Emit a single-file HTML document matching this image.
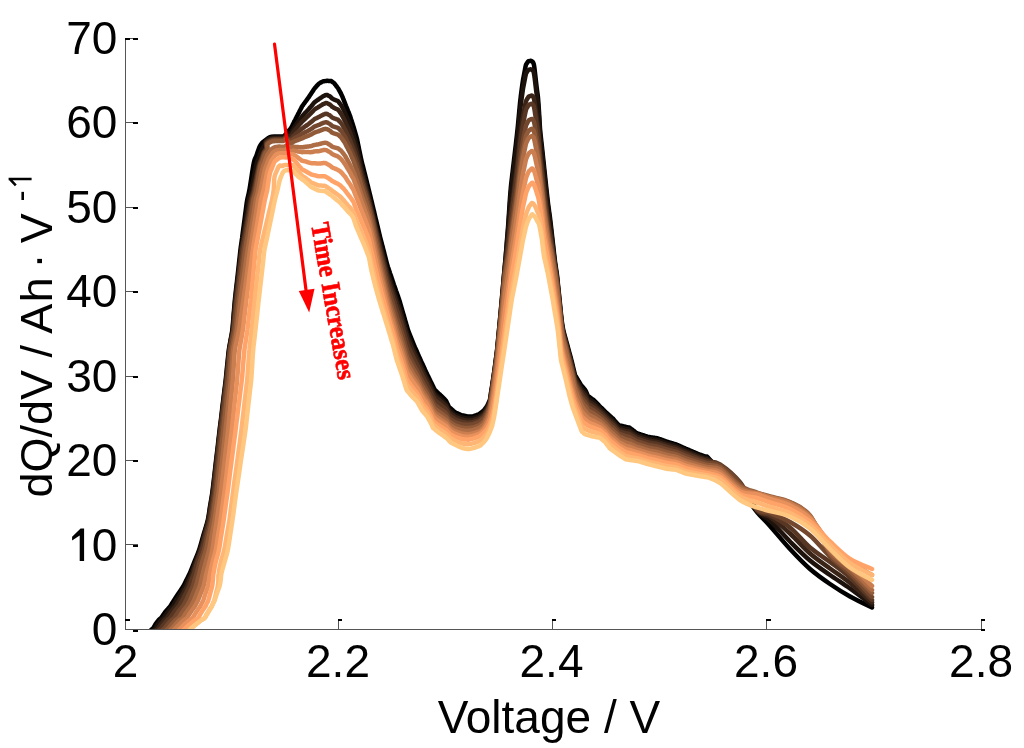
<!DOCTYPE html>
<html><head><meta charset="utf-8"><style>
html,body{margin:0;padding:0;background:#fff;}
body{width:1024px;height:748px;overflow:hidden;position:relative;}
svg{position:absolute;left:0;top:0;}
.t{font-family:"Liberation Sans",sans-serif;font-size:46px;fill:#000;}
.ga{opacity:0.995;}
</style></head><body>
<svg width="1024" height="748" viewBox="0 0 1024 748">
<defs><clipPath id="c"><rect x="125" y="0" width="900" height="629.5"/></clipPath></defs>
<g clip-path="url(#c)" fill="none" stroke-width="4.5" stroke-linejoin="round" stroke-linecap="round">
<path d="M136.0,660.0C137.2,656.7 141.1,644.8 143.5,640.0C145.9,635.2 148.7,633.0 150.3,631.0C151.9,629.0 152.4,629.2 153.3,628.0C154.2,626.8 154.7,625.3 155.6,624.0C156.5,622.7 157.8,621.0 158.7,620.0C159.6,619.0 160.3,618.8 161.0,618.0C161.7,617.2 162.4,616.0 163.2,615.0C163.9,614.0 164.5,613.0 165.3,612.0C166.1,611.0 167.0,610.0 167.9,609.0C168.7,608.0 169.7,607.0 170.4,606.0C171.1,605.0 171.7,604.0 172.3,603.0C172.9,602.0 173.1,601.7 174.2,600.0C175.3,598.3 177.3,595.3 178.8,593.0C180.4,590.7 182.2,588.2 183.5,586.0C184.8,583.8 185.4,582.0 186.4,580.0C187.4,578.0 188.2,577.0 189.5,574.0C190.8,571.0 192.7,566.0 194.3,562.0C195.9,558.0 197.6,554.5 199.1,550.0C200.6,545.5 202.0,540.0 203.4,535.0C204.9,530.0 206.7,524.8 207.8,520.0C208.9,515.2 209.3,510.7 210.1,506.0C210.9,501.3 211.7,497.0 212.4,492.0C213.1,487.0 213.6,481.3 214.3,476.0C214.9,470.7 215.5,465.2 216.1,460.0C216.7,454.8 217.3,450.0 217.9,445.0C218.4,440.0 219.1,434.5 219.6,430.0C220.1,425.5 220.6,422.2 221.1,418.0C221.6,413.8 222.1,409.3 222.6,405.0C223.2,400.7 223.7,396.2 224.2,392.0C224.7,387.8 225.2,384.5 225.7,380.0C226.2,375.5 226.7,370.0 227.2,365.0C227.8,360.0 228.2,354.2 228.8,350.0C229.4,345.8 230.0,343.3 230.6,340.0C231.1,336.7 231.8,334.2 232.3,330.0C232.8,325.8 233.2,320.0 233.6,315.0C234.0,310.0 234.5,304.5 234.9,300.0C235.3,295.5 235.8,292.2 236.2,288.0C236.7,283.8 237.2,279.3 237.7,275.0C238.2,270.7 238.7,266.2 239.1,262.0C239.6,257.8 240.0,254.0 240.4,250.0C240.9,246.0 241.5,242.2 242.1,238.0C242.6,233.8 243.2,229.3 243.8,225.0C244.4,220.7 245.0,216.2 245.5,212.0C246.1,207.8 246.5,203.7 247.2,200.0C247.8,196.3 248.3,196.2 249.4,190.0C250.5,183.8 252.6,168.8 253.8,163.0C255.0,157.2 255.6,158.2 256.5,155.5C257.4,152.8 258.6,149.1 259.5,147.0C260.4,144.9 261.1,144.1 262.0,143.0C262.9,141.9 263.7,141.5 265.0,140.5C266.3,139.5 268.3,137.9 270.0,137.2C271.7,136.5 272.9,136.6 275.0,136.5C277.1,136.4 280.8,136.8 282.5,136.5C284.2,136.2 284.2,135.8 285.0,135.0C285.8,134.2 286.5,133.2 287.5,132.0C288.5,130.8 290.1,129.3 291.0,128.0C291.9,126.7 292.5,125.1 293.0,124.1C293.5,123.1 293.7,122.8 294.0,122.1C294.3,121.5 294.7,120.8 295.0,120.2C295.3,119.5 295.7,118.9 296.0,118.2C296.3,117.6 296.7,116.9 297.0,116.3C297.3,115.6 297.7,115.0 298.0,114.3C298.3,113.7 298.7,113.0 299.0,112.4C299.3,111.7 299.7,111.1 300.0,110.4C300.3,109.8 300.7,109.1 301.0,108.5C301.3,107.8 301.7,107.1 302.0,106.5C302.3,105.9 302.7,105.6 303.0,105.1C303.3,104.7 303.7,104.2 304.0,103.7C304.3,103.3 304.7,102.8 305.0,102.3C305.3,101.9 305.7,101.4 306.0,101.0C306.3,100.5 306.7,100.0 307.0,99.6C307.3,99.1 307.7,98.7 308.0,98.2C308.3,97.7 308.7,97.2 309.0,96.8C309.3,96.3 309.7,95.8 310.0,95.2C310.3,94.8 310.7,94.2 311.0,93.8C311.3,93.2 311.7,92.8 312.0,92.2C312.3,91.8 312.7,91.2 313.0,90.8C313.3,90.2 313.7,89.7 314.0,89.2C314.3,88.8 314.7,88.3 315.0,87.9C315.3,87.5 315.7,87.2 316.0,86.8C316.3,86.5 316.7,86.1 317.0,85.7C317.3,85.4 317.7,85.0 318.0,84.6C318.3,84.2 318.7,83.8 319.0,83.5C319.3,83.2 319.7,83.1 320.0,83.0C320.3,82.8 320.7,82.6 321.0,82.5C321.3,82.3 321.7,82.1 322.0,81.9C322.3,81.8 322.7,81.5 323.0,81.4C323.3,81.3 323.7,81.3 324.0,81.2C324.3,81.2 324.7,81.1 325.0,81.1C325.3,81.0 325.7,81.0 326.0,81.0C326.3,80.9 326.7,80.8 327.0,80.8C327.3,80.8 327.7,80.8 328.0,80.8C328.3,80.9 328.7,80.9 329.0,80.9C329.3,80.9 329.7,80.9 330.0,81.0C330.3,81.0 330.7,80.9 331.0,81.0C331.3,81.1 331.7,81.4 332.0,81.7C332.3,81.9 332.7,82.1 333.0,82.3C333.3,82.6 333.7,82.7 334.0,83.0C334.3,83.3 334.7,83.9 335.0,84.3C335.3,84.7 335.7,85.2 336.0,85.6C336.3,86.0 336.7,86.5 337.0,86.9C337.3,87.3 337.7,87.7 338.0,88.2C338.3,88.7 338.7,89.4 339.0,90.0C339.3,90.6 339.7,91.2 340.0,91.8C340.3,92.4 340.7,92.9 341.0,93.6C341.3,94.3 341.7,95.0 342.0,95.7C342.3,96.5 342.7,97.4 343.0,98.2C343.3,99.0 343.7,99.9 344.0,100.7C344.3,101.6 344.7,102.4 345.0,103.2C345.3,104.1 345.7,104.9 346.0,105.8C346.3,106.6 346.7,107.5 347.0,108.3C347.3,109.1 347.7,109.9 348.0,110.8C348.3,111.6 348.7,112.4 349.0,113.2C349.3,114.1 349.7,114.9 350.0,115.8C350.3,116.7 350.7,117.8 351.0,118.9C351.3,119.9 351.7,120.8 352.0,121.9C352.3,122.9 352.7,124.0 353.0,125.1C353.3,126.2 353.7,127.3 354.0,128.4C354.3,129.5 354.7,130.7 355.0,131.8C355.3,133.0 355.7,134.2 356.0,135.4C356.3,136.6 356.7,137.6 357.0,139.0C357.3,140.4 357.7,142.3 358.0,143.9C358.3,145.5 358.7,147.1 359.0,148.8C359.3,150.4 359.7,152.0 360.0,153.7C360.3,155.3 360.7,157.0 361.0,158.5C361.3,160.0 361.7,161.4 362.0,162.7C362.3,164.1 362.7,165.3 363.0,166.6C363.3,167.9 363.7,169.2 364.0,170.5C364.3,171.9 364.7,173.2 365.0,174.5C365.3,175.8 365.7,177.2 366.0,178.5C366.3,179.9 366.7,181.2 367.0,182.6C367.3,183.9 367.7,185.3 368.0,186.6C368.3,188.0 368.7,189.4 369.0,190.7C369.3,192.1 369.7,193.4 370.0,194.8C370.3,196.2 370.7,197.5 371.0,198.9C371.3,200.2 371.7,201.6 372.0,203.0C372.3,204.3 372.7,205.7 373.0,207.1C373.3,208.5 373.7,209.9 374.0,211.3C374.3,212.7 374.7,214.2 375.0,215.6C375.3,217.0 375.7,218.4 376.0,219.8C376.3,221.2 376.7,222.6 377.0,224.0C377.3,225.4 377.7,226.8 378.0,228.2C378.3,229.6 378.7,231.1 379.0,232.5C379.3,233.9 379.7,235.2 380.0,236.6C380.3,237.9 380.7,239.2 381.0,240.5C381.3,241.8 381.7,243.1 382.0,244.4C382.3,245.6 382.7,246.9 383.0,248.2C383.3,249.5 383.7,250.8 384.0,252.1C384.3,253.4 384.7,254.7 385.0,256.0C385.3,257.3 385.7,258.6 386.0,259.9C386.3,261.2 386.7,262.6 387.0,263.8C387.3,265.0 387.7,266.0 388.0,267.1C388.3,268.1 388.7,269.1 389.0,270.1C389.3,271.1 389.7,272.1 390.0,273.1C390.3,274.0 390.7,275.0 391.0,276.0C391.3,277.0 391.7,278.0 392.0,279.0C392.3,280.0 392.7,281.0 393.0,282.0C393.3,283.0 393.7,283.9 394.0,284.9C394.3,285.8 394.7,286.8 395.0,287.7C395.3,288.7 395.7,289.6 396.0,290.6C396.3,291.5 396.7,292.5 397.0,293.4C397.3,294.4 397.7,295.3 398.0,296.3C398.3,297.2 398.7,298.1 399.0,299.1C399.3,300.2 399.7,301.3 400.0,302.4C400.3,303.5 400.7,304.7 401.0,305.9C401.3,307.0 401.7,308.2 402.0,309.3C402.3,310.5 402.7,311.6 403.0,312.8C403.3,313.9 403.7,315.1 404.0,316.2C404.3,317.4 404.7,318.5 405.0,319.7C405.3,320.8 405.7,322.0 406.0,323.1C406.3,324.3 406.7,325.4 407.0,326.6C407.3,327.7 407.7,329.0 408.0,330.0C408.3,331.0 408.7,331.7 409.0,332.5C409.3,333.3 409.7,334.2 410.0,335.0C410.3,335.8 410.7,336.7 411.0,337.5C411.3,338.3 411.7,339.2 412.0,340.0C412.3,340.8 412.7,341.7 413.0,342.5C413.3,343.3 413.7,344.2 414.0,345.0C414.3,345.8 414.7,346.5 415.0,347.3C415.3,348.0 415.7,348.8 416.0,349.5C416.3,350.3 416.7,351.1 417.0,351.8C417.3,352.6 417.7,353.3 418.0,354.1C418.3,354.8 418.7,355.6 419.0,356.4C419.3,357.1 419.7,357.9 420.0,358.6C420.3,359.4 420.7,360.1 421.0,360.9C421.3,361.6 421.7,362.3 422.0,363.0C422.3,363.8 422.7,364.5 423.0,365.2C423.3,365.9 423.7,366.7 424.0,367.4C424.3,368.1 424.7,368.8 425.0,369.6C425.3,370.3 425.7,371.0 426.0,371.7C426.3,372.5 426.7,373.2 427.0,373.9C427.3,374.6 427.7,375.3 428.0,376.0C428.3,376.7 428.7,377.4 429.0,378.0C429.3,378.7 429.7,379.4 430.0,380.1C430.3,380.7 430.7,381.4 431.0,382.1C431.3,382.8 431.7,383.4 432.0,384.1C432.3,384.8 432.7,385.5 433.0,386.1C433.3,386.8 433.7,387.5 434.0,388.2C434.3,388.8 434.7,389.6 435.0,390.1C435.3,390.6 435.7,390.7 436.0,391.0C436.3,391.3 436.7,391.6 437.0,392.0C437.3,392.3 437.7,392.6 438.0,392.9C438.3,393.2 438.7,393.5 439.0,393.8C439.3,394.1 439.7,394.4 440.0,394.7C440.3,395.1 440.7,395.4 441.0,395.7C441.3,396.0 441.7,396.4 442.0,396.7C442.3,397.0 442.7,397.4 443.0,397.7C443.3,398.0 443.7,398.4 444.0,398.7C444.3,399.0 444.7,399.4 445.0,399.7C445.3,400.0 445.7,400.2 446.0,400.7C446.3,401.2 446.7,402.1 447.0,402.8C447.3,403.5 447.7,404.2 448.0,404.9C448.3,405.6 448.7,406.5 449.0,407.0C449.3,407.5 449.7,407.6 450.0,407.9C450.3,408.2 450.7,408.4 451.0,408.7C451.3,409.0 451.7,409.3 452.0,409.6C452.3,409.9 452.7,410.2 453.0,410.5C453.3,410.8 453.7,411.1 454.0,411.4C454.3,411.6 454.7,412.0 455.0,412.2C455.3,412.5 455.7,412.6 456.0,412.8C456.3,412.9 456.7,413.0 457.0,413.2C457.3,413.3 457.7,413.5 458.0,413.6C458.3,413.8 458.7,413.9 459.0,414.1C459.3,414.2 459.7,414.4 460.0,414.5C460.3,414.7 460.7,414.8 461.0,415.0C461.3,415.1 461.7,415.2 462.0,415.3C462.3,415.3 462.7,415.4 463.0,415.5C463.3,415.6 463.7,415.6 464.0,415.7C464.3,415.8 464.7,415.8 465.0,415.9C465.3,416.0 465.7,416.1 466.0,416.1C466.3,416.2 466.7,416.3 467.0,416.4C467.3,416.4 467.7,416.5 468.0,416.5C468.3,416.5 468.7,416.5 469.0,416.5C469.3,416.5 469.7,416.5 470.0,416.5C470.3,416.5 470.7,416.5 471.0,416.5C471.3,416.5 471.7,416.5 472.0,416.5C472.3,416.5 472.7,416.4 473.0,416.3C473.3,416.2 473.7,416.1 474.0,416.0C474.3,415.9 474.7,415.8 475.0,415.6C475.3,415.5 475.7,415.4 476.0,415.3C476.3,415.2 476.7,415.1 477.0,415.0C477.3,414.8 477.7,414.7 478.0,414.6C478.3,414.5 478.7,414.3 479.0,414.1C479.3,413.9 479.7,413.6 480.0,413.4C480.3,413.1 480.7,412.9 481.0,412.6C481.3,412.4 481.7,412.1 482.0,411.9C482.3,411.6 482.7,411.4 483.0,411.1C483.3,410.8 483.7,410.6 484.0,410.2C484.3,409.8 484.7,409.3 485.0,408.8C485.3,408.4 485.7,407.9 486.0,407.5C486.3,407.0 486.7,406.7 487.0,406.1C487.3,405.6 487.7,404.9 488.0,404.2C488.3,403.5 488.7,402.6 489.0,401.8C489.3,401.1 489.7,401.0 490.0,399.5C490.3,398.0 490.7,394.9 491.0,392.8C491.3,390.7 491.7,388.8 492.0,386.7C492.3,384.5 492.7,382.2 493.0,380.0C493.3,377.8 493.7,375.6 494.0,373.3C494.3,371.0 494.7,368.6 495.0,366.2C495.3,363.7 495.7,361.0 496.0,358.5C496.3,355.9 496.7,353.7 497.0,350.8C497.3,347.8 497.7,344.1 498.0,340.6C498.3,337.2 498.7,333.7 499.0,330.2C499.3,326.7 499.7,323.2 500.0,319.6C500.3,316.0 500.7,312.3 501.0,308.7C501.3,305.1 501.7,301.4 502.0,297.7C502.3,294.0 502.7,290.2 503.0,286.4C503.3,282.6 503.7,278.7 504.0,275.0C504.3,271.3 504.7,268.0 505.0,264.3C505.3,260.5 505.7,256.5 506.0,252.5C506.3,248.5 506.7,244.2 507.0,240.0C507.3,235.8 507.7,232.0 508.0,227.5C508.3,223.0 508.7,217.8 509.0,212.8C509.3,207.8 509.7,202.1 510.0,197.6C510.3,193.1 510.7,189.1 511.0,185.7C511.3,182.3 511.7,180.0 512.0,177.1C512.3,174.3 512.7,171.4 513.0,168.6C513.3,165.7 513.7,162.9 514.0,160.0C514.3,157.1 514.7,154.3 515.0,151.4C515.3,148.6 515.7,145.7 516.0,142.9C516.3,140.0 516.7,137.3 517.0,134.3C517.3,131.2 517.7,128.0 518.0,124.6C518.3,121.2 518.7,117.5 519.0,113.9C519.3,110.4 519.7,106.4 520.0,103.2C520.3,100.0 520.7,97.3 521.0,94.6C521.3,91.9 521.7,89.6 522.0,87.1C522.3,84.7 522.7,82.1 523.0,80.0C523.3,77.9 523.7,76.5 524.0,74.7C524.3,72.9 524.7,71.0 525.0,69.4C525.3,67.7 525.7,65.7 526.0,64.7C526.3,63.7 526.7,63.7 527.0,63.2C527.3,62.7 527.7,62.1 528.0,61.7C528.3,61.4 528.7,61.1 529.0,61.0C529.3,60.8 529.7,60.9 530.0,60.9C530.3,60.9 530.7,60.8 531.0,60.8C531.3,60.9 531.7,61.1 532.0,61.3C532.3,61.5 532.7,61.7 533.0,62.3C533.3,62.9 533.7,63.4 534.0,65.2C534.3,66.9 534.7,70.1 535.0,72.8C535.3,75.5 535.7,78.8 536.0,81.7C536.3,84.5 536.7,87.3 537.0,90.0C537.3,92.7 537.7,94.1 538.0,97.7C538.3,101.3 538.7,106.6 539.0,111.7C539.3,116.8 539.7,123.9 540.0,128.3C540.3,132.8 540.7,135.0 541.0,138.2C541.3,141.3 541.7,144.2 542.0,147.3C542.3,150.3 542.7,153.5 543.0,156.6C543.3,159.7 543.7,162.9 544.0,166.0C544.3,169.2 544.7,172.3 545.0,175.5C545.3,178.6 545.7,181.8 546.0,184.9C546.3,188.1 546.7,191.3 547.0,194.3C547.3,197.3 547.7,200.3 548.0,203.0C548.3,205.6 548.7,207.9 549.0,210.4C549.3,212.8 549.7,215.1 550.0,217.8C550.3,220.4 550.7,223.3 551.0,226.2C551.3,229.1 551.7,232.1 552.0,235.1C552.3,238.1 552.7,241.0 553.0,244.0C553.3,247.0 553.7,250.0 554.0,252.9C554.3,255.8 554.7,258.8 555.0,261.4C555.3,263.9 555.7,265.9 556.0,268.2C556.3,270.5 556.7,272.3 557.0,275.0C557.3,277.7 557.7,281.4 558.0,284.6C558.3,287.8 558.7,291.0 559.0,294.2C559.3,297.5 559.7,300.7 560.0,304.0C560.3,307.3 560.7,310.9 561.0,314.0C561.3,317.1 561.7,320.0 562.0,322.5C562.3,325.0 562.7,327.0 563.0,328.7C563.3,330.5 563.7,331.6 564.0,332.9C564.3,334.2 564.7,335.4 565.0,336.6C565.3,337.8 565.7,339.0 566.0,340.2C566.3,341.5 566.7,342.7 567.0,343.9C567.3,345.1 567.7,346.3 568.0,347.6C568.3,348.8 568.7,350.0 569.0,351.2C569.3,352.4 569.7,353.7 570.0,354.9C570.3,356.1 570.7,357.3 571.0,358.5C571.3,359.8 571.7,361.1 572.0,362.5C572.3,363.9 572.7,365.3 573.0,366.7C573.3,368.1 573.7,369.4 574.0,370.8C574.3,372.2 574.7,374.0 575.0,375.0C575.3,376.0 575.7,376.1 576.0,376.7C576.3,377.2 576.7,377.8 577.0,378.3C577.3,378.9 577.7,379.4 578.0,380.0C578.3,380.6 578.7,381.1 579.0,381.7C579.3,382.2 579.7,382.8 580.0,383.3C580.3,383.9 580.7,384.5 581.0,385.0C581.3,385.5 581.7,385.8 582.0,386.2C582.3,386.6 582.7,387.0 583.0,387.4C583.3,387.7 583.7,388.1 584.0,388.5C584.3,388.9 584.7,389.2 585.0,389.7C585.3,390.2 585.7,390.8 586.0,391.4C586.3,392.1 586.7,393.0 587.0,393.7C587.3,394.5 587.7,395.5 588.0,396.0C588.3,396.5 588.7,396.5 589.0,396.7C589.3,397.0 589.7,397.2 590.0,397.4C590.3,397.7 590.7,397.9 591.0,398.1C591.3,398.4 591.7,398.6 592.0,398.9C592.3,399.1 592.7,399.3 593.0,399.6C593.3,399.8 593.7,400.0 594.0,400.3C594.3,400.6 594.7,401.0 595.0,401.3C595.3,401.7 595.7,402.0 596.0,402.4C596.3,402.7 596.7,403.1 597.0,403.4C597.3,403.7 597.7,404.1 598.0,404.4C598.3,404.8 598.7,405.1 599.0,405.5C599.3,405.8 599.7,406.2 600.0,406.5C600.3,406.8 600.7,407.2 601.0,407.5C601.3,407.8 601.7,408.1 602.0,408.5C602.3,408.8 602.7,409.1 603.0,409.5C603.3,409.8 603.7,410.1 604.0,410.4C604.3,410.8 604.7,411.1 605.0,411.4C605.3,411.8 605.7,412.1 606.0,412.4C606.3,412.7 606.7,413.0 607.0,413.4C607.3,413.7 607.7,413.9 608.0,414.2C608.3,414.5 608.7,414.8 609.0,415.1C609.3,415.4 609.7,415.7 610.0,416.0C610.3,416.3 610.7,416.6 611.0,416.9C611.3,417.2 611.7,417.5 612.0,417.8C612.3,418.1 612.7,418.4 613.0,418.7C613.3,419.0 613.7,419.5 614.0,419.8C614.3,420.2 614.7,420.6 615.0,421.0C615.3,421.4 615.7,421.7 616.0,422.1C616.3,422.5 616.7,422.9 617.0,423.3C617.3,423.6 617.7,424.0 618.0,424.4C618.3,424.7 618.7,425.1 619.0,425.3C619.3,425.5 619.7,425.5 620.0,425.6C620.3,425.6 620.7,425.7 621.0,425.8C621.3,425.8 621.7,425.9 622.0,426.0C622.3,426.1 622.7,426.1 623.0,426.2C623.3,426.3 623.7,426.4 624.0,426.4C624.3,426.5 624.7,426.6 625.0,426.6C625.3,426.7 625.7,426.8 626.0,426.9C626.3,426.9 626.7,427.0 627.0,427.1C627.3,427.2 627.7,427.2 628.0,427.3C628.3,427.4 628.7,427.4 629.0,427.5C629.3,427.6 629.7,427.8 630.0,428.1C630.3,428.3 630.7,428.6 631.0,428.8C631.3,429.1 631.7,429.3 632.0,429.6C632.3,429.8 632.7,430.1 633.0,430.3C633.3,430.6 633.7,430.8 634.0,431.1C634.3,431.3 634.7,431.6 635.0,431.8C635.3,432.1 635.7,432.4 636.0,432.6C636.3,432.8 636.7,433.1 637.0,433.3C637.3,433.4 637.7,433.5 638.0,433.6C638.3,433.7 638.7,433.8 639.0,433.9C639.3,434.0 639.7,434.1 640.0,434.2C640.3,434.4 640.7,434.5 641.0,434.6C641.3,434.7 641.7,434.8 642.0,434.9C642.3,435.0 642.7,435.1 643.0,435.2C643.3,435.3 643.7,435.4 644.0,435.6C644.3,435.7 644.7,435.8 645.0,435.9C645.3,436.0 645.7,436.1 646.0,436.2C646.3,436.3 646.7,436.4 647.0,436.5C647.3,436.6 647.7,436.8 648.0,436.9C648.3,436.9 648.7,437.0 649.0,437.0C649.3,437.1 649.7,437.1 650.0,437.2C650.3,437.2 650.7,437.3 651.0,437.3C651.3,437.4 651.7,437.4 652.0,437.5C652.3,437.5 652.7,437.6 653.0,437.6C653.3,437.7 653.7,437.7 654.0,437.8C654.3,437.8 654.7,437.9 655.0,437.9C655.3,438.0 655.7,438.0 656.0,438.1C656.3,438.1 656.7,438.2 657.0,438.2C657.3,438.3 657.7,438.4 658.0,438.5C658.3,438.6 658.7,438.7 659.0,438.9C659.3,439.0 659.7,439.1 660.0,439.2C660.3,439.3 660.7,439.4 661.0,439.6C661.3,439.7 661.7,439.8 662.0,439.9C662.3,440.0 662.7,440.1 663.0,440.3C663.3,440.4 663.7,440.5 664.0,440.6C664.3,440.7 664.7,440.9 665.0,441.0C665.3,441.1 665.7,441.2 666.0,441.3C666.3,441.4 666.7,441.6 667.0,441.7C667.3,441.8 667.7,441.9 668.0,442.0C668.3,442.1 668.7,442.2 669.0,442.3C669.3,442.4 669.7,442.5 670.0,442.6C670.3,442.7 670.7,442.8 671.0,442.9C671.3,443.0 671.7,443.1 672.0,443.2C672.3,443.3 672.7,443.4 673.0,443.5C673.3,443.6 673.7,443.7 674.0,443.8C674.3,443.9 674.7,444.0 675.0,444.1C675.3,444.2 675.7,444.2 676.0,444.4C676.3,444.5 676.7,444.7 677.0,444.8C677.3,444.9 677.7,445.1 678.0,445.2C678.3,445.4 678.7,445.5 679.0,445.7C679.3,445.8 679.7,446.0 680.0,446.1C680.3,446.3 680.7,446.4 681.0,446.6C681.3,446.7 681.7,446.9 682.0,447.0C682.3,447.2 682.7,447.3 683.0,447.5C683.3,447.6 683.7,447.8 684.0,447.9C684.3,448.1 684.7,448.2 685.0,448.4C685.3,448.5 685.7,448.7 686.0,448.8C686.3,449.0 686.7,449.1 687.0,449.2C687.3,449.4 687.7,449.5 688.0,449.7C688.3,449.8 688.7,449.9 689.0,450.1C689.3,450.2 689.7,450.4 690.0,450.5C690.3,450.7 690.7,450.8 691.0,450.9C691.3,451.1 691.7,451.2 692.0,451.4C692.3,451.5 692.7,451.6 693.0,451.8C693.3,451.9 693.7,452.1 694.0,452.2C694.3,452.3 694.7,452.5 695.0,452.6C695.3,452.8 695.7,452.9 696.0,453.1C696.3,453.2 696.7,453.3 697.0,453.5C697.3,453.6 697.7,453.8 698.0,453.9C698.3,454.0 698.7,454.2 699.0,454.3C699.3,454.5 699.7,454.6 700.0,454.7C700.3,454.8 700.7,454.9 701.0,455.1C701.3,455.2 701.7,455.3 702.0,455.4C702.3,455.5 702.7,455.6 703.0,455.8C703.3,455.9 703.7,456.0 704.0,456.1C704.3,456.2 704.7,456.3 705.0,456.5C705.3,456.6 705.7,456.7 706.0,456.8C706.3,456.9 706.7,457.0 707.0,457.2C707.3,457.3 705.8,455.2 708.0,457.5C710.2,459.8 714.7,465.6 720.0,471.0C725.3,476.4 733.8,483.2 740.0,490.0C746.2,496.8 752.0,506.0 757.0,512.0C762.0,518.0 764.5,519.8 770.0,526.0C775.5,532.2 783.3,541.8 790.0,549.0C796.7,556.2 803.3,563.2 810.0,569.0C816.7,574.8 823.3,579.4 830.0,584.0C836.7,588.6 843.0,592.6 850.0,596.5C857.0,600.4 868.3,605.7 872.0,607.5" stroke="#000000"/>
<path d="M138.1,660.0C139.4,656.7 143.3,644.8 145.7,640.0C148.1,635.2 150.9,633.0 152.5,631.0C154.2,629.0 154.6,629.2 155.5,628.0C156.4,626.8 157.0,625.3 158.0,624.0C158.9,622.7 160.3,621.0 161.2,620.0C162.1,619.0 162.8,618.8 163.5,618.0C164.3,617.2 165.0,616.0 165.7,615.0C166.4,614.0 167.0,613.0 167.8,612.0C168.6,611.0 169.5,610.0 170.3,609.0C171.1,608.0 172.1,607.0 172.8,606.0C173.5,605.0 174.1,604.0 174.7,603.0C175.3,602.0 175.5,601.7 176.5,600.0C177.6,598.3 179.4,595.3 180.9,593.0C182.3,590.7 184.1,588.2 185.3,586.0C186.4,583.8 187.0,582.0 187.9,580.0C188.9,578.0 189.6,577.0 190.8,574.0C192.0,571.0 193.8,566.0 195.3,562.0C196.8,558.0 198.4,554.5 199.9,550.0C201.4,545.5 202.6,540.0 204.0,535.0C205.4,530.0 207.1,524.8 208.2,520.0C209.2,515.2 209.7,510.7 210.4,506.0C211.2,501.3 212.0,497.0 212.7,492.0C213.4,487.0 214.0,481.3 214.6,476.0C215.2,470.7 215.8,465.2 216.4,460.0C217.0,454.8 217.6,450.0 218.2,445.0C218.7,440.0 219.4,434.5 219.9,430.0C220.4,425.5 220.8,422.2 221.4,418.0C221.9,413.8 222.4,409.3 222.9,405.0C223.5,400.7 224.0,396.2 224.5,392.0C225.0,387.8 225.5,384.5 226.0,380.0C226.5,375.5 227.0,370.0 227.5,365.0C228.1,360.0 228.5,354.2 229.1,350.0C229.6,345.8 230.3,343.3 230.8,340.0C231.4,336.7 232.1,334.2 232.6,330.0C233.1,325.8 233.5,320.0 233.9,315.0C234.3,310.0 234.8,304.5 235.2,300.0C235.7,295.5 236.1,292.2 236.6,288.0C237.1,283.8 237.7,279.3 238.2,275.0C238.7,270.7 239.2,266.2 239.7,262.0C240.2,257.8 240.6,254.0 241.1,250.0C241.7,246.0 242.3,242.2 242.9,238.0C243.6,233.8 244.2,229.3 244.9,225.0C245.5,220.7 246.2,216.2 246.8,212.0C247.5,207.8 247.9,203.7 248.6,200.0C249.4,196.3 250.1,195.9 251.4,190.0C252.7,184.1 255.1,170.2 256.4,164.8C257.6,159.4 258.1,160.1 259.0,157.5C259.9,154.9 261.0,151.4 261.9,149.5C262.7,147.6 263.6,147.1 264.2,145.8C264.9,144.5 264.6,142.7 265.6,141.4C266.6,140.1 268.9,138.8 270.5,138.2C272.1,137.5 273.3,137.6 275.4,137.5C277.4,137.4 281.1,137.8 282.7,137.5C284.3,137.3 284.3,136.6 285.1,136.1C286.0,135.6 286.7,135.1 287.7,134.5C288.7,133.9 290.1,133.2 291.0,132.3C291.9,131.4 292.5,129.9 293.0,129.1C293.5,128.3 293.7,128.1 294.0,127.6C294.3,127.1 294.7,126.7 295.0,126.2C295.3,125.7 295.7,125.2 296.0,124.8C296.3,124.3 296.7,123.8 297.0,123.4C297.3,122.9 297.7,122.4 298.0,122.0C298.3,121.5 298.7,121.0 299.0,120.6C299.3,120.1 299.7,119.6 300.0,119.2C300.3,118.7 300.7,118.3 301.0,117.8C301.3,117.4 301.7,116.9 302.0,116.5C302.3,116.1 302.7,115.7 303.0,115.4C303.3,115.0 303.7,114.6 304.0,114.3C304.3,113.9 304.7,113.5 305.0,113.2C305.3,112.8 305.7,112.5 306.0,112.1C306.3,111.7 306.7,111.4 307.0,111.0C307.3,110.7 307.7,110.3 308.0,110.0C308.3,109.6 308.7,109.2 309.0,108.8C309.3,108.5 309.7,108.1 310.0,107.7C310.3,107.3 310.7,106.9 311.0,106.5C311.3,106.1 311.7,105.7 312.0,105.3C312.3,104.9 312.7,104.5 313.0,104.1C313.3,103.7 313.7,103.2 314.0,102.8C314.3,102.5 314.7,102.1 315.0,101.9C315.3,101.6 315.7,101.4 316.0,101.2C316.3,100.9 316.7,100.7 317.0,100.5C317.3,100.2 317.7,100.0 318.0,99.8C318.3,99.5 318.7,99.3 319.0,99.0C319.3,98.8 319.7,98.6 320.0,98.4C320.3,98.1 320.7,97.9 321.0,97.7C321.3,97.5 321.7,97.2 322.0,97.0C322.3,96.8 322.7,96.5 323.0,96.3C323.3,96.1 323.7,96.0 324.0,95.8C324.3,95.7 324.7,95.5 325.0,95.4C325.3,95.2 325.7,95.0 326.0,95.0C326.3,94.9 326.7,94.9 327.0,95.0C327.3,95.1 327.7,95.3 328.0,95.5C328.3,95.6 328.7,95.8 329.0,95.9C329.3,96.1 329.7,96.1 330.0,96.4C330.3,96.6 330.7,97.0 331.0,97.4C331.3,97.7 331.7,98.1 332.0,98.4C332.3,98.7 332.7,98.8 333.0,99.0C333.3,99.2 333.7,99.4 334.0,99.5C334.3,99.7 334.7,99.8 335.0,99.9C335.3,100.1 335.7,100.2 336.0,100.3C336.3,100.5 336.7,100.6 337.0,100.7C337.3,100.9 337.7,100.9 338.0,101.1C338.3,101.4 338.7,102.0 339.0,102.4C339.3,102.8 339.7,103.3 340.0,103.7C340.3,104.1 340.7,104.5 341.0,105.0C341.3,105.5 341.7,106.1 342.0,106.6C342.3,107.2 342.7,107.9 343.0,108.6C343.3,109.2 343.7,109.9 344.0,110.6C344.3,111.2 344.7,111.8 345.0,112.6C345.3,113.3 345.7,114.2 346.0,115.0C346.3,115.8 346.7,116.6 347.0,117.4C347.3,118.2 347.7,118.9 348.0,119.7C348.3,120.5 348.7,121.3 349.0,122.1C349.3,122.9 349.7,123.6 350.0,124.5C350.3,125.4 350.7,126.4 351.0,127.4C351.3,128.3 351.7,129.3 352.0,130.3C352.3,131.2 352.7,132.3 353.0,133.3C353.3,134.3 353.7,135.4 354.0,136.5C354.3,137.6 354.7,138.7 355.0,139.9C355.3,141.0 355.7,142.2 356.0,143.4C356.3,144.5 356.7,145.5 357.0,146.8C357.3,148.2 357.7,149.9 358.0,151.5C358.3,153.0 358.7,154.6 359.0,156.1C359.3,157.7 359.7,159.2 360.0,160.8C360.3,162.3 360.7,164.0 361.0,165.4C361.3,166.8 361.7,168.1 362.0,169.4C362.3,170.7 362.7,171.9 363.0,173.2C363.3,174.4 363.7,175.7 364.0,176.9C364.3,178.2 364.7,179.4 365.0,180.7C365.3,182.0 365.7,183.3 366.0,184.6C366.3,185.9 366.7,187.2 367.0,188.5C367.3,189.8 367.7,191.1 368.0,192.4C368.3,193.7 368.7,195.0 369.0,196.4C369.3,197.7 369.7,199.2 370.0,200.6C370.3,202.0 370.7,203.4 371.0,204.7C371.3,206.1 371.7,207.4 372.0,208.8C372.3,210.2 372.7,211.6 373.0,213.0C373.3,214.5 373.7,215.9 374.0,217.3C374.3,218.7 374.7,220.2 375.0,221.6C375.3,223.0 375.7,224.4 376.0,225.8C376.3,227.2 376.7,228.7 377.0,230.1C377.3,231.5 377.7,232.9 378.0,234.3C378.3,235.7 378.7,237.1 379.0,238.5C379.3,239.9 379.7,241.3 380.0,242.6C380.3,243.9 380.7,245.2 381.0,246.5C381.3,247.8 381.7,249.1 382.0,250.4C382.3,251.7 382.7,253.0 383.0,254.3C383.3,255.6 383.7,256.9 384.0,258.2C384.3,259.5 384.7,260.8 385.0,262.1C385.3,263.4 385.7,264.7 386.0,266.0C386.3,267.3 386.7,268.7 387.0,269.9C387.3,271.1 387.7,272.1 388.0,273.2C388.3,274.2 388.7,275.2 389.0,276.2C389.3,277.3 389.7,278.3 390.0,279.3C390.3,280.3 390.7,281.3 391.0,282.3C391.3,283.3 391.7,284.3 392.0,285.3C392.3,286.3 392.7,287.3 393.0,288.3C393.3,289.3 393.7,290.2 394.0,291.2C394.3,292.2 394.7,293.2 395.0,294.2C395.3,295.1 395.7,296.1 396.0,297.1C396.3,298.1 396.7,299.1 397.0,300.0C397.3,301.0 397.7,301.9 398.0,302.8C398.3,303.8 398.7,304.7 399.0,305.7C399.3,306.7 399.7,307.8 400.0,308.9C400.3,310.0 400.7,311.1 401.0,312.2C401.3,313.3 401.7,314.5 402.0,315.6C402.3,316.7 402.7,317.9 403.0,319.0C403.3,320.1 403.7,321.3 404.0,322.4C404.3,323.5 404.7,324.7 405.0,325.8C405.3,326.9 405.7,328.1 406.0,329.2C406.3,330.3 406.7,331.4 407.0,332.5C407.3,333.6 407.7,334.8 408.0,335.7C408.3,336.7 408.7,337.3 409.0,338.1C409.3,338.9 409.7,339.6 410.0,340.4C410.3,341.2 410.7,342.0 411.0,342.8C411.3,343.6 411.7,344.4 412.0,345.2C412.3,346.0 412.7,346.8 413.0,347.6C413.3,348.3 413.7,349.2 414.0,349.9C414.3,350.7 414.7,351.4 415.0,352.1C415.3,352.8 415.7,353.5 416.0,354.2C416.3,355.0 416.7,355.7 417.0,356.4C417.3,357.1 417.7,357.9 418.0,358.6C418.3,359.3 418.7,360.1 419.0,360.8C419.3,361.6 419.7,362.3 420.0,363.1C420.3,363.8 420.7,364.5 421.0,365.3C421.3,366.0 421.7,366.7 422.0,367.4C422.3,368.1 422.7,368.8 423.0,369.5C423.3,370.2 423.7,370.9 424.0,371.6C424.3,372.3 424.7,373.0 425.0,373.6C425.3,374.3 425.7,375.0 426.0,375.7C426.3,376.4 426.7,377.1 427.0,377.8C427.3,378.5 427.7,379.2 428.0,379.9C428.3,380.6 428.7,381.2 429.0,381.9C429.3,382.6 429.7,383.2 430.0,383.9C430.3,384.6 430.7,385.2 431.0,385.9C431.3,386.6 431.7,387.3 432.0,387.9C432.3,388.6 432.7,389.3 433.0,390.0C433.3,390.6 433.7,391.3 434.0,391.9C434.3,392.5 434.7,393.3 435.0,393.7C435.3,394.2 435.7,394.3 436.0,394.6C436.3,394.9 436.7,395.2 437.0,395.5C437.3,395.8 437.7,396.1 438.0,396.4C438.3,396.7 438.7,397.0 439.0,397.3C439.3,397.6 439.7,397.9 440.0,398.2C440.3,398.5 440.7,398.8 441.0,399.1C441.3,399.4 441.7,399.7 442.0,400.0C442.3,400.3 442.7,400.6 443.0,400.9C443.3,401.3 443.7,401.6 444.0,401.9C444.3,402.2 444.7,402.5 445.0,402.8C445.3,403.1 445.7,403.3 446.0,403.8C446.3,404.3 446.7,405.0 447.0,405.7C447.3,406.4 447.7,407.1 448.0,407.8C448.3,408.4 448.7,409.2 449.0,409.7C449.3,410.2 449.7,410.3 450.0,410.5C450.3,410.8 450.7,411.1 451.0,411.4C451.3,411.7 451.7,411.9 452.0,412.2C452.3,412.5 452.7,412.8 453.0,413.0C453.3,413.3 453.7,413.6 454.0,413.8C454.3,414.1 454.7,414.4 455.0,414.7C455.3,414.9 455.7,415.0 456.0,415.2C456.3,415.3 456.7,415.4 457.0,415.6C457.3,415.7 457.7,415.9 458.0,416.0C458.3,416.1 458.7,416.3 459.0,416.4C459.3,416.5 459.7,416.7 460.0,416.8C460.3,417.0 460.7,417.1 461.0,417.2C461.3,417.4 461.7,417.4 462.0,417.5C462.3,417.6 462.7,417.6 463.0,417.7C463.3,417.8 463.7,417.8 464.0,417.9C464.3,418.0 464.7,418.0 465.0,418.1C465.3,418.2 465.7,418.2 466.0,418.3C466.3,418.3 466.7,418.4 467.0,418.5C467.3,418.5 467.7,418.6 468.0,418.6C468.3,418.6 468.7,418.6 469.0,418.5C469.3,418.5 469.7,418.5 470.0,418.5C470.3,418.5 470.7,418.5 471.0,418.5C471.3,418.5 471.7,418.5 472.0,418.5C472.3,418.4 472.7,418.4 473.0,418.3C473.3,418.2 473.7,418.1 474.0,418.0C474.3,417.8 474.7,417.7 475.0,417.6C475.3,417.5 475.7,417.4 476.0,417.3C476.3,417.2 476.7,417.0 477.0,416.9C477.3,416.8 477.7,416.7 478.0,416.6C478.3,416.4 478.7,416.3 479.0,416.1C479.3,415.9 479.7,415.6 480.0,415.4C480.3,415.1 480.7,414.9 481.0,414.6C481.3,414.4 481.7,414.1 482.0,413.9C482.3,413.6 482.7,413.4 483.0,413.1C483.3,412.8 483.7,412.6 484.0,412.2C484.3,411.7 484.7,411.1 485.0,410.6C485.3,410.1 485.7,409.6 486.0,409.1C486.3,408.6 486.7,408.2 487.0,407.6C487.3,407.0 487.7,406.2 488.0,405.4C488.3,404.7 488.7,403.8 489.0,402.9C489.3,402.1 489.7,402.0 490.0,400.4C490.3,398.9 490.7,395.8 491.0,393.6C491.3,391.4 491.7,389.5 492.0,387.3C492.3,385.2 492.7,382.8 493.0,380.5C493.3,378.2 493.7,375.9 494.0,373.6C494.3,371.3 494.7,368.9 495.0,366.4C495.3,363.9 495.7,361.3 496.0,358.7C496.3,356.2 496.7,354.0 497.0,351.1C497.3,348.1 497.7,344.4 498.0,340.9C498.3,337.5 498.7,334.0 499.0,330.5C499.3,327.0 499.7,323.5 500.0,319.9C500.3,316.3 500.7,312.7 501.0,309.1C501.3,305.4 501.7,301.8 502.0,298.1C502.3,294.4 502.7,290.6 503.0,286.8C503.3,283.0 503.7,279.1 504.0,275.5C504.3,271.8 504.7,268.4 505.0,264.8C505.3,261.2 505.7,257.6 506.0,253.9C506.3,250.1 506.7,246.2 507.0,242.3C507.3,238.5 507.7,235.1 508.0,231.0C508.3,226.8 508.7,222.1 509.0,217.6C509.3,213.1 509.7,208.1 510.0,203.9C510.3,199.7 510.7,195.6 511.0,192.3C511.3,188.9 511.7,186.6 512.0,183.8C512.3,181.0 512.7,178.2 513.0,175.4C513.3,172.6 513.7,169.9 514.0,167.1C514.3,164.3 514.7,161.5 515.0,158.7C515.3,155.9 515.7,153.1 516.0,150.3C516.3,147.5 516.7,144.9 517.0,141.9C517.3,139.0 517.7,135.8 518.0,132.5C518.3,129.2 518.7,125.6 519.0,122.1C519.3,118.6 519.7,114.8 520.0,111.7C520.3,108.5 520.7,105.9 521.0,103.2C521.3,100.6 521.7,98.3 522.0,95.9C522.3,93.5 522.7,90.9 523.0,88.8C523.3,86.7 523.7,85.3 524.0,83.6C524.3,81.8 524.7,79.9 525.0,78.3C525.3,76.6 525.7,74.7 526.0,73.6C526.3,72.6 526.7,72.6 527.0,72.0C527.3,71.5 527.7,70.9 528.0,70.5C528.3,70.1 528.7,69.8 529.0,69.6C529.3,69.5 529.7,69.5 530.0,69.5C530.3,69.4 530.7,69.3 531.0,69.4C531.3,69.4 531.7,69.5 532.0,69.7C532.3,69.9 532.7,70.1 533.0,70.7C533.3,71.3 533.7,71.8 534.0,73.5C534.3,75.1 534.7,78.1 535.0,80.7C535.3,83.3 535.7,86.4 536.0,89.2C536.3,91.9 536.7,94.6 537.0,97.2C537.3,99.7 537.7,101.1 538.0,104.5C538.3,108.0 538.7,113.0 539.0,117.9C539.3,122.7 539.7,129.6 540.0,133.8C540.3,138.1 540.7,140.4 541.0,143.5C541.3,146.6 541.7,149.3 542.0,152.4C542.3,155.4 542.7,158.6 543.0,161.7C543.3,164.8 543.7,167.9 544.0,171.0C544.3,174.1 544.7,177.1 545.0,180.2C545.3,183.2 545.7,186.3 546.0,189.3C546.3,192.4 546.7,195.6 547.0,198.5C547.3,201.4 547.7,204.3 548.0,206.9C548.3,209.5 548.7,211.8 549.0,214.2C549.3,216.6 549.7,218.8 550.0,221.4C550.3,223.9 550.7,226.8 551.0,229.6C551.3,232.4 551.7,235.3 552.0,238.2C552.3,241.1 552.7,244.0 553.0,246.8C553.3,249.7 553.7,252.7 554.0,255.5C554.3,258.3 554.7,261.3 555.0,263.8C555.3,266.3 555.7,268.3 556.0,270.6C556.3,272.8 556.7,274.7 557.0,277.4C557.3,280.1 557.7,283.7 558.0,286.8C558.3,290.0 558.7,293.2 559.0,296.4C559.3,299.7 559.7,302.9 560.0,306.2C560.3,309.5 560.7,313.1 561.0,316.2C561.3,319.2 561.7,322.0 562.0,324.5C562.3,326.9 562.7,328.9 563.0,330.6C563.3,332.3 563.7,333.5 564.0,334.8C564.3,336.1 564.7,337.2 565.0,338.4C565.3,339.7 565.7,340.9 566.0,342.1C566.3,343.4 566.7,344.6 567.0,345.9C567.3,347.1 567.7,348.3 568.0,349.6C568.3,350.8 568.7,352.1 569.0,353.3C569.3,354.5 569.7,355.8 570.0,357.0C570.3,358.2 570.7,359.4 571.0,360.7C571.3,362.0 571.7,363.3 572.0,364.7C572.3,366.0 572.7,367.4 573.0,368.8C573.3,370.2 573.7,371.6 574.0,372.9C574.3,374.3 574.7,376.1 575.0,377.1C575.3,378.0 575.7,378.2 576.0,378.8C576.3,379.4 576.7,380.0 577.0,380.5C577.3,381.1 577.7,381.7 578.0,382.3C578.3,382.9 578.7,383.5 579.0,384.0C579.3,384.6 579.7,385.2 580.0,385.8C580.3,386.4 580.7,387.1 581.0,387.6C581.3,388.1 581.7,388.4 582.0,388.8C582.3,389.2 582.7,389.6 583.0,390.0C583.3,390.4 583.7,390.8 584.0,391.2C584.3,391.6 584.7,391.9 585.0,392.4C585.3,392.8 585.7,393.4 586.0,394.0C586.3,394.7 586.7,395.5 587.0,396.2C587.3,396.9 587.7,397.9 588.0,398.3C588.3,398.8 588.7,398.8 589.0,399.0C589.3,399.3 589.7,399.5 590.0,399.7C590.3,400.0 590.7,400.2 591.0,400.4C591.3,400.6 591.7,400.9 592.0,401.1C592.3,401.3 592.7,401.6 593.0,401.8C593.3,402.0 593.7,402.2 594.0,402.5C594.3,402.8 594.7,403.1 595.0,403.5C595.3,403.8 595.7,404.1 596.0,404.4C596.3,404.8 596.7,405.1 597.0,405.4C597.3,405.8 597.7,406.1 598.0,406.4C598.3,406.7 598.7,407.1 599.0,407.4C599.3,407.7 599.7,408.0 600.0,408.4C600.3,408.7 600.7,409.0 601.0,409.4C601.3,409.7 601.7,410.0 602.0,410.3C602.3,410.7 602.7,411.0 603.0,411.3C603.3,411.6 603.7,412.0 604.0,412.3C604.3,412.6 604.7,412.9 605.0,413.3C605.3,413.6 605.7,413.9 606.0,414.3C606.3,414.6 606.7,414.9 607.0,415.2C607.3,415.5 607.7,415.8 608.0,416.1C608.3,416.5 608.7,416.8 609.0,417.1C609.3,417.4 609.7,417.7 610.0,418.0C610.3,418.3 610.7,418.6 611.0,418.9C611.3,419.2 611.7,419.4 612.0,419.7C612.3,420.0 612.7,420.3 613.0,420.6C613.3,420.9 613.7,421.4 614.0,421.7C614.3,422.1 614.7,422.5 615.0,422.8C615.3,423.2 615.7,423.6 616.0,424.0C616.3,424.3 616.7,424.7 617.0,425.1C617.3,425.4 617.7,425.8 618.0,426.2C618.3,426.5 618.7,426.9 619.0,427.1C619.3,427.3 619.7,427.3 620.0,427.4C620.3,427.5 620.7,427.5 621.0,427.6C621.3,427.7 621.7,427.8 622.0,427.9C622.3,427.9 622.7,428.0 623.0,428.1C623.3,428.2 623.7,428.3 624.0,428.3C624.3,428.4 624.7,428.5 625.0,428.6C625.3,428.7 625.7,428.7 626.0,428.8C626.3,428.9 626.7,429.0 627.0,429.0C627.3,429.1 627.7,429.2 628.0,429.2C628.3,429.3 628.7,429.3 629.0,429.5C629.3,429.6 629.7,429.8 630.0,430.0C630.3,430.2 630.7,430.5 631.0,430.7C631.3,430.9 631.7,431.2 632.0,431.4C632.3,431.7 632.7,431.9 633.0,432.1C633.3,432.4 633.7,432.6 634.0,432.9C634.3,433.1 634.7,433.3 635.0,433.6C635.3,433.8 635.7,434.1 636.0,434.3C636.3,434.5 636.7,434.8 637.0,434.9C637.3,435.1 637.7,435.1 638.0,435.2C638.3,435.4 638.7,435.5 639.0,435.6C639.3,435.7 639.7,435.8 640.0,435.9C640.3,436.0 640.7,436.1 641.0,436.2C641.3,436.3 641.7,436.4 642.0,436.5C642.3,436.7 642.7,436.8 643.0,436.9C643.3,437.0 643.7,437.1 644.0,437.2C644.3,437.3 644.7,437.4 645.0,437.5C645.3,437.6 645.7,437.7 646.0,437.9C646.3,438.0 646.7,438.1 647.0,438.2C647.3,438.3 647.7,438.4 648.0,438.5C648.3,438.6 648.7,438.6 649.0,438.7C649.3,438.7 649.7,438.8 650.0,438.8C650.3,438.9 650.7,438.9 651.0,439.0C651.3,439.0 651.7,439.1 652.0,439.1C652.3,439.2 652.7,439.3 653.0,439.3C653.3,439.4 653.7,439.4 654.0,439.5C654.3,439.5 654.7,439.6 655.0,439.6C655.3,439.7 655.7,439.7 656.0,439.8C656.3,439.8 656.7,439.9 657.0,439.9C657.3,440.0 657.7,440.1 658.0,440.2C658.3,440.3 658.7,440.4 659.0,440.5C659.3,440.7 659.7,440.8 660.0,440.9C660.3,441.0 660.7,441.1 661.0,441.2C661.3,441.3 661.7,441.5 662.0,441.6C662.3,441.7 662.7,441.8 663.0,441.9C663.3,442.0 663.7,442.2 664.0,442.3C664.3,442.4 664.7,442.5 665.0,442.6C665.3,442.7 665.7,442.8 666.0,443.0C666.3,443.1 666.7,443.2 667.0,443.3C667.3,443.4 667.7,443.5 668.0,443.6C668.3,443.7 668.7,443.8 669.0,443.9C669.3,444.0 669.7,444.1 670.0,444.2C670.3,444.3 670.7,444.4 671.0,444.4C671.3,444.5 671.7,444.6 672.0,444.7C672.3,444.8 672.7,444.9 673.0,445.0C673.3,445.1 673.7,445.2 674.0,445.3C674.3,445.4 674.7,445.5 675.0,445.6C675.3,445.7 675.7,445.8 676.0,445.9C676.3,446.0 676.7,446.2 677.0,446.3C677.3,446.5 677.7,446.6 678.0,446.8C678.3,446.9 678.7,447.1 679.0,447.2C679.3,447.4 679.7,447.5 680.0,447.7C680.3,447.8 680.7,447.9 681.0,448.1C681.3,448.2 681.7,448.4 682.0,448.5C682.3,448.7 682.7,448.8 683.0,449.0C683.3,449.1 683.7,449.3 684.0,449.4C684.3,449.6 684.7,449.7 685.0,449.9C685.3,450.0 685.7,450.2 686.0,450.3C686.3,450.4 686.7,450.6 687.0,450.7C687.3,450.8 687.7,451.0 688.0,451.1C688.3,451.3 688.7,451.4 689.0,451.5C689.3,451.7 689.7,451.8 690.0,451.9C690.3,452.1 690.7,452.2 691.0,452.4C691.3,452.5 691.7,452.6 692.0,452.8C692.3,452.9 692.7,453.0 693.0,453.2C693.3,453.3 693.7,453.4 694.0,453.6C694.3,453.7 694.7,453.9 695.0,454.0C695.3,454.1 695.7,454.3 696.0,454.4C696.3,454.5 696.7,454.7 697.0,454.8C697.3,454.9 697.7,455.1 698.0,455.2C698.3,455.4 698.7,455.5 699.0,455.6C699.3,455.8 699.7,455.9 700.0,456.0C700.3,456.1 700.7,456.2 701.0,456.3C701.3,456.4 701.7,456.6 702.0,456.7C702.3,456.8 702.7,456.9 703.0,457.0C703.3,457.1 703.7,457.2 704.0,457.3C704.3,457.5 704.7,457.6 705.0,457.7C705.3,457.8 705.7,457.9 706.0,458.0C706.3,458.1 706.7,458.2 707.0,458.4C707.3,458.5 705.8,456.9 708.0,458.7C710.2,460.5 714.7,464.3 720.0,469.0C725.3,473.7 733.8,480.0 740.0,487.0C746.2,494.0 752.0,505.4 757.0,511.0C762.0,516.6 764.5,515.4 770.0,520.5C775.5,525.6 783.3,534.8 790.0,541.5C796.7,548.2 803.3,554.9 810.0,560.5C816.7,566.1 823.3,570.3 830.0,575.0C836.7,579.7 843.0,583.5 850.0,588.5C857.0,593.5 868.3,602.2 872.0,605.0" stroke="#1d120c"/>
<path d="M140.7,660.0C142.0,656.7 146.0,644.8 148.4,640.0C150.8,635.2 153.7,633.0 155.3,631.0C157.0,629.0 157.4,629.2 158.3,628.0C159.3,626.8 160.0,625.3 161.0,624.0C162.0,622.7 163.4,621.0 164.3,620.0C165.3,619.0 166.0,618.8 166.7,618.0C167.5,617.2 168.1,616.0 168.8,615.0C169.5,614.0 170.2,613.0 170.9,612.0C171.7,611.0 172.6,610.0 173.4,609.0C174.2,608.0 175.1,607.0 175.8,606.0C176.6,605.0 177.1,604.0 177.7,603.0C178.3,602.0 178.6,601.7 179.5,600.0C180.5,598.3 182.1,595.3 183.4,593.0C184.7,590.7 186.3,588.2 187.4,586.0C188.4,583.8 188.9,582.0 189.7,580.0C190.5,578.0 191.1,577.0 192.2,574.0C193.3,571.0 194.9,566.0 196.3,562.0C197.7,558.0 199.3,554.5 200.7,550.0C202.1,545.5 203.3,540.0 204.7,535.0C206.0,530.0 207.6,524.8 208.6,520.0C209.7,515.2 210.1,510.7 210.9,506.0C211.6,501.3 212.4,497.0 213.1,492.0C213.8,487.0 214.3,481.3 214.9,476.0C215.6,470.7 216.2,465.2 216.8,460.0C217.4,454.8 217.9,450.0 218.5,445.0C219.0,440.0 219.6,434.5 220.2,430.0C220.7,425.5 221.1,422.2 221.6,418.0C222.2,413.8 222.7,409.3 223.2,405.0C223.8,400.7 224.3,396.2 224.8,392.0C225.3,387.8 225.8,384.5 226.3,380.0C226.8,375.5 227.3,370.0 227.9,365.0C228.4,360.0 228.9,354.2 229.4,350.0C230.0,345.8 230.6,343.3 231.2,340.0C231.8,336.7 232.4,334.2 233.0,330.0C233.5,325.8 233.9,320.0 234.3,315.0C234.8,310.0 235.2,304.5 235.7,300.0C236.2,295.5 236.6,292.2 237.1,288.0C237.6,283.8 238.2,279.3 238.7,275.0C239.2,270.7 239.7,266.2 240.2,262.0C240.7,257.8 241.1,254.0 241.6,250.0C242.2,246.0 243.0,242.2 243.7,238.0C244.4,233.8 245.2,229.3 246.0,225.0C246.7,220.7 247.5,216.2 248.3,212.0C249.0,207.8 249.6,203.7 250.5,200.0C251.3,196.3 252.0,195.6 253.3,190.0C254.6,184.4 257.1,171.4 258.4,166.2C259.7,161.1 260.1,161.6 261.0,159.1C261.9,156.6 262.9,153.3 263.8,151.5C264.6,149.7 265.6,149.6 266.1,148.0C266.5,146.5 265.4,143.8 266.2,142.3C267.0,140.8 269.4,139.8 271.0,139.2C272.6,138.5 273.7,138.6 275.7,138.5C277.7,138.4 281.3,138.8 282.9,138.5C284.5,138.3 284.4,137.5 285.3,137.1C286.1,136.8 286.9,136.7 287.8,136.4C288.8,136.1 290.1,135.9 291.0,135.3C291.9,134.6 292.5,133.1 293.0,132.4C293.5,131.7 293.7,131.6 294.0,131.2C294.3,130.7 294.7,130.3 295.0,129.9C295.3,129.5 295.7,129.1 296.0,128.7C296.3,128.3 296.7,127.9 297.0,127.5C297.3,127.2 297.7,126.8 298.0,126.4C298.3,126.0 298.7,125.6 299.0,125.2C299.3,124.8 299.7,124.4 300.0,124.0C300.3,123.6 300.7,123.2 301.0,122.8C301.3,122.5 301.7,122.0 302.0,121.7C302.3,121.3 302.7,121.1 303.0,120.7C303.3,120.4 303.7,120.1 304.0,119.8C304.3,119.5 304.7,119.2 305.0,118.9C305.3,118.6 305.7,118.3 306.0,118.0C306.3,117.7 306.7,117.4 307.0,117.0C307.3,116.7 307.7,116.5 308.0,116.1C308.3,115.8 308.7,115.5 309.0,115.2C309.3,114.9 309.7,114.5 310.0,114.2C310.3,113.9 310.7,113.5 311.0,113.2C311.3,112.8 311.7,112.5 312.0,112.1C312.3,111.8 312.7,111.4 313.0,111.1C313.3,110.7 313.7,110.3 314.0,110.0C314.3,109.6 314.7,109.4 315.0,109.1C315.3,108.9 315.7,108.7 316.0,108.5C316.3,108.3 316.7,108.1 317.0,107.9C317.3,107.7 317.7,107.5 318.0,107.3C318.3,107.1 318.7,106.9 319.0,106.7C319.3,106.5 319.7,106.3 320.0,106.1C320.3,105.9 320.7,105.6 321.0,105.4C321.3,105.2 321.7,105.0 322.0,104.8C322.3,104.6 322.7,104.4 323.0,104.2C323.3,104.1 323.7,103.9 324.0,103.8C324.3,103.7 324.7,103.5 325.0,103.4C325.3,103.2 325.7,103.1 326.0,103.1C326.3,103.0 326.7,103.0 327.0,103.1C327.3,103.2 327.7,103.5 328.0,103.6C328.3,103.8 328.7,103.9 329.0,104.1C329.3,104.3 329.7,104.3 330.0,104.6C330.3,104.8 330.7,105.2 331.0,105.5C331.3,105.9 331.7,106.3 332.0,106.6C332.3,106.8 332.7,107.0 333.0,107.2C333.3,107.4 333.7,107.6 334.0,107.8C334.3,108.0 334.7,108.1 335.0,108.3C335.3,108.4 335.7,108.6 336.0,108.8C336.3,108.9 336.7,109.1 337.0,109.2C337.3,109.4 337.7,109.4 338.0,109.7C338.3,110.0 338.7,110.6 339.0,111.0C339.3,111.4 339.7,111.8 340.0,112.3C340.3,112.7 340.7,113.1 341.0,113.6C341.3,114.1 341.7,114.7 342.0,115.3C342.3,115.8 342.7,116.5 343.0,117.2C343.3,117.8 343.7,118.4 344.0,119.1C344.3,119.8 344.7,120.4 345.0,121.1C345.3,121.8 345.7,122.6 346.0,123.4C346.3,124.1 346.7,124.9 347.0,125.6C347.3,126.4 347.7,127.1 348.0,127.9C348.3,128.6 348.7,129.3 349.0,130.1C349.3,130.9 349.7,131.6 350.0,132.4C350.3,133.3 350.7,134.2 351.0,135.1C351.3,136.0 351.7,136.9 352.0,137.9C352.3,138.8 352.7,139.6 353.0,140.6C353.3,141.6 353.7,142.6 354.0,143.6C354.3,144.7 354.7,145.7 355.0,146.8C355.3,147.9 355.7,149.1 356.0,150.2C356.3,151.3 356.7,152.1 357.0,153.4C357.3,154.6 357.7,156.3 358.0,157.7C358.3,159.1 358.7,160.6 359.0,162.0C359.3,163.5 359.7,164.9 360.0,166.4C360.3,167.8 360.7,169.4 361.0,170.7C361.3,172.1 361.7,173.3 362.0,174.5C362.3,175.7 362.7,176.8 363.0,178.0C363.3,179.2 363.7,180.3 364.0,181.5C364.3,182.7 364.7,183.9 365.0,185.1C365.3,186.4 365.7,187.6 366.0,188.8C366.3,190.1 366.7,191.3 367.0,192.5C367.3,193.8 367.7,195.0 368.0,196.3C368.3,197.5 368.7,198.7 369.0,200.0C369.3,201.4 369.7,202.8 370.0,204.2C370.3,205.6 370.7,207.0 371.0,208.3C371.3,209.7 371.7,210.9 372.0,212.3C372.3,213.7 372.7,215.2 373.0,216.6C373.3,218.0 373.7,219.5 374.0,220.9C374.3,222.4 374.7,223.8 375.0,225.2C375.3,226.7 375.7,228.1 376.0,229.5C376.3,230.9 376.7,232.3 377.0,233.8C377.3,235.2 377.7,236.6 378.0,238.0C378.3,239.4 378.7,240.9 379.0,242.3C379.3,243.7 379.7,245.0 380.0,246.4C380.3,247.7 380.7,249.0 381.0,250.3C381.3,251.6 381.7,252.9 382.0,254.2C382.3,255.5 382.7,256.8 383.0,258.1C383.3,259.4 383.7,260.7 384.0,262.0C384.3,263.3 384.7,264.6 385.0,265.9C385.3,267.2 385.7,268.5 386.0,269.8C386.3,271.1 386.7,272.5 387.0,273.7C387.3,274.9 387.7,276.0 388.0,277.0C388.3,278.1 388.7,279.1 389.0,280.2C389.3,281.2 389.7,282.3 390.0,283.3C390.3,284.4 390.7,285.4 391.0,286.4C391.3,287.4 391.7,288.4 392.0,289.4C392.3,290.4 392.7,291.4 393.0,292.4C393.3,293.4 393.7,294.4 394.0,295.4C394.3,296.4 394.7,297.4 395.0,298.5C395.3,299.5 395.7,300.5 396.0,301.5C396.3,302.5 396.7,303.5 397.0,304.5C397.3,305.4 397.7,306.3 398.0,307.3C398.3,308.2 398.7,309.1 399.0,310.1C399.3,311.1 399.7,312.2 400.0,313.3C400.3,314.4 400.7,315.5 401.0,316.6C401.3,317.8 401.7,318.9 402.0,320.0C402.3,321.1 402.7,322.2 403.0,323.4C403.3,324.5 403.7,325.6 404.0,326.8C404.3,327.9 404.7,329.0 405.0,330.2C405.3,331.3 405.7,332.5 406.0,333.6C406.3,334.7 406.7,335.8 407.0,336.8C407.3,337.9 407.7,339.0 408.0,339.9C408.3,340.8 408.7,341.4 409.0,342.2C409.3,342.9 409.7,343.7 410.0,344.5C410.3,345.2 410.7,346.0 411.0,346.7C411.3,347.5 411.7,348.3 412.0,349.0C412.3,349.8 412.7,350.5 413.0,351.3C413.3,352.0 413.7,352.8 414.0,353.6C414.3,354.3 414.7,354.9 415.0,355.6C415.3,356.3 415.7,357.0 416.0,357.7C416.3,358.4 416.7,359.1 417.0,359.8C417.3,360.5 417.7,361.2 418.0,361.9C418.3,362.7 418.7,363.4 419.0,364.1C419.3,364.9 419.7,365.6 420.0,366.3C420.3,367.1 420.7,367.8 421.0,368.5C421.3,369.2 421.7,369.9 422.0,370.6C422.3,371.3 422.7,372.0 423.0,372.7C423.3,373.3 423.7,374.0 424.0,374.7C424.3,375.3 424.7,376.0 425.0,376.7C425.3,377.3 425.7,378.0 426.0,378.7C426.3,379.3 426.7,380.0 427.0,380.7C427.3,381.4 427.7,382.1 428.0,382.7C428.3,383.4 428.7,384.1 429.0,384.7C429.3,385.4 429.7,386.1 430.0,386.7C430.3,387.4 430.7,388.0 431.0,388.7C431.3,389.4 431.7,390.1 432.0,390.8C432.3,391.5 432.7,392.2 433.0,392.8C433.3,393.5 433.7,394.1 434.0,394.7C434.3,395.3 434.7,396.0 435.0,396.4C435.3,396.8 435.7,397.0 436.0,397.3C436.3,397.6 436.7,397.9 437.0,398.2C437.3,398.5 437.7,398.8 438.0,399.1C438.3,399.3 438.7,399.6 439.0,399.9C439.3,400.2 439.7,400.5 440.0,400.8C440.3,401.0 440.7,401.3 441.0,401.6C441.3,401.9 441.7,402.3 442.0,402.6C442.3,402.9 442.7,403.2 443.0,403.5C443.3,403.8 443.7,404.1 444.0,404.4C444.3,404.7 444.7,405.0 445.0,405.3C445.3,405.6 445.7,405.8 446.0,406.2C446.3,406.7 446.7,407.4 447.0,408.1C447.3,408.7 447.7,409.4 448.0,410.0C448.3,410.7 448.7,411.4 449.0,411.9C449.3,412.3 449.7,412.5 450.0,412.8C450.3,413.0 450.7,413.3 451.0,413.6C451.3,413.9 451.7,414.1 452.0,414.4C452.3,414.7 452.7,414.9 453.0,415.2C453.3,415.4 453.7,415.7 454.0,416.0C454.3,416.2 454.7,416.5 455.0,416.8C455.3,417.0 455.7,417.1 456.0,417.3C456.3,417.4 456.7,417.5 457.0,417.7C457.3,417.8 457.7,417.9 458.0,418.1C458.3,418.2 458.7,418.4 459.0,418.5C459.3,418.6 459.7,418.8 460.0,418.9C460.3,419.0 460.7,419.2 461.0,419.3C461.3,419.4 461.7,419.5 462.0,419.6C462.3,419.7 462.7,419.7 463.0,419.8C463.3,419.8 463.7,419.9 464.0,420.0C464.3,420.0 464.7,420.1 465.0,420.1C465.3,420.2 465.7,420.3 466.0,420.3C466.3,420.4 466.7,420.5 467.0,420.5C467.3,420.6 467.7,420.6 468.0,420.6C468.3,420.6 468.7,420.6 469.0,420.6C469.3,420.6 469.7,420.5 470.0,420.5C470.3,420.5 470.7,420.5 471.0,420.5C471.3,420.5 471.7,420.5 472.0,420.5C472.3,420.4 472.7,420.4 473.0,420.3C473.3,420.2 473.7,420.1 474.0,419.9C474.3,419.8 474.7,419.7 475.0,419.6C475.3,419.5 475.7,419.4 476.0,419.2C476.3,419.1 476.7,419.0 477.0,418.9C477.3,418.8 477.7,418.7 478.0,418.6C478.3,418.4 478.7,418.3 479.0,418.1C479.3,417.9 479.7,417.6 480.0,417.4C480.3,417.1 480.7,416.9 481.0,416.6C481.3,416.3 481.7,416.1 482.0,415.8C482.3,415.6 482.7,415.4 483.0,415.1C483.3,414.8 483.7,414.5 484.0,414.1C484.3,413.7 484.7,413.0 485.0,412.5C485.3,412.0 485.7,411.4 486.0,410.9C486.3,410.3 486.7,409.9 487.0,409.2C487.3,408.6 487.7,407.8 488.0,407.0C488.3,406.2 488.7,405.3 489.0,404.4C489.3,403.5 489.7,403.3 490.0,401.8C490.3,400.2 490.7,397.2 491.0,395.0C491.3,392.9 491.7,391.0 492.0,388.8C492.3,386.6 492.7,384.2 493.0,381.8C493.3,379.5 493.7,377.2 494.0,374.9C494.3,372.5 494.7,370.2 495.0,367.7C495.3,365.3 495.7,362.6 496.0,360.1C496.3,357.5 496.7,355.4 497.0,352.4C497.3,349.5 497.7,345.8 498.0,342.4C498.3,339.0 498.7,335.6 499.0,332.1C499.3,328.7 499.7,325.2 500.0,321.6C500.3,318.1 500.7,314.5 501.0,310.9C501.3,307.3 501.7,303.7 502.0,300.1C502.3,296.4 502.7,292.6 503.0,288.9C503.3,285.2 503.7,281.3 504.0,277.7C504.3,274.1 504.7,270.3 505.0,267.1C505.3,264.0 505.7,261.6 506.0,258.8C506.3,256.0 506.7,253.0 507.0,250.2C507.3,247.4 507.7,245.0 508.0,242.0C508.3,239.1 508.7,235.7 509.0,232.5C509.3,229.4 509.7,226.6 510.0,223.2C510.3,219.9 510.7,215.6 511.0,212.5C511.3,209.4 511.7,207.1 512.0,204.4C512.3,201.8 512.7,199.3 513.0,196.7C513.3,194.1 513.7,191.5 514.0,188.9C514.3,186.3 514.7,183.7 515.0,181.1C515.3,178.5 515.7,175.9 516.0,173.3C516.3,170.7 516.7,168.3 517.0,165.5C517.3,162.8 517.7,159.8 518.0,156.8C518.3,153.8 518.7,150.5 519.0,147.3C519.3,144.1 519.7,140.6 520.0,137.7C520.3,134.8 520.7,132.3 521.0,129.8C521.3,127.3 521.7,125.1 522.0,122.8C522.3,120.5 522.7,118.0 523.0,116.0C523.3,114.0 523.7,112.6 524.0,110.9C524.3,109.2 524.7,107.4 525.0,105.8C525.3,104.1 525.7,102.2 526.0,101.2C526.3,100.1 526.7,99.9 527.0,99.3C527.3,98.7 527.7,98.1 528.0,97.6C528.3,97.1 528.7,96.7 529.0,96.4C529.3,96.2 529.7,96.2 530.0,96.1C530.3,95.9 530.7,95.7 531.0,95.7C531.3,95.6 531.7,95.6 532.0,95.7C532.3,95.9 532.7,96.0 533.0,96.6C533.3,97.2 533.7,97.6 534.0,99.1C534.3,100.5 534.7,103.0 535.0,105.2C535.3,107.5 535.7,110.1 536.0,112.4C536.3,114.8 536.7,117.1 537.0,119.3C537.3,121.6 537.7,122.8 538.0,125.7C538.3,128.7 538.7,132.8 539.0,137.0C539.3,141.2 539.7,147.1 540.0,150.9C540.3,154.7 540.7,156.9 541.0,159.8C541.3,162.7 541.7,165.2 542.0,168.1C542.3,171.1 542.7,174.3 543.0,177.4C543.3,180.4 543.7,183.5 544.0,186.4C544.3,189.2 544.7,191.9 545.0,194.7C545.3,197.5 545.7,200.2 546.0,203.0C546.3,205.8 546.7,208.7 547.0,211.3C547.3,214.0 547.7,216.6 548.0,219.0C548.3,221.5 548.7,223.9 549.0,225.9C549.3,228.0 549.7,229.3 550.0,231.2C550.3,233.1 550.7,235.2 551.0,237.4C551.3,239.5 551.7,241.8 552.0,244.1C552.3,246.4 552.7,248.7 553.0,251.0C553.3,253.4 553.7,255.8 554.0,258.2C554.3,260.5 554.7,262.8 555.0,265.1C555.3,267.4 555.7,269.6 556.0,271.9C556.3,274.1 556.7,275.9 557.0,278.6C557.3,281.3 557.7,284.9 558.0,288.0C558.3,291.2 558.7,294.4 559.0,297.6C559.3,300.8 559.7,304.1 560.0,307.4C560.3,310.6 560.7,314.3 561.0,317.3C561.3,320.3 561.7,323.1 562.0,325.5C562.3,327.9 562.7,329.9 563.0,331.6C563.3,333.3 563.7,334.4 564.0,335.8C564.3,337.1 564.7,338.2 565.0,339.4C565.3,340.7 565.7,341.9 566.0,343.1C566.3,344.4 566.7,345.7 567.0,347.0C567.3,348.3 567.7,349.5 568.0,350.8C568.3,352.1 568.7,353.4 569.0,354.7C569.3,355.9 569.7,357.2 570.0,358.5C570.3,359.7 570.7,361.0 571.0,362.3C571.3,363.6 571.7,365.0 572.0,366.3C572.3,367.7 572.7,369.1 573.0,370.5C573.3,371.9 573.7,373.3 574.0,374.7C574.3,376.1 574.7,377.8 575.0,378.8C575.3,379.8 575.7,380.1 576.0,380.7C576.3,381.4 576.7,382.0 577.0,382.6C577.3,383.3 577.7,383.9 578.0,384.5C578.3,385.1 578.7,385.8 579.0,386.4C579.3,387.1 579.7,387.7 580.0,388.3C580.3,389.0 580.7,389.7 581.0,390.3C581.3,390.8 581.7,391.2 582.0,391.7C582.3,392.1 582.7,392.5 583.0,392.9C583.3,393.4 583.7,393.8 584.0,394.2C584.3,394.7 584.7,395.0 585.0,395.5C585.3,396.0 585.7,396.4 586.0,397.0C586.3,397.6 586.7,398.4 587.0,399.1C587.3,399.7 587.7,400.6 588.0,401.1C588.3,401.5 588.7,401.5 589.0,401.7C589.3,402.0 589.7,402.2 590.0,402.4C590.3,402.6 590.7,402.8 591.0,403.1C591.3,403.3 591.7,403.5 592.0,403.7C592.3,403.9 592.7,404.2 593.0,404.4C593.3,404.6 593.7,404.8 594.0,405.0C594.3,405.3 594.7,405.6 595.0,405.9C595.3,406.3 595.7,406.6 596.0,406.9C596.3,407.2 596.7,407.5 597.0,407.8C597.3,408.1 597.7,408.4 598.0,408.7C598.3,409.0 598.7,409.3 599.0,409.6C599.3,409.9 599.7,410.2 600.0,410.6C600.3,410.9 600.7,411.2 601.0,411.5C601.3,411.9 601.7,412.2 602.0,412.5C602.3,412.8 602.7,413.1 603.0,413.5C603.3,413.8 603.7,414.1 604.0,414.4C604.3,414.8 604.7,415.1 605.0,415.4C605.3,415.7 605.7,416.1 606.0,416.4C606.3,416.8 606.7,417.1 607.0,417.4C607.3,417.7 607.7,418.0 608.0,418.4C608.3,418.7 608.7,419.0 609.0,419.3C609.3,419.6 609.7,419.9 610.0,420.2C610.3,420.6 610.7,420.8 611.0,421.1C611.3,421.4 611.7,421.7 612.0,422.0C612.3,422.3 612.7,422.5 613.0,422.9C613.3,423.2 613.7,423.6 614.0,423.9C614.3,424.3 614.7,424.7 615.0,425.0C615.3,425.4 615.7,425.7 616.0,426.1C616.3,426.5 616.7,426.8 617.0,427.2C617.3,427.6 617.7,427.9 618.0,428.3C618.3,428.6 618.7,429.0 619.0,429.2C619.3,429.4 619.7,429.4 620.0,429.5C620.3,429.6 620.7,429.7 621.0,429.7C621.3,429.8 621.7,429.9 622.0,430.0C622.3,430.1 622.7,430.2 623.0,430.3C623.3,430.4 623.7,430.5 624.0,430.6C624.3,430.6 624.7,430.7 625.0,430.8C625.3,430.9 625.7,431.0 626.0,431.1C626.3,431.2 626.7,431.2 627.0,431.3C627.3,431.4 627.7,431.4 628.0,431.5C628.3,431.6 628.7,431.6 629.0,431.7C629.3,431.8 629.7,432.0 630.0,432.2C630.3,432.4 630.7,432.7 631.0,432.9C631.3,433.1 631.7,433.3 632.0,433.6C632.3,433.8 632.7,434.0 633.0,434.2C633.3,434.5 633.7,434.7 634.0,434.9C634.3,435.1 634.7,435.4 635.0,435.6C635.3,435.8 635.7,436.1 636.0,436.3C636.3,436.5 636.7,436.7 637.0,436.9C637.3,437.0 637.7,437.1 638.0,437.2C638.3,437.3 638.7,437.4 639.0,437.5C639.3,437.6 639.7,437.7 640.0,437.8C640.3,437.9 640.7,438.0 641.0,438.1C641.3,438.3 641.7,438.4 642.0,438.5C642.3,438.6 642.7,438.7 643.0,438.8C643.3,438.9 643.7,439.0 644.0,439.1C644.3,439.2 644.7,439.3 645.0,439.4C645.3,439.5 645.7,439.7 646.0,439.8C646.3,439.9 646.7,440.0 647.0,440.1C647.3,440.2 647.7,440.3 648.0,440.4C648.3,440.5 648.7,440.5 649.0,440.6C649.3,440.7 649.7,440.7 650.0,440.8C650.3,440.8 650.7,440.9 651.0,440.9C651.3,441.0 651.7,441.0 652.0,441.1C652.3,441.1 652.7,441.2 653.0,441.2C653.3,441.3 653.7,441.4 654.0,441.4C654.3,441.5 654.7,441.5 655.0,441.6C655.3,441.6 655.7,441.7 656.0,441.7C656.3,441.8 656.7,441.8 657.0,441.9C657.3,442.0 657.7,442.1 658.0,442.2C658.3,442.3 658.7,442.4 659.0,442.5C659.3,442.6 659.7,442.7 660.0,442.8C660.3,443.0 660.7,443.1 661.0,443.2C661.3,443.3 661.7,443.4 662.0,443.5C662.3,443.6 662.7,443.7 663.0,443.9C663.3,444.0 663.7,444.1 664.0,444.2C664.3,444.3 664.7,444.4 665.0,444.5C665.3,444.6 665.7,444.8 666.0,444.9C666.3,445.0 666.7,445.1 667.0,445.2C667.3,445.3 667.7,445.4 668.0,445.5C668.3,445.6 668.7,445.7 669.0,445.7C669.3,445.8 669.7,445.9 670.0,446.0C670.3,446.1 670.7,446.2 671.0,446.3C671.3,446.4 671.7,446.5 672.0,446.6C672.3,446.7 672.7,446.8 673.0,446.8C673.3,446.9 673.7,447.0 674.0,447.1C674.3,447.2 674.7,447.3 675.0,447.4C675.3,447.5 675.7,447.6 676.0,447.7C676.3,447.8 676.7,448.0 677.0,448.1C677.3,448.2 677.7,448.4 678.0,448.5C678.3,448.7 678.7,448.8 679.0,449.0C679.3,449.1 679.7,449.3 680.0,449.4C680.3,449.6 680.7,449.7 681.0,449.9C681.3,450.0 681.7,450.2 682.0,450.3C682.3,450.4 682.7,450.6 683.0,450.7C683.3,450.9 683.7,451.0 684.0,451.2C684.3,451.3 684.7,451.5 685.0,451.6C685.3,451.8 685.7,451.9 686.0,452.0C686.3,452.2 686.7,452.3 687.0,452.4C687.3,452.6 687.7,452.7 688.0,452.8C688.3,453.0 688.7,453.1 689.0,453.2C689.3,453.3 689.7,453.5 690.0,453.6C690.3,453.7 690.7,453.9 691.0,454.0C691.3,454.1 691.7,454.3 692.0,454.4C692.3,454.5 692.7,454.7 693.0,454.8C693.3,454.9 693.7,455.1 694.0,455.2C694.3,455.3 694.7,455.4 695.0,455.6C695.3,455.7 695.7,455.8 696.0,456.0C696.3,456.1 696.7,456.2 697.0,456.4C697.3,456.5 697.7,456.6 698.0,456.8C698.3,456.9 698.7,457.0 699.0,457.2C699.3,457.3 699.7,457.4 700.0,457.5C700.3,457.6 700.7,457.7 701.0,457.8C701.3,457.9 701.7,458.0 702.0,458.2C702.3,458.3 702.7,458.4 703.0,458.5C703.3,458.6 703.7,458.7 704.0,458.8C704.3,458.9 704.7,459.0 705.0,459.1C705.3,459.2 705.7,459.3 706.0,459.5C706.3,459.6 706.7,459.7 707.0,459.8C707.3,459.9 705.8,458.9 708.0,460.1C710.2,461.3 714.7,462.9 720.0,467.0C725.3,471.1 733.8,477.8 740.0,485.0C746.2,492.2 752.0,505.2 757.0,510.5C762.0,515.8 764.5,513.2 770.0,517.0C775.5,520.8 783.3,527.4 790.0,533.5C796.7,539.6 803.3,547.7 810.0,553.5C816.7,559.3 823.3,563.6 830.0,568.5C836.7,573.4 843.0,577.3 850.0,583.0C857.0,588.7 868.3,599.2 872.0,602.5" stroke="#3a2417"/>
<path d="M143.4,660.0C144.7,656.7 148.7,644.8 151.2,640.0C153.7,635.2 156.5,633.0 158.2,631.0C159.9,629.0 160.2,629.2 161.2,628.0C162.2,626.8 163.0,625.3 164.0,624.0C165.1,622.7 166.5,621.0 167.5,620.0C168.5,619.0 169.3,618.8 170.0,618.0C170.8,617.2 171.4,616.0 172.1,615.0C172.8,614.0 173.4,613.0 174.2,612.0C174.9,611.0 175.8,610.0 176.6,609.0C177.4,608.0 178.3,607.0 179.0,606.0C179.7,605.0 180.2,604.0 180.8,603.0C181.4,602.0 181.7,601.7 182.5,600.0C183.4,598.3 184.8,595.3 186.0,593.0C187.2,590.7 188.6,588.2 189.5,586.0C190.5,583.8 190.9,582.0 191.6,580.0C192.3,578.0 192.8,577.0 193.8,574.0C194.7,571.0 196.0,566.0 197.4,562.0C198.7,558.0 200.4,554.5 201.8,550.0C203.2,545.5 204.5,540.0 205.8,535.0C207.1,530.0 208.8,524.8 209.8,520.0C210.8,515.2 211.2,510.7 211.9,506.0C212.6,501.3 213.4,497.0 214.0,492.0C214.6,487.0 215.1,481.3 215.7,476.0C216.3,470.7 216.8,465.2 217.4,460.0C217.9,454.8 218.5,450.0 219.0,445.0C219.5,440.0 220.0,434.5 220.6,430.0C221.1,425.5 221.5,422.2 222.0,418.0C222.5,413.8 223.1,409.3 223.6,405.0C224.2,400.7 224.7,396.2 225.2,392.0C225.7,387.8 226.2,384.5 226.7,380.0C227.2,375.5 227.7,370.0 228.3,365.0C228.8,360.0 229.2,354.2 229.8,350.0C230.4,345.8 231.0,343.3 231.6,340.0C232.2,336.7 232.9,334.2 233.5,330.0C234.0,325.8 234.4,320.0 234.9,315.0C235.4,310.0 235.9,304.5 236.4,300.0C236.9,295.5 237.3,292.2 237.8,288.0C238.3,283.8 238.8,279.3 239.3,275.0C239.8,270.7 240.4,266.2 240.8,262.0C241.3,257.8 241.7,254.0 242.2,250.0C242.8,246.0 243.6,242.2 244.4,238.0C245.2,233.8 246.0,229.3 246.8,225.0C247.6,220.7 248.4,216.2 249.2,212.0C250.0,207.8 250.6,203.7 251.5,200.0C252.3,196.3 253.0,195.6 254.2,190.0C255.5,184.4 257.7,171.7 258.9,166.6C260.2,161.5 260.6,161.9 261.5,159.5C262.4,157.1 263.4,153.8 264.2,152.0C265.1,150.2 266.1,150.1 266.5,148.6C266.9,147.1 265.8,144.4 266.6,142.9C267.4,141.4 269.7,140.5 271.3,139.8C272.9,139.2 274.0,139.3 276.0,139.2C277.9,139.1 281.4,139.4 283.0,139.2C284.6,139.0 284.5,138.0 285.4,137.8C286.2,137.7 287.0,138.2 287.9,138.4C288.9,138.5 290.2,139.0 291.0,138.7C291.8,138.4 292.5,136.8 293.0,136.3C293.5,135.7 293.7,135.7 294.0,135.4C294.3,135.1 294.7,134.8 295.0,134.5C295.3,134.2 295.7,133.9 296.0,133.6C296.3,133.3 296.7,133.1 297.0,132.8C297.3,132.5 297.7,132.3 298.0,132.0C298.3,131.7 298.7,131.4 299.0,131.1C299.3,130.8 299.7,130.6 300.0,130.3C300.3,130.0 300.7,129.7 301.0,129.5C301.3,129.2 301.7,128.9 302.0,128.7C302.3,128.4 302.7,128.2 303.0,127.9C303.3,127.7 303.7,127.4 304.0,127.2C304.3,126.9 304.7,126.7 305.0,126.5C305.3,126.2 305.7,126.0 306.0,125.8C306.3,125.5 306.7,125.3 307.0,125.1C307.3,124.8 307.7,124.6 308.0,124.4C308.3,124.1 308.7,123.9 309.0,123.7C309.3,123.4 309.7,123.1 310.0,122.9C310.3,122.6 310.7,122.4 311.0,122.1C311.3,121.8 311.7,121.6 312.0,121.3C312.3,121.0 312.7,120.7 313.0,120.4C313.3,120.1 313.7,119.7 314.0,119.5C314.3,119.2 314.7,119.0 315.0,118.8C315.3,118.6 315.7,118.5 316.0,118.3C316.3,118.2 316.7,118.0 317.0,117.8C317.3,117.7 317.7,117.5 318.0,117.4C318.3,117.2 318.7,117.0 319.0,116.8C319.3,116.7 319.7,116.5 320.0,116.3C320.3,116.1 320.7,116.0 321.0,115.8C321.3,115.6 321.7,115.5 322.0,115.3C322.3,115.1 322.7,114.9 323.0,114.8C323.3,114.6 323.7,114.5 324.0,114.4C324.3,114.3 324.7,114.1 325.0,114.0C325.3,113.9 325.7,113.8 326.0,113.8C326.3,113.8 326.7,113.9 327.0,114.0C327.3,114.1 327.7,114.3 328.0,114.5C328.3,114.7 328.7,114.8 329.0,115.0C329.3,115.2 329.7,115.2 330.0,115.5C330.3,115.7 330.7,116.1 331.0,116.4C331.3,116.7 331.7,117.2 332.0,117.4C332.3,117.7 332.7,117.8 333.0,117.9C333.3,118.1 333.7,118.2 334.0,118.3C334.3,118.5 334.7,118.6 335.0,118.7C335.3,118.8 335.7,118.9 336.0,119.0C336.3,119.1 336.7,119.3 337.0,119.4C337.3,119.5 337.7,119.5 338.0,119.7C338.3,119.9 338.7,120.4 339.0,120.8C339.3,121.1 339.7,121.4 340.0,121.8C340.3,122.2 340.7,122.5 341.0,123.0C341.3,123.4 341.7,123.9 342.0,124.4C342.3,124.9 342.7,125.5 343.0,126.0C343.3,126.6 343.7,127.2 344.0,127.7C344.3,128.3 344.7,128.8 345.0,129.5C345.3,130.1 345.7,130.9 346.0,131.6C346.3,132.4 346.7,133.1 347.0,133.8C347.3,134.5 347.7,135.2 348.0,135.9C348.3,136.6 348.7,137.3 349.0,138.0C349.3,138.8 349.7,139.4 350.0,140.2C350.3,141.0 350.7,141.9 351.0,142.8C351.3,143.6 351.7,144.5 352.0,145.4C352.3,146.2 352.7,146.9 353.0,147.8C353.3,148.6 353.7,149.6 354.0,150.5C354.3,151.5 354.7,152.5 355.0,153.5C355.3,154.5 355.7,155.6 356.0,156.6C356.3,157.6 356.7,158.4 357.0,159.5C357.3,160.6 357.7,162.1 358.0,163.4C358.3,164.8 358.7,166.1 359.0,167.4C359.3,168.7 359.7,170.1 360.0,171.4C360.3,172.7 360.7,174.2 361.0,175.4C361.3,176.6 361.7,177.8 362.0,178.9C362.3,180.0 362.7,181.1 363.0,182.1C363.3,183.2 363.7,184.3 364.0,185.4C364.3,186.5 364.7,187.6 365.0,188.8C365.3,189.9 365.7,191.1 366.0,192.2C366.3,193.4 366.7,194.5 367.0,195.7C367.3,196.9 367.7,198.0 368.0,199.2C368.3,200.4 368.7,201.5 369.0,202.8C369.3,204.1 369.7,205.5 370.0,206.8C370.3,208.2 370.7,209.5 371.0,210.8C371.3,212.2 371.7,213.3 372.0,214.7C372.3,216.1 372.7,217.6 373.0,219.1C373.3,220.6 373.7,222.1 374.0,223.6C374.3,225.1 374.7,226.6 375.0,228.1C375.3,229.6 375.7,231.1 376.0,232.5C376.3,234.0 376.7,235.5 377.0,237.0C377.3,238.4 377.7,239.9 378.0,241.4C378.3,242.8 378.7,244.3 379.0,245.8C379.3,247.2 379.7,248.6 380.0,250.0C380.3,251.3 380.7,252.7 381.0,254.0C381.3,255.4 381.7,256.7 382.0,258.0C382.3,259.4 382.7,260.7 383.0,262.1C383.3,263.4 383.7,264.8 384.0,266.1C384.3,267.4 384.7,268.8 385.0,270.1C385.3,271.4 385.7,272.8 386.0,274.1C386.3,275.5 386.7,276.9 387.0,278.1C387.3,279.4 387.7,280.5 388.0,281.6C388.3,282.8 388.7,283.8 389.0,285.0C389.3,286.1 389.7,287.2 390.0,288.3C390.3,289.4 390.7,290.3 391.0,291.4C391.3,292.4 391.7,293.4 392.0,294.5C392.3,295.5 392.7,296.5 393.0,297.6C393.3,298.6 393.7,299.7 394.0,300.7C394.3,301.8 394.7,302.8 395.0,303.9C395.3,304.9 395.7,306.0 396.0,307.0C396.3,308.1 396.7,309.1 397.0,310.1C397.3,311.1 397.7,312.0 398.0,313.0C398.3,314.0 398.7,314.9 399.0,315.9C399.3,316.9 399.7,318.0 400.0,319.1C400.3,320.1 400.7,321.3 401.0,322.4C401.3,323.5 401.7,324.6 402.0,325.7C402.3,326.8 402.7,328.0 403.0,329.1C403.3,330.3 403.7,331.4 404.0,332.5C404.3,333.7 404.7,334.8 405.0,336.0C405.3,337.1 405.7,338.3 406.0,339.4C406.3,340.5 406.7,341.6 407.0,342.6C407.3,343.6 407.7,344.7 408.0,345.5C408.3,346.4 408.7,347.0 409.0,347.7C409.3,348.4 409.7,349.2 410.0,349.9C410.3,350.6 410.7,351.3 411.0,352.1C411.3,352.8 411.7,353.5 412.0,354.2C412.3,354.9 412.7,355.6 413.0,356.3C413.3,357.0 413.7,357.8 414.0,358.5C414.3,359.1 414.7,359.8 415.0,360.4C415.3,361.1 415.7,361.7 416.0,362.4C416.3,363.0 416.7,363.7 417.0,364.3C417.3,365.0 417.7,365.7 418.0,366.4C418.3,367.2 418.7,367.9 419.0,368.6C419.3,369.3 419.7,370.0 420.0,370.8C420.3,371.5 420.7,372.2 421.0,372.9C421.3,373.6 421.7,374.3 422.0,374.9C422.3,375.6 422.7,376.3 423.0,376.9C423.3,377.6 423.7,378.2 424.0,378.8C424.3,379.5 424.7,380.1 425.0,380.7C425.3,381.4 425.7,382.0 426.0,382.7C426.3,383.3 426.7,383.9 427.0,384.6C427.3,385.2 427.7,385.9 428.0,386.6C428.3,387.3 428.7,387.9 429.0,388.6C429.3,389.2 429.7,389.9 430.0,390.5C430.3,391.2 430.7,391.8 431.0,392.5C431.3,393.2 431.7,393.9 432.0,394.6C432.3,395.3 432.7,396.0 433.0,396.7C433.3,397.3 433.7,397.8 434.0,398.4C434.3,399.0 434.7,399.6 435.0,400.0C435.3,400.5 435.7,400.6 436.0,400.9C436.3,401.2 436.7,401.5 437.0,401.8C437.3,402.0 437.7,402.3 438.0,402.6C438.3,402.9 438.7,403.1 439.0,403.4C439.3,403.6 439.7,403.9 440.0,404.2C440.3,404.5 440.7,404.7 441.0,405.0C441.3,405.3 441.7,405.6 442.0,405.9C442.3,406.1 442.7,406.4 443.0,406.7C443.3,407.0 443.7,407.3 444.0,407.6C444.3,407.9 444.7,408.1 445.0,408.4C445.3,408.7 445.7,408.9 446.0,409.3C446.3,409.7 446.7,410.4 447.0,411.0C447.3,411.6 447.7,412.3 448.0,412.9C448.3,413.4 448.7,414.2 449.0,414.6C449.3,415.0 449.7,415.2 450.0,415.4C450.3,415.7 450.7,416.0 451.0,416.3C451.3,416.5 451.7,416.8 452.0,417.0C452.3,417.3 452.7,417.5 453.0,417.7C453.3,418.0 453.7,418.2 454.0,418.5C454.3,418.7 454.7,419.0 455.0,419.2C455.3,419.4 455.7,419.5 456.0,419.7C456.3,419.8 456.7,419.9 457.0,420.1C457.3,420.2 457.7,420.3 458.0,420.4C458.3,420.6 458.7,420.7 459.0,420.8C459.3,420.9 459.7,421.1 460.0,421.2C460.3,421.3 460.7,421.5 461.0,421.6C461.3,421.7 461.7,421.8 462.0,421.8C462.3,421.9 462.7,421.9 463.0,422.0C463.3,422.0 463.7,422.1 464.0,422.2C464.3,422.2 464.7,422.3 465.0,422.3C465.3,422.4 465.7,422.4 466.0,422.5C466.3,422.5 466.7,422.6 467.0,422.6C467.3,422.7 467.7,422.7 468.0,422.7C468.3,422.7 468.7,422.7 469.0,422.6C469.3,422.6 469.7,422.5 470.0,422.5C470.3,422.5 470.7,422.5 471.0,422.5C471.3,422.5 471.7,422.5 472.0,422.4C472.3,422.4 472.7,422.3 473.0,422.3C473.3,422.2 473.7,422.0 474.0,421.9C474.3,421.8 474.7,421.7 475.0,421.6C475.3,421.5 475.7,421.3 476.0,421.2C476.3,421.1 476.7,421.0 477.0,420.9C477.3,420.8 477.7,420.7 478.0,420.5C478.3,420.4 478.7,420.2 479.0,420.0C479.3,419.9 479.7,419.6 480.0,419.4C480.3,419.1 480.7,418.9 481.0,418.6C481.3,418.3 481.7,418.1 482.0,417.8C482.3,417.6 482.7,417.3 483.0,417.1C483.3,416.8 483.7,416.5 484.0,416.1C484.3,415.6 484.7,414.9 485.0,414.4C485.3,413.8 485.7,413.3 486.0,412.7C486.3,412.1 486.7,411.6 487.0,411.0C487.3,410.3 487.7,409.5 488.0,408.6C488.3,407.8 488.7,406.9 489.0,406.0C489.3,405.1 489.7,404.8 490.0,403.3C490.3,401.7 490.7,398.8 491.0,396.7C491.3,394.5 491.7,392.7 492.0,390.5C492.3,388.3 492.7,385.9 493.0,383.6C493.3,381.3 493.7,378.9 494.0,376.6C494.3,374.3 494.7,372.0 495.0,369.5C495.3,367.1 495.7,364.5 496.0,361.9C496.3,359.4 496.7,357.2 497.0,354.3C497.3,351.4 497.7,347.7 498.0,344.4C498.3,341.1 498.7,337.7 499.0,334.3C499.3,330.8 499.7,327.4 500.0,323.9C500.3,320.4 500.7,316.9 501.0,313.3C501.3,309.8 501.7,306.3 502.0,302.7C502.3,299.1 502.7,295.4 503.0,291.7C503.3,288.0 503.7,284.3 504.0,280.7C504.3,277.1 504.7,273.3 505.0,270.3C505.3,267.2 505.7,265.0 506.0,262.4C506.3,259.7 506.7,256.9 507.0,254.3C507.3,251.7 507.7,249.4 508.0,246.6C508.3,243.9 508.7,240.7 509.0,237.8C509.3,234.9 509.7,232.4 510.0,229.3C510.3,226.1 510.7,221.9 511.0,218.8C511.3,215.7 511.7,213.5 512.0,210.9C512.3,208.3 512.7,205.8 513.0,203.3C513.3,200.8 513.7,198.2 514.0,195.7C514.3,193.2 514.7,190.6 515.0,188.1C515.3,185.6 515.7,183.0 516.0,180.5C516.3,178.0 516.7,175.6 517.0,172.9C517.3,170.2 517.7,167.3 518.0,164.4C518.3,161.4 518.7,158.2 519.0,155.1C519.3,152.0 519.7,148.7 520.0,145.9C520.3,143.0 520.7,140.6 521.0,138.1C521.3,135.7 521.7,133.5 522.0,131.2C522.3,128.9 522.7,126.4 523.0,124.5C523.3,122.5 523.7,121.1 524.0,119.4C524.3,117.7 524.7,116.0 525.0,114.3C525.3,112.7 525.7,110.9 526.0,109.8C526.3,108.7 526.7,108.4 527.0,107.8C527.3,107.2 527.7,106.5 528.0,106.0C528.3,105.5 528.7,105.0 529.0,104.8C529.3,104.5 529.7,104.5 530.0,104.3C530.3,104.2 530.7,104.0 531.0,103.9C531.3,103.8 531.7,103.7 532.0,103.9C532.3,104.0 532.7,104.2 533.0,104.7C533.3,105.2 533.7,105.7 534.0,107.1C534.3,108.4 534.7,110.8 535.0,112.9C535.3,115.0 535.7,117.5 536.0,119.7C536.3,121.9 536.7,124.1 537.0,126.2C537.3,128.4 537.7,129.5 538.0,132.3C538.3,135.1 538.7,139.0 539.0,143.0C539.3,146.9 539.7,152.5 540.0,156.2C540.3,159.8 540.7,162.1 541.0,164.9C541.3,167.7 541.7,170.2 542.0,173.1C542.3,175.9 542.7,179.2 543.0,182.2C543.3,185.3 543.7,188.3 544.0,191.1C544.3,194.0 544.7,196.5 545.0,199.2C545.3,201.9 545.7,204.6 546.0,207.3C546.3,210.0 546.7,212.7 547.0,215.3C547.3,217.9 547.7,220.4 548.0,222.8C548.3,225.2 548.7,227.6 549.0,229.6C549.3,231.6 549.7,232.8 550.0,234.6C550.3,236.4 550.7,238.5 551.0,240.5C551.3,242.6 551.7,244.8 552.0,247.0C552.3,249.2 552.7,251.4 553.0,253.7C553.3,255.9 553.7,258.3 554.0,260.6C554.3,262.9 554.7,265.1 555.0,267.3C555.3,269.5 555.7,271.8 556.0,274.0C556.3,276.3 556.7,278.1 557.0,280.7C557.3,283.4 557.7,286.9 558.0,290.0C558.3,293.1 558.7,296.4 559.0,299.6C559.3,302.8 559.7,306.0 560.0,309.3C560.3,312.6 560.7,316.3 561.0,319.2C561.3,322.2 561.7,324.9 562.0,327.2C562.3,329.6 562.7,331.5 563.0,333.2C563.3,334.9 563.7,336.1 564.0,337.4C564.3,338.7 564.7,339.9 565.0,341.1C565.3,342.3 565.7,343.5 566.0,344.8C566.3,346.1 566.7,347.4 567.0,348.8C567.3,350.1 567.7,351.4 568.0,352.7C568.3,354.0 568.7,355.3 569.0,356.6C569.3,357.9 569.7,359.2 570.0,360.5C570.3,361.8 570.7,363.1 571.0,364.4C571.3,365.7 571.7,367.1 572.0,368.5C572.3,369.9 572.7,371.3 573.0,372.7C573.3,374.1 573.7,375.5 574.0,376.8C574.3,378.2 574.7,379.9 575.0,381.0C575.3,382.0 575.7,382.3 576.0,383.0C576.3,383.6 576.7,384.3 577.0,385.0C577.3,385.7 577.7,386.3 578.0,387.0C578.3,387.7 578.7,388.3 579.0,389.0C579.3,389.7 579.7,390.4 580.0,391.1C580.3,391.7 580.7,392.5 581.0,393.1C581.3,393.7 581.7,394.2 582.0,394.6C582.3,395.1 582.7,395.5 583.0,396.0C583.3,396.4 583.7,396.9 584.0,397.3C584.3,397.8 584.7,398.1 585.0,398.6C585.3,399.1 585.7,399.5 586.0,400.0C586.3,400.6 586.7,401.3 587.0,401.9C587.3,402.6 587.7,403.4 588.0,403.8C588.3,404.2 588.7,404.2 589.0,404.4C589.3,404.7 589.7,404.9 590.0,405.1C590.3,405.3 590.7,405.5 591.0,405.7C591.3,405.9 591.7,406.1 592.0,406.3C592.3,406.6 592.7,406.8 593.0,407.0C593.3,407.2 593.7,407.3 594.0,407.6C594.3,407.8 594.7,408.1 595.0,408.4C595.3,408.7 595.7,409.0 596.0,409.3C596.3,409.6 596.7,409.9 597.0,410.2C597.3,410.4 597.7,410.7 598.0,411.0C598.3,411.3 598.7,411.6 599.0,411.9C599.3,412.2 599.7,412.4 600.0,412.8C600.3,413.1 600.7,413.4 601.0,413.7C601.3,414.0 601.7,414.3 602.0,414.7C602.3,415.0 602.7,415.3 603.0,415.6C603.3,415.9 603.7,416.3 604.0,416.6C604.3,416.9 604.7,417.2 605.0,417.5C605.3,417.9 605.7,418.2 606.0,418.6C606.3,418.9 606.7,419.3 607.0,419.6C607.3,419.9 607.7,420.3 608.0,420.6C608.3,420.9 608.7,421.2 609.0,421.6C609.3,421.9 609.7,422.2 610.0,422.5C610.3,422.8 610.7,423.1 611.0,423.4C611.3,423.7 611.7,423.9 612.0,424.2C612.3,424.5 612.7,424.8 613.0,425.1C613.3,425.4 613.7,425.8 614.0,426.1C614.3,426.5 614.7,426.8 615.0,427.2C615.3,427.6 615.7,427.9 616.0,428.3C616.3,428.6 616.7,429.0 617.0,429.3C617.3,429.7 617.7,430.0 618.0,430.4C618.3,430.7 618.7,431.1 619.0,431.3C619.3,431.5 619.7,431.5 620.0,431.6C620.3,431.7 620.7,431.8 621.0,431.9C621.3,432.0 621.7,432.1 622.0,432.2C622.3,432.3 622.7,432.4 623.0,432.5C623.3,432.6 623.7,432.7 624.0,432.8C624.3,432.9 624.7,433.0 625.0,433.1C625.3,433.2 625.7,433.3 626.0,433.4C626.3,433.5 626.7,433.5 627.0,433.6C627.3,433.6 627.7,433.7 628.0,433.8C628.3,433.8 628.7,433.9 629.0,434.0C629.3,434.1 629.7,434.3 630.0,434.4C630.3,434.6 630.7,434.9 631.0,435.1C631.3,435.3 631.7,435.5 632.0,435.7C632.3,435.9 632.7,436.1 633.0,436.3C633.3,436.6 633.7,436.8 634.0,437.0C634.3,437.2 634.7,437.4 635.0,437.6C635.3,437.8 635.7,438.1 636.0,438.3C636.3,438.5 636.7,438.7 637.0,438.8C637.3,439.0 637.7,439.0 638.0,439.1C638.3,439.2 638.7,439.3 639.0,439.4C639.3,439.5 639.7,439.6 640.0,439.7C640.3,439.8 640.7,440.0 641.0,440.1C641.3,440.2 641.7,440.3 642.0,440.4C642.3,440.5 642.7,440.6 643.0,440.7C643.3,440.8 643.7,440.9 644.0,441.0C644.3,441.1 644.7,441.2 645.0,441.4C645.3,441.5 645.7,441.6 646.0,441.7C646.3,441.8 646.7,441.9 647.0,442.0C647.3,442.1 647.7,442.2 648.0,442.3C648.3,442.4 648.7,442.5 649.0,442.5C649.3,442.6 649.7,442.6 650.0,442.7C650.3,442.7 650.7,442.8 651.0,442.9C651.3,442.9 651.7,443.0 652.0,443.0C652.3,443.1 652.7,443.1 653.0,443.2C653.3,443.2 653.7,443.3 654.0,443.4C654.3,443.4 654.7,443.5 655.0,443.5C655.3,443.6 655.7,443.6 656.0,443.7C656.3,443.8 656.7,443.8 657.0,443.9C657.3,443.9 657.7,444.0 658.0,444.1C658.3,444.2 658.7,444.4 659.0,444.5C659.3,444.6 659.7,444.7 660.0,444.8C660.3,444.9 660.7,445.0 661.0,445.1C661.3,445.2 661.7,445.3 662.0,445.5C662.3,445.6 662.7,445.7 663.0,445.8C663.3,445.9 663.7,446.0 664.0,446.1C664.3,446.2 664.7,446.3 665.0,446.4C665.3,446.6 665.7,446.7 666.0,446.8C666.3,446.9 666.7,447.0 667.0,447.1C667.3,447.2 667.7,447.3 668.0,447.4C668.3,447.4 668.7,447.5 669.0,447.6C669.3,447.7 669.7,447.8 670.0,447.9C670.3,448.0 670.7,448.1 671.0,448.1C671.3,448.2 671.7,448.3 672.0,448.4C672.3,448.5 672.7,448.6 673.0,448.7C673.3,448.8 673.7,448.8 674.0,448.9C674.3,449.0 674.7,449.1 675.0,449.2C675.3,449.3 675.7,449.3 676.0,449.5C676.3,449.6 676.7,449.7 677.0,449.9C677.3,450.0 677.7,450.2 678.0,450.3C678.3,450.5 678.7,450.6 679.0,450.7C679.3,450.9 679.7,451.0 680.0,451.2C680.3,451.3 680.7,451.5 681.0,451.6C681.3,451.8 681.7,451.9 682.0,452.1C682.3,452.2 682.7,452.3 683.0,452.5C683.3,452.6 683.7,452.8 684.0,452.9C684.3,453.1 684.7,453.2 685.0,453.4C685.3,453.5 685.7,453.6 686.0,453.8C686.3,453.9 686.7,454.0 687.0,454.1C687.3,454.3 687.7,454.4 688.0,454.5C688.3,454.6 688.7,454.8 689.0,454.9C689.3,455.0 689.7,455.2 690.0,455.3C690.3,455.4 690.7,455.5 691.0,455.7C691.3,455.8 691.7,455.9 692.0,456.0C692.3,456.2 692.7,456.3 693.0,456.4C693.3,456.5 693.7,456.7 694.0,456.8C694.3,456.9 694.7,457.0 695.0,457.2C695.3,457.3 695.7,457.4 696.0,457.5C696.3,457.7 696.7,457.8 697.0,457.9C697.3,458.0 697.7,458.2 698.0,458.3C698.3,458.4 698.7,458.6 699.0,458.7C699.3,458.8 699.7,458.9 700.0,459.0C700.3,459.1 700.7,459.2 701.0,459.3C701.3,459.4 701.7,459.5 702.0,459.6C702.3,459.7 702.7,459.8 703.0,459.9C703.3,460.0 703.7,460.1 704.0,460.3C704.3,460.4 704.7,460.5 705.0,460.6C705.3,460.7 705.7,460.8 706.0,460.9C706.3,461.0 706.7,461.1 707.0,461.2C707.3,461.3 705.8,461.0 708.0,461.5C710.2,462.0 714.7,460.9 720.0,464.3C725.3,467.8 733.8,474.6 740.0,482.2C746.2,489.8 752.0,504.5 757.0,510.0C762.0,515.5 764.5,512.1 770.0,515.0C775.5,517.9 783.3,522.1 790.0,527.5C796.7,532.9 803.3,541.8 810.0,547.5C816.7,553.2 823.3,557.0 830.0,562.0C836.7,567.0 843.0,571.2 850.0,577.5C857.0,583.8 868.3,596.2 872.0,600.0" stroke="#573623"/>
<path d="M146.8,660.0C148.2,656.7 152.2,644.8 154.7,640.0C157.3,635.2 160.2,633.0 161.9,631.0C163.5,629.0 163.8,629.2 164.9,628.0C165.9,626.8 166.8,625.3 167.9,624.0C169.0,622.7 170.6,621.0 171.6,620.0C172.7,619.0 173.4,618.8 174.2,618.0C175.0,617.2 175.5,616.0 176.2,615.0C176.9,614.0 177.5,613.0 178.2,612.0C179.0,611.0 179.8,610.0 180.6,609.0C181.4,608.0 182.2,607.0 182.9,606.0C183.6,605.0 184.1,604.0 184.7,603.0C185.2,602.0 185.6,601.7 186.4,600.0C187.2,598.3 188.5,595.3 189.5,593.0C190.6,590.7 191.9,588.2 192.8,586.0C193.6,583.8 193.9,582.0 194.5,580.0C195.2,578.0 195.6,577.0 196.4,574.0C197.3,571.0 198.5,566.0 199.7,562.0C201.0,558.0 202.6,554.5 203.9,550.0C205.2,545.5 206.2,540.0 207.4,535.0C208.7,530.0 210.1,524.8 211.1,520.0C212.0,515.2 212.5,510.7 213.2,506.0C213.9,501.3 214.6,497.0 215.3,492.0C215.9,487.0 216.4,481.3 217.0,476.0C217.6,470.7 218.2,465.2 218.7,460.0C219.3,454.8 219.8,450.0 220.3,445.0C220.9,440.0 221.4,434.5 221.9,430.0C222.4,425.5 222.8,422.2 223.2,418.0C223.7,413.8 224.2,409.3 224.7,405.0C225.1,400.7 225.6,396.2 226.1,392.0C226.6,387.8 227.0,384.5 227.4,380.0C227.9,375.5 228.3,370.0 228.8,365.0C229.2,360.0 229.6,354.2 230.1,350.0C230.7,345.8 231.4,343.3 232.0,340.0C232.6,336.7 233.3,334.2 233.9,330.0C234.5,325.8 235.0,320.0 235.5,315.0C236.0,310.0 236.6,304.5 237.1,300.0C237.6,295.5 238.1,292.2 238.7,288.0C239.2,283.8 239.8,279.3 240.4,275.0C240.9,270.7 241.5,266.2 242.1,262.0C242.6,257.8 243.0,254.0 243.6,250.0C244.3,246.0 245.0,242.2 245.7,238.0C246.5,233.8 247.3,229.3 248.0,225.0C248.8,220.7 249.6,216.2 250.4,212.0C251.1,207.8 251.7,203.7 252.5,200.0C253.3,196.3 254.0,195.5 255.1,190.0C256.3,184.5 258.3,172.0 259.5,167.0C260.6,161.9 261.1,162.3 262.0,159.9C262.9,157.5 263.9,154.3 264.7,152.5C265.5,150.7 266.6,150.7 266.9,149.2C267.3,147.7 266.2,145.0 267.0,143.5C267.8,142.1 270.1,141.1 271.6,140.5C273.2,139.9 274.3,140.0 276.2,139.9C278.1,139.8 281.6,140.1 283.1,139.9C284.6,139.6 284.6,138.5 285.4,138.5C286.3,138.5 287.1,139.4 288.1,139.9C289.0,140.3 290.2,141.4 291.0,141.3C291.8,141.2 292.5,139.7 293.0,139.2C293.5,138.8 293.7,138.8 294.0,138.6C294.3,138.3 294.7,138.1 295.0,137.9C295.3,137.7 295.7,137.5 296.0,137.4C296.3,137.2 296.7,137.0 297.0,136.8C297.3,136.6 297.7,136.5 298.0,136.3C298.3,136.1 298.7,135.9 299.0,135.7C299.3,135.5 299.7,135.3 300.0,135.2C300.3,135.0 300.7,134.8 301.0,134.6C301.3,134.5 301.7,134.3 302.0,134.1C302.3,133.9 302.7,133.7 303.0,133.5C303.3,133.3 303.7,133.1 304.0,133.0C304.3,132.8 304.7,132.6 305.0,132.4C305.3,132.2 305.7,132.0 306.0,131.9C306.3,131.7 306.7,131.5 307.0,131.3C307.3,131.2 307.7,131.0 308.0,130.8C308.3,130.6 308.7,130.5 309.0,130.3C309.3,130.1 309.7,129.9 310.0,129.7C310.3,129.5 310.7,129.3 311.0,129.1C311.3,128.9 311.7,128.7 312.0,128.4C312.3,128.2 312.7,127.9 313.0,127.7C313.3,127.4 313.7,127.1 314.0,126.9C314.3,126.7 314.7,126.5 315.0,126.4C315.3,126.2 315.7,126.1 316.0,126.0C316.3,125.9 316.7,125.7 317.0,125.6C317.3,125.5 317.7,125.4 318.0,125.2C318.3,125.1 318.7,124.9 319.0,124.8C319.3,124.7 319.7,124.5 320.0,124.3C320.3,124.2 320.7,124.0 321.0,123.9C321.3,123.7 321.7,123.6 322.0,123.4C322.3,123.3 322.7,123.1 323.0,123.0C323.3,122.9 323.7,122.8 324.0,122.7C324.3,122.6 324.7,122.4 325.0,122.4C325.3,122.3 325.7,122.2 326.0,122.3C326.3,122.3 326.7,122.3 327.0,122.5C327.3,122.6 327.7,122.8 328.0,123.0C328.3,123.2 328.7,123.3 329.0,123.5C329.3,123.7 329.7,123.8 330.0,124.0C330.3,124.3 330.7,124.6 331.0,124.9C331.3,125.2 331.7,125.7 332.0,125.9C332.3,126.1 332.7,126.2 333.0,126.3C333.3,126.5 333.7,126.6 334.0,126.7C334.3,126.8 334.7,126.9 335.0,127.0C335.3,127.1 335.7,127.2 336.0,127.3C336.3,127.4 336.7,127.5 337.0,127.6C337.3,127.7 337.7,127.7 338.0,127.9C338.3,128.1 338.7,128.5 339.0,128.8C339.3,129.1 339.7,129.4 340.0,129.8C340.3,130.1 340.7,130.4 341.0,130.8C341.3,131.2 341.7,131.7 342.0,132.1C342.3,132.6 342.7,133.1 343.0,133.7C343.3,134.2 343.7,134.7 344.0,135.2C344.3,135.7 344.7,136.2 345.0,136.8C345.3,137.4 345.7,138.2 346.0,138.9C346.3,139.6 346.7,140.3 347.0,141.0C347.3,141.6 347.7,142.3 348.0,143.0C348.3,143.7 348.7,144.3 349.0,145.0C349.3,145.7 349.7,146.3 350.0,147.1C350.3,147.8 350.7,148.6 351.0,149.5C351.3,150.3 351.7,151.2 352.0,151.9C352.3,152.7 352.7,153.3 353.0,154.1C353.3,154.8 353.7,155.8 354.0,156.7C354.3,157.6 354.7,158.5 355.0,159.5C355.3,160.4 355.7,161.4 356.0,162.4C356.3,163.3 356.7,164.0 357.0,165.1C357.3,166.1 357.7,167.5 358.0,168.7C358.3,170.0 358.7,171.2 359.0,172.4C359.3,173.7 359.7,174.9 360.0,176.1C360.3,177.4 360.7,178.7 361.0,179.9C361.3,181.0 361.7,182.1 362.0,183.1C362.3,184.2 362.7,185.2 363.0,186.2C363.3,187.2 363.7,188.2 364.0,189.3C364.3,190.3 364.7,191.4 365.0,192.4C365.3,193.5 365.7,194.6 366.0,195.7C366.3,196.8 366.7,197.9 367.0,199.0C367.3,200.1 367.7,201.2 368.0,202.3C368.3,203.5 368.7,204.5 369.0,205.8C369.3,207.0 369.7,208.4 370.0,209.7C370.3,211.1 370.7,212.4 371.0,213.7C371.3,215.0 371.7,216.1 372.0,217.5C372.3,218.9 372.7,220.6 373.0,222.2C373.3,223.7 373.7,225.3 374.0,226.9C374.3,228.5 374.7,230.1 375.0,231.6C375.3,233.2 375.7,234.7 376.0,236.2C376.3,237.8 376.7,239.3 377.0,240.8C377.3,242.4 377.7,243.9 378.0,245.4C378.3,247.0 378.7,248.5 379.0,250.0C379.3,251.5 379.7,253.0 380.0,254.4C380.3,255.8 380.7,257.2 381.0,258.6C381.3,260.0 381.7,261.4 382.0,262.8C382.3,264.2 382.7,265.6 383.0,267.0C383.3,268.4 383.7,269.8 384.0,271.2C384.3,272.6 384.7,274.0 385.0,275.4C385.3,276.8 385.7,278.2 386.0,279.5C386.3,280.9 386.7,282.4 387.0,283.7C387.3,285.0 387.7,286.2 388.0,287.4C388.3,288.6 388.7,289.8 389.0,291.0C389.3,292.2 389.7,293.4 390.0,294.5C390.3,295.7 390.7,296.7 391.0,297.7C391.3,298.8 391.7,299.9 392.0,301.0C392.3,302.0 392.7,303.1 393.0,304.2C393.3,305.2 393.7,306.4 394.0,307.5C394.3,308.6 394.7,309.8 395.0,310.9C395.3,312.0 395.7,313.1 396.0,314.2C396.3,315.3 396.7,316.5 397.0,317.5C397.3,318.5 397.7,319.5 398.0,320.5C398.3,321.5 398.7,322.4 399.0,323.4C399.3,324.5 399.7,325.6 400.0,326.7C400.3,327.7 400.7,328.9 401.0,330.0C401.3,331.1 401.7,332.2 402.0,333.3C402.3,334.5 402.7,335.6 403.0,336.8C403.3,338.0 403.7,339.1 404.0,340.3C404.3,341.4 404.7,342.6 405.0,343.8C405.3,344.9 405.7,346.1 406.0,347.2C406.3,348.4 406.7,349.4 407.0,350.4C407.3,351.4 407.7,352.3 408.0,353.1C408.3,353.9 408.7,354.5 409.0,355.2C409.3,355.9 409.7,356.6 410.0,357.3C410.3,358.0 410.7,358.7 411.0,359.3C411.3,360.0 411.7,360.7 412.0,361.3C412.3,362.0 412.7,362.6 413.0,363.3C413.3,363.9 413.7,364.6 414.0,365.2C414.3,365.8 414.7,366.4 415.0,367.0C415.3,367.6 415.7,368.2 416.0,368.8C416.3,369.4 416.7,370.0 417.0,370.6C417.3,371.2 417.7,371.9 418.0,372.6C418.3,373.3 418.7,374.0 419.0,374.7C419.3,375.4 419.7,376.1 420.0,376.8C420.3,377.5 420.7,378.2 421.0,378.9C421.3,379.6 421.7,380.2 422.0,380.9C422.3,381.6 422.7,382.2 423.0,382.8C423.3,383.4 423.7,384.0 424.0,384.6C424.3,385.2 424.7,385.7 425.0,386.3C425.3,386.9 425.7,387.5 426.0,388.1C426.3,388.7 426.7,389.3 427.0,389.9C427.3,390.5 427.7,391.2 428.0,391.9C428.3,392.5 428.7,393.2 429.0,393.8C429.3,394.5 429.7,395.1 430.0,395.8C430.3,396.4 430.7,397.0 431.0,397.7C431.3,398.4 431.7,399.1 432.0,399.8C432.3,400.5 432.7,401.3 433.0,401.9C433.3,402.5 433.7,403.0 434.0,403.5C434.3,404.0 434.7,404.6 435.0,405.0C435.3,405.4 435.7,405.6 436.0,405.9C436.3,406.2 436.7,406.4 437.0,406.6C437.3,406.9 437.7,407.1 438.0,407.4C438.3,407.6 438.7,407.8 439.0,408.1C439.3,408.3 439.7,408.5 440.0,408.8C440.3,409.0 440.7,409.2 441.0,409.5C441.3,409.7 441.7,410.0 442.0,410.2C442.3,410.5 442.7,410.7 443.0,411.0C443.3,411.2 443.7,411.5 444.0,411.7C444.3,412.0 444.7,412.2 445.0,412.5C445.3,412.7 445.7,412.9 446.0,413.3C446.3,413.6 446.7,414.2 447.0,414.8C447.3,415.3 447.7,415.9 448.0,416.4C448.3,417.0 448.7,417.6 449.0,418.0C449.3,418.4 449.7,418.5 450.0,418.8C450.3,419.1 450.7,419.4 451.0,419.6C451.3,419.8 451.7,420.0 452.0,420.2C452.3,420.4 452.7,420.6 453.0,420.9C453.3,421.1 453.7,421.3 454.0,421.5C454.3,421.7 454.7,422.0 455.0,422.1C455.3,422.3 455.7,422.4 456.0,422.5C456.3,422.7 456.7,422.8 457.0,422.9C457.3,423.0 457.7,423.1 458.0,423.2C458.3,423.3 458.7,423.4 459.0,423.5C459.3,423.6 459.7,423.7 460.0,423.8C460.3,423.9 460.7,424.0 461.0,424.1C461.3,424.2 461.7,424.3 462.0,424.3C462.3,424.4 462.7,424.4 463.0,424.5C463.3,424.5 463.7,424.5 464.0,424.5C464.3,424.6 464.7,424.6 465.0,424.6C465.3,424.7 465.7,424.7 466.0,424.7C466.3,424.8 466.7,424.8 467.0,424.8C467.3,424.8 467.7,424.9 468.0,424.8C468.3,424.8 468.7,424.8 469.0,424.7C469.3,424.6 469.7,424.6 470.0,424.5C470.3,424.5 470.7,424.5 471.0,424.5C471.3,424.4 471.7,424.5 472.0,424.4C472.3,424.4 472.7,424.3 473.0,424.2C473.3,424.1 473.7,424.0 474.0,423.9C474.3,423.8 474.7,423.7 475.0,423.6C475.3,423.4 475.7,423.3 476.0,423.2C476.3,423.1 476.7,423.0 477.0,422.9C477.3,422.7 477.7,422.6 478.0,422.5C478.3,422.4 478.7,422.2 479.0,422.0C479.3,421.8 479.7,421.6 480.0,421.4C480.3,421.1 480.7,420.9 481.0,420.6C481.3,420.3 481.7,420.1 482.0,419.8C482.3,419.5 482.7,419.3 483.0,419.0C483.3,418.7 483.7,418.5 484.0,418.0C484.3,417.6 484.7,416.8 485.0,416.2C485.3,415.6 485.7,415.1 486.0,414.5C486.3,413.8 486.7,413.3 487.0,412.6C487.3,411.9 487.7,411.0 488.0,410.2C488.3,409.3 488.7,408.3 489.0,407.4C489.3,406.5 489.7,406.2 490.0,404.6C490.3,403.0 490.7,400.2 491.0,398.0C491.3,395.9 491.7,394.0 492.0,391.8C492.3,389.6 492.7,387.2 493.0,384.9C493.3,382.5 493.7,380.1 494.0,377.8C494.3,375.4 494.7,373.2 495.0,370.7C495.3,368.3 495.7,365.7 496.0,363.2C496.3,360.7 496.7,358.5 497.0,355.6C497.3,352.7 497.7,349.1 498.0,345.8C498.3,342.5 498.7,339.1 499.0,335.7C499.3,332.3 499.7,328.9 500.0,325.5C500.3,322.0 500.7,318.5 501.0,315.0C501.3,311.5 501.7,308.1 502.0,304.5C502.3,300.9 502.7,297.3 503.0,293.6C503.3,290.0 503.7,286.3 504.0,282.8C504.3,279.2 504.7,275.3 505.0,272.5C505.3,269.7 505.7,268.1 506.0,265.9C506.3,263.7 506.7,261.4 507.0,259.4C507.3,257.3 507.7,255.6 508.0,253.4C508.3,251.3 508.7,248.8 509.0,246.7C509.3,244.5 509.7,243.1 510.0,240.4C510.3,237.7 510.7,233.4 511.0,230.5C511.3,227.5 511.7,225.3 512.0,222.8C512.3,220.3 512.7,217.9 513.0,215.5C513.3,213.1 513.7,210.7 514.0,208.3C514.3,205.9 514.7,203.4 515.0,201.0C515.3,198.6 515.7,196.2 516.0,193.8C516.3,191.4 516.7,189.0 517.0,186.5C517.3,183.9 517.7,181.2 518.0,178.4C518.3,175.6 518.7,172.6 519.0,169.6C519.3,166.7 519.7,163.6 520.0,160.9C520.3,158.2 520.7,155.8 521.0,153.5C521.3,151.1 521.7,148.9 522.0,146.7C522.3,144.5 522.7,142.1 523.0,140.2C523.3,138.2 523.7,136.9 524.0,135.2C524.3,133.5 524.7,131.8 525.0,130.2C525.3,128.6 525.7,126.8 526.0,125.6C526.3,124.5 526.7,124.2 527.0,123.5C527.3,122.8 527.7,122.2 528.0,121.6C528.3,121.1 528.7,120.5 529.0,120.2C529.3,119.9 529.7,119.8 530.0,119.6C530.3,119.5 530.7,119.2 531.0,119.1C531.3,119.0 531.7,118.8 532.0,118.9C532.3,119.0 532.7,119.1 533.0,119.6C533.3,120.1 533.7,120.6 534.0,121.8C534.3,123.1 534.7,125.1 535.0,127.0C535.3,128.9 535.7,131.1 536.0,133.1C536.3,135.1 536.7,137.1 537.0,139.0C537.3,140.9 537.7,142.1 538.0,144.5C538.3,147.0 538.7,150.4 539.0,154.0C539.3,157.6 539.7,162.6 540.0,166.0C540.3,169.4 540.7,171.6 541.0,174.3C541.3,177.0 541.7,179.3 542.0,182.1C542.3,185.0 542.7,188.3 543.0,191.3C543.3,194.3 543.7,197.3 544.0,200.0C544.3,202.7 544.7,205.0 545.0,207.6C545.3,210.1 545.7,212.6 546.0,215.1C546.3,217.7 546.7,220.3 547.0,222.7C547.3,225.2 547.7,227.5 548.0,229.8C548.3,232.1 548.7,234.6 549.0,236.4C549.3,238.2 549.7,239.0 550.0,240.6C550.3,242.1 550.7,243.9 551.0,245.7C551.3,247.4 551.7,249.4 552.0,251.3C552.3,253.2 552.7,255.2 553.0,257.2C553.3,259.2 553.7,261.4 554.0,263.5C554.3,265.5 554.7,267.4 555.0,269.6C555.3,271.7 555.7,274.0 556.0,276.3C556.3,278.5 556.7,280.3 557.0,282.9C557.3,285.6 557.7,289.0 558.0,292.1C558.3,295.2 558.7,298.4 559.0,301.7C559.3,304.9 559.7,308.1 560.0,311.4C560.3,314.6 560.7,318.3 561.0,321.3C561.3,324.2 561.7,326.8 562.0,329.1C562.3,331.4 562.7,333.3 563.0,335.0C563.3,336.6 563.7,337.8 564.0,339.1C564.3,340.4 564.7,341.6 565.0,342.9C565.3,344.1 565.7,345.3 566.0,346.6C566.3,347.9 566.7,349.3 567.0,350.6C567.3,352.0 567.7,353.3 568.0,354.7C568.3,356.0 568.7,357.4 569.0,358.8C569.3,360.1 569.7,361.4 570.0,362.7C570.3,364.1 570.7,365.3 571.0,366.7C571.3,368.0 571.7,369.4 572.0,370.8C572.3,372.2 572.7,373.7 573.0,375.1C573.3,376.5 573.7,377.8 574.0,379.2C574.3,380.6 574.7,382.3 575.0,383.3C575.3,384.4 575.7,384.8 576.0,385.5C576.3,386.2 576.7,386.9 577.0,387.6C577.3,388.3 577.7,389.1 578.0,389.8C578.3,390.5 578.7,391.2 579.0,391.9C579.3,392.7 579.7,393.4 580.0,394.1C580.3,394.9 580.7,395.7 581.0,396.4C581.3,397.0 581.7,397.5 582.0,398.0C582.3,398.5 582.7,398.9 583.0,399.4C583.3,399.9 583.7,400.4 584.0,400.8C584.3,401.3 584.7,401.7 585.0,402.2C585.3,402.6 585.7,403.0 586.0,403.5C586.3,404.0 586.7,404.6 587.0,405.2C587.3,405.8 587.7,406.5 588.0,406.9C588.3,407.3 588.7,407.3 589.0,407.5C589.3,407.7 589.7,407.9 590.0,408.1C590.3,408.3 590.7,408.5 591.0,408.7C591.3,408.9 591.7,409.1 592.0,409.3C592.3,409.5 592.7,409.7 593.0,409.9C593.3,410.1 593.7,410.3 594.0,410.5C594.3,410.7 594.7,411.0 595.0,411.3C595.3,411.5 595.7,411.8 596.0,412.1C596.3,412.3 596.7,412.6 597.0,412.9C597.3,413.1 597.7,413.4 598.0,413.7C598.3,413.9 598.7,414.2 599.0,414.5C599.3,414.7 599.7,415.0 600.0,415.3C600.3,415.5 600.7,415.9 601.0,416.2C601.3,416.5 601.7,416.8 602.0,417.1C602.3,417.5 602.7,417.8 603.0,418.1C603.3,418.4 603.7,418.7 604.0,419.0C604.3,419.4 604.7,419.6 605.0,420.0C605.3,420.3 605.7,420.7 606.0,421.1C606.3,421.4 606.7,421.8 607.0,422.1C607.3,422.4 607.7,422.8 608.0,423.1C608.3,423.4 608.7,423.8 609.0,424.1C609.3,424.5 609.7,424.8 610.0,425.1C610.3,425.4 610.7,425.7 611.0,426.0C611.3,426.2 611.7,426.5 612.0,426.8C612.3,427.1 612.7,427.3 613.0,427.6C613.3,428.0 613.7,428.3 614.0,428.7C614.3,429.0 614.7,429.4 615.0,429.7C615.3,430.0 615.7,430.4 616.0,430.7C616.3,431.1 616.7,431.4 617.0,431.7C617.3,432.1 617.7,432.4 618.0,432.8C618.3,433.1 618.7,433.5 619.0,433.7C619.3,433.9 619.7,433.9 620.0,434.1C620.3,434.2 620.7,434.3 621.0,434.4C621.3,434.5 621.7,434.7 622.0,434.8C622.3,434.9 622.7,435.0 623.0,435.1C623.3,435.3 623.7,435.4 624.0,435.5C624.3,435.6 624.7,435.7 625.0,435.9C625.3,436.0 625.7,436.1 626.0,436.2C626.3,436.3 626.7,436.4 627.0,436.5C627.3,436.5 627.7,436.6 628.0,436.7C628.3,436.8 628.7,436.8 629.0,436.9C629.3,437.0 629.7,437.1 630.0,437.3C630.3,437.5 630.7,437.7 631.0,437.9C631.3,438.1 631.7,438.3 632.0,438.5C632.3,438.7 632.7,438.9 633.0,439.1C633.3,439.3 633.7,439.4 634.0,439.6C634.3,439.8 634.7,440.0 635.0,440.2C635.3,440.4 635.7,440.6 636.0,440.8C636.3,441.0 636.7,441.2 637.0,441.3C637.3,441.5 637.7,441.5 638.0,441.6C638.3,441.7 638.7,441.8 639.0,441.9C639.3,442.0 639.7,442.1 640.0,442.2C640.3,442.3 640.7,442.4 641.0,442.5C641.3,442.6 641.7,442.7 642.0,442.9C642.3,443.0 642.7,443.1 643.0,443.2C643.3,443.3 643.7,443.4 644.0,443.5C644.3,443.6 644.7,443.7 645.0,443.8C645.3,443.9 645.7,444.0 646.0,444.1C646.3,444.2 646.7,444.4 647.0,444.5C647.3,444.6 647.7,444.7 648.0,444.8C648.3,444.9 648.7,444.9 649.0,445.0C649.3,445.0 649.7,445.1 650.0,445.2C650.3,445.2 650.7,445.3 651.0,445.3C651.3,445.4 651.7,445.5 652.0,445.5C652.3,445.6 652.7,445.6 653.0,445.7C653.3,445.8 653.7,445.8 654.0,445.9C654.3,445.9 654.7,446.0 655.0,446.0C655.3,446.1 655.7,446.2 656.0,446.2C656.3,446.3 656.7,446.3 657.0,446.4C657.3,446.5 657.7,446.6 658.0,446.7C658.3,446.8 658.7,446.9 659.0,447.0C659.3,447.1 659.7,447.2 660.0,447.3C660.3,447.4 660.7,447.5 661.0,447.6C661.3,447.7 661.7,447.8 662.0,448.0C662.3,448.1 662.7,448.2 663.0,448.3C663.3,448.4 663.7,448.5 664.0,448.6C664.3,448.7 664.7,448.8 665.0,448.9C665.3,449.0 665.7,449.1 666.0,449.2C666.3,449.3 666.7,449.4 667.0,449.5C667.3,449.6 667.7,449.7 668.0,449.8C668.3,449.9 668.7,449.9 669.0,450.0C669.3,450.1 669.7,450.2 670.0,450.3C670.3,450.4 670.7,450.4 671.0,450.5C671.3,450.6 671.7,450.7 672.0,450.8C672.3,450.8 672.7,450.9 673.0,451.0C673.3,451.1 673.7,451.2 674.0,451.3C674.3,451.3 674.7,451.4 675.0,451.5C675.3,451.6 675.7,451.6 676.0,451.7C676.3,451.9 676.7,452.0 677.0,452.2C677.3,452.3 677.7,452.4 678.0,452.6C678.3,452.7 678.7,452.9 679.0,453.0C679.3,453.2 679.7,453.3 680.0,453.4C680.3,453.6 680.7,453.7 681.0,453.9C681.3,454.0 681.7,454.2 682.0,454.3C682.3,454.5 682.7,454.6 683.0,454.7C683.3,454.9 683.7,455.0 684.0,455.2C684.3,455.3 684.7,455.5 685.0,455.6C685.3,455.7 685.7,455.9 686.0,456.0C686.3,456.1 686.7,456.2 687.0,456.4C687.3,456.5 687.7,456.6 688.0,456.7C688.3,456.8 688.7,456.9 689.0,457.1C689.3,457.2 689.7,457.3 690.0,457.4C690.3,457.5 690.7,457.7 691.0,457.8C691.3,457.9 691.7,458.0 692.0,458.1C692.3,458.3 692.7,458.4 693.0,458.5C693.3,458.6 693.7,458.7 694.0,458.8C694.3,459.0 694.7,459.1 695.0,459.2C695.3,459.3 695.7,459.4 696.0,459.6C696.3,459.7 696.7,459.8 697.0,459.9C697.3,460.0 697.7,460.1 698.0,460.3C698.3,460.4 698.7,460.5 699.0,460.6C699.3,460.7 699.7,460.8 700.0,460.9C700.3,461.0 700.7,461.1 701.0,461.2C701.3,461.3 701.7,461.4 702.0,461.5C702.3,461.6 702.7,461.7 703.0,461.8C703.3,461.9 703.7,462.0 704.0,462.1C704.3,462.2 704.7,462.3 705.0,462.4C705.3,462.5 705.7,462.6 706.0,462.7C706.3,462.8 706.7,462.9 707.0,463.0C707.3,463.1 705.8,462.9 708.0,463.3C710.2,463.7 714.7,462.1 720.0,465.5C725.3,468.9 733.8,476.2 740.0,483.5C746.2,490.8 752.0,504.1 757.0,509.0C762.0,513.9 764.5,510.8 770.0,513.0C775.5,515.2 783.3,518.2 790.0,522.0C796.7,525.8 803.3,529.8 810.0,535.5C816.7,541.2 823.3,550.1 830.0,556.5C836.7,562.9 843.0,567.2 850.0,574.0C857.0,580.8 868.3,593.2 872.0,597.0" stroke="#74482e"/>
<path d="M150.3,660.0C151.7,656.7 155.8,644.8 158.4,640.0C160.9,635.2 163.9,633.0 165.6,631.0C167.3,629.0 167.5,629.2 168.6,628.0C169.6,626.8 170.7,625.3 171.9,624.0C173.1,622.7 174.7,621.0 175.8,620.0C176.9,619.0 177.7,618.8 178.4,618.0C179.2,617.2 179.8,616.0 180.4,615.0C181.1,614.0 181.7,613.0 182.4,612.0C183.1,611.0 183.9,610.0 184.7,609.0C185.4,608.0 186.3,607.0 187.0,606.0C187.6,605.0 188.1,604.0 188.6,603.0C189.2,602.0 189.6,601.7 190.3,600.0C191.1,598.3 192.2,595.3 193.1,593.0C194.1,590.7 195.3,588.2 196.0,586.0C196.8,583.8 197.1,582.0 197.6,580.0C198.1,578.0 198.4,577.0 199.2,574.0C199.9,571.0 201.1,566.0 202.2,562.0C203.3,558.0 204.8,554.5 206.0,550.0C207.1,545.5 208.1,540.0 209.1,535.0C210.2,530.0 211.5,524.8 212.4,520.0C213.3,515.2 213.8,510.7 214.5,506.0C215.1,501.3 215.9,497.0 216.5,492.0C217.2,487.0 217.7,481.3 218.3,476.0C218.9,470.7 219.5,465.2 220.0,460.0C220.6,454.8 221.1,450.0 221.7,445.0C222.2,440.0 222.8,434.5 223.3,430.0C223.8,425.5 224.2,422.2 224.6,418.0C225.1,413.8 225.6,409.3 226.1,405.0C226.6,400.7 227.1,396.2 227.6,392.0C228.1,387.8 228.5,384.5 229.0,380.0C229.4,375.5 229.9,370.0 230.3,365.0C230.8,360.0 231.2,354.2 231.7,350.0C232.3,345.8 233.0,343.3 233.6,340.0C234.2,336.7 234.9,334.2 235.5,330.0C236.1,325.8 236.6,320.0 237.2,315.0C237.7,310.0 238.3,304.5 238.8,300.0C239.4,295.5 239.8,292.2 240.3,288.0C240.9,283.8 241.4,279.3 242.0,275.0C242.5,270.7 243.1,266.2 243.6,262.0C244.2,257.8 244.6,254.0 245.2,250.0C245.7,246.0 246.5,242.2 247.2,238.0C247.9,233.8 248.6,229.3 249.4,225.0C250.1,220.7 250.9,216.2 251.6,212.0C252.3,207.8 252.9,203.7 253.6,200.0C254.4,196.3 255.1,195.4 256.2,190.0C257.3,184.6 259.1,172.4 260.2,167.5C261.3,162.6 261.9,162.9 262.8,160.5C263.6,158.1 264.6,155.0 265.4,153.2C266.2,151.5 267.3,151.5 267.6,150.0C268.0,148.5 266.9,145.8 267.6,144.4C268.4,143.0 270.6,142.1 272.1,141.5C273.6,140.9 274.7,141.0 276.6,140.9C278.5,140.8 281.8,141.1 283.3,140.9C284.8,140.7 284.8,139.5 285.6,139.6C286.4,139.7 287.3,140.9 288.2,141.6C289.1,142.3 290.2,143.8 291.0,143.8C291.8,143.9 292.5,142.4 293.0,142.0C293.5,141.7 293.7,141.7 294.0,141.5C294.3,141.4 294.7,141.2 295.0,141.1C295.3,141.0 295.7,140.8 296.0,140.7C296.3,140.6 296.7,140.4 297.0,140.3C297.3,140.2 297.7,140.1 298.0,140.0C298.3,139.8 298.7,139.7 299.0,139.6C299.3,139.4 299.7,139.3 300.0,139.1C300.3,139.0 300.7,138.9 301.0,138.8C301.3,138.6 301.7,138.6 302.0,138.4C302.3,138.3 302.7,138.1 303.0,138.0C303.3,137.8 303.7,137.6 304.0,137.5C304.3,137.3 304.7,137.2 305.0,137.0C305.3,136.9 305.7,136.8 306.0,136.7C306.3,136.5 306.7,136.4 307.0,136.3C307.3,136.1 307.7,136.0 308.0,135.9C308.3,135.8 308.7,135.6 309.0,135.5C309.3,135.3 309.7,135.2 310.0,135.0C310.3,134.9 310.7,134.7 311.0,134.6C311.3,134.4 311.7,134.2 312.0,134.0C312.3,133.8 312.7,133.6 313.0,133.4C313.3,133.2 313.7,133.0 314.0,132.8C314.3,132.6 314.7,132.4 315.0,132.3C315.3,132.2 315.7,132.1 316.0,132.0C316.3,131.9 316.7,131.8 317.0,131.7C317.3,131.6 317.7,131.5 318.0,131.4C318.3,131.3 318.7,131.2 319.0,131.1C319.3,130.9 319.7,130.8 320.0,130.7C320.3,130.5 320.7,130.4 321.0,130.3C321.3,130.1 321.7,130.0 322.0,129.9C322.3,129.7 322.7,129.6 323.0,129.5C323.3,129.3 323.7,129.3 324.0,129.2C324.3,129.1 324.7,129.0 325.0,128.9C325.3,128.9 325.7,128.8 326.0,128.9C326.3,128.9 326.7,129.0 327.0,129.1C327.3,129.3 327.7,129.5 328.0,129.7C328.3,129.8 328.7,130.0 329.0,130.2C329.3,130.4 329.7,130.5 330.0,130.7C330.3,131.0 330.7,131.3 331.0,131.6C331.3,131.9 331.7,132.3 332.0,132.6C332.3,132.8 332.7,132.9 333.0,133.0C333.3,133.1 333.7,133.3 334.0,133.4C334.3,133.5 334.7,133.6 335.0,133.7C335.3,133.8 335.7,133.9 336.0,134.0C336.3,134.1 336.7,134.2 337.0,134.3C337.3,134.4 337.7,134.4 338.0,134.6C338.3,134.8 338.7,135.2 339.0,135.5C339.3,135.8 339.7,136.1 340.0,136.4C340.3,136.7 340.7,137.0 341.0,137.4C341.3,137.8 341.7,138.2 342.0,138.6C342.3,139.1 342.7,139.6 343.0,140.1C343.3,140.6 343.7,141.1 344.0,141.6C344.3,142.1 344.7,142.5 345.0,143.1C345.3,143.7 345.7,144.4 346.0,145.1C346.3,145.8 346.7,146.4 347.0,147.1C347.3,147.7 347.7,148.4 348.0,149.0C348.3,149.7 348.7,150.3 349.0,150.9C349.3,151.6 349.7,152.2 350.0,152.9C350.3,153.6 350.7,154.4 351.0,155.2C351.3,156.0 351.7,156.8 352.0,157.6C352.3,158.3 352.7,158.9 353.0,159.6C353.3,160.4 353.7,161.4 354.0,162.3C354.3,163.2 354.7,164.1 355.0,165.1C355.3,166.1 355.7,167.1 356.0,168.1C356.3,169.0 356.7,169.7 357.0,170.8C357.3,171.8 357.7,173.1 358.0,174.3C358.3,175.5 358.7,176.7 359.0,177.9C359.3,179.1 359.7,180.3 360.0,181.5C360.3,182.7 360.7,184.0 361.0,185.1C361.3,186.2 361.7,187.3 362.0,188.3C362.3,189.3 362.7,190.3 363.0,191.3C363.3,192.3 363.7,193.3 364.0,194.3C364.3,195.4 364.7,196.4 365.0,197.4C365.3,198.5 365.7,199.6 366.0,200.7C366.3,201.7 366.7,202.8 367.0,203.9C367.3,205.0 367.7,206.1 368.0,207.2C368.3,208.3 368.7,209.3 369.0,210.6C369.3,211.8 369.7,213.3 370.0,214.7C370.3,216.1 370.7,217.5 371.0,218.8C371.3,220.1 371.7,221.2 372.0,222.7C372.3,224.1 372.7,225.9 373.0,227.5C373.3,229.1 373.7,230.7 374.0,232.4C374.3,234.0 374.7,235.6 375.0,237.2C375.3,238.8 375.7,240.4 376.0,242.0C376.3,243.5 376.7,245.1 377.0,246.7C377.3,248.2 377.7,249.8 378.0,251.4C378.3,252.9 378.7,254.5 379.0,256.0C379.3,257.6 379.7,259.1 380.0,260.5C380.3,262.0 380.7,263.4 381.0,264.8C381.3,266.2 381.7,267.7 382.0,269.1C382.3,270.5 382.7,272.0 383.0,273.4C383.3,274.8 383.7,276.2 384.0,277.6C384.3,279.1 384.7,280.5 385.0,281.9C385.3,283.3 385.7,284.7 386.0,286.1C386.3,287.5 386.7,289.0 387.0,290.3C387.3,291.7 387.7,292.9 388.0,294.2C388.3,295.4 388.7,296.7 389.0,297.9C389.3,299.2 389.7,300.5 390.0,301.7C390.3,302.8 390.7,303.8 391.0,304.8C391.3,305.9 391.7,307.0 392.0,308.0C392.3,309.1 392.7,310.1 393.0,311.2C393.3,312.3 393.7,313.5 394.0,314.6C394.3,315.7 394.7,316.9 395.0,318.0C395.3,319.2 395.7,320.3 396.0,321.4C396.3,322.6 396.7,323.7 397.0,324.7C397.3,325.8 397.7,326.7 398.0,327.6C398.3,328.6 398.7,329.5 399.0,330.5C399.3,331.5 399.7,332.6 400.0,333.6C400.3,334.7 400.7,335.7 401.0,336.8C401.3,337.9 401.7,338.9 402.0,340.0C402.3,341.1 402.7,342.3 403.0,343.4C403.3,344.5 403.7,345.7 404.0,346.8C404.3,347.9 404.7,349.1 405.0,350.2C405.3,351.3 405.7,352.5 406.0,353.6C406.3,354.6 406.7,355.7 407.0,356.6C407.3,357.5 407.7,358.3 408.0,359.0C408.3,359.7 408.7,360.3 409.0,360.9C409.3,361.6 409.7,362.2 410.0,362.8C410.3,363.5 410.7,364.1 411.0,364.7C411.3,365.3 411.7,366.0 412.0,366.6C412.3,367.2 412.7,367.8 413.0,368.4C413.3,369.0 413.7,369.6 414.0,370.2C414.3,370.8 414.7,371.3 415.0,371.9C415.3,372.4 415.7,373.0 416.0,373.5C416.3,374.1 416.7,374.6 417.0,375.2C417.3,375.8 417.7,376.5 418.0,377.2C418.3,377.9 418.7,378.6 419.0,379.2C419.3,379.9 419.7,380.6 420.0,381.3C420.3,382.0 420.7,382.6 421.0,383.3C421.3,384.0 421.7,384.7 422.0,385.3C422.3,385.9 422.7,386.5 423.0,387.1C423.3,387.7 423.7,388.2 424.0,388.8C424.3,389.3 424.7,389.9 425.0,390.5C425.3,391.0 425.7,391.6 426.0,392.1C426.3,392.7 426.7,393.2 427.0,393.8C427.3,394.4 427.7,395.1 428.0,395.8C428.3,396.4 428.7,397.1 429.0,397.7C429.3,398.4 429.7,399.0 430.0,399.6C430.3,400.3 430.7,400.9 431.0,401.6C431.3,402.2 431.7,403.0 432.0,403.7C432.3,404.4 432.7,405.2 433.0,405.8C433.3,406.4 433.7,406.8 434.0,407.3C434.3,407.7 434.7,408.3 435.0,408.7C435.3,409.0 435.7,409.3 436.0,409.5C436.3,409.8 436.7,410.0 437.0,410.3C437.3,410.5 437.7,410.8 438.0,411.0C438.3,411.3 438.7,411.5 439.0,411.7C439.3,411.9 439.7,412.2 440.0,412.4C440.3,412.6 440.7,412.9 441.0,413.1C441.3,413.3 441.7,413.6 442.0,413.8C442.3,414.1 442.7,414.3 443.0,414.6C443.3,414.8 443.7,415.1 444.0,415.3C444.3,415.6 444.7,415.8 445.0,416.0C445.3,416.3 445.7,416.4 446.0,416.8C446.3,417.1 446.7,417.7 447.0,418.2C447.3,418.7 447.7,419.2 448.0,419.8C448.3,420.3 448.7,420.9 449.0,421.2C449.3,421.6 449.7,421.8 450.0,422.1C450.3,422.3 450.7,422.6 451.0,422.9C451.3,423.1 451.7,423.3 452.0,423.5C452.3,423.7 452.7,423.9 453.0,424.1C453.3,424.3 453.7,424.5 454.0,424.7C454.3,424.9 454.7,425.1 455.0,425.3C455.3,425.5 455.7,425.6 456.0,425.7C456.3,425.8 456.7,426.0 457.0,426.1C457.3,426.2 457.7,426.3 458.0,426.4C458.3,426.5 458.7,426.6 459.0,426.7C459.3,426.8 459.7,426.9 460.0,427.0C460.3,427.2 460.7,427.3 461.0,427.4C461.3,427.5 461.7,427.5 462.0,427.6C462.3,427.7 462.7,427.7 463.0,427.7C463.3,427.8 463.7,427.8 464.0,427.8C464.3,427.9 464.7,427.9 465.0,427.9C465.3,427.9 465.7,428.0 466.0,428.0C466.3,428.0 466.7,428.1 467.0,428.1C467.3,428.1 467.7,428.2 468.0,428.1C468.3,428.1 468.7,428.1 469.0,428.0C469.3,428.0 469.7,427.9 470.0,427.8C470.3,427.8 470.7,427.8 471.0,427.7C471.3,427.7 471.7,427.7 472.0,427.7C472.3,427.6 472.7,427.6 473.0,427.5C473.3,427.4 473.7,427.3 474.0,427.2C474.3,427.1 474.7,426.9 475.0,426.8C475.3,426.7 475.7,426.6 476.0,426.5C476.3,426.3 476.7,426.2 477.0,426.1C477.3,426.0 477.7,425.9 478.0,425.7C478.3,425.6 478.7,425.5 479.0,425.3C479.3,425.1 479.7,424.9 480.0,424.7C480.3,424.4 480.7,424.1 481.0,423.9C481.3,423.6 481.7,423.3 482.0,423.1C482.3,422.8 482.7,422.6 483.0,422.3C483.3,422.0 483.7,421.8 484.0,421.2C484.3,420.7 484.7,419.9 485.0,419.3C485.3,418.6 485.7,418.0 486.0,417.3C486.3,416.6 486.7,416.0 487.0,415.2C487.3,414.4 487.7,413.5 488.0,412.6C488.3,411.6 488.7,410.6 489.0,409.6C489.3,408.6 489.7,408.2 490.0,406.6C490.3,405.0 490.7,402.2 491.0,400.1C491.3,397.9 491.7,396.0 492.0,393.8C492.3,391.6 492.7,389.1 493.0,386.7C493.3,384.3 493.7,381.8 494.0,379.4C494.3,377.0 494.7,374.8 495.0,372.4C495.3,370.0 495.7,367.4 496.0,364.9C496.3,362.4 496.7,360.2 497.0,357.3C497.3,354.5 497.7,350.9 498.0,347.7C498.3,344.4 498.7,341.1 499.0,337.8C499.3,334.4 499.7,331.0 500.0,327.6C500.3,324.2 500.7,320.8 501.0,317.3C501.3,313.9 501.7,310.5 502.0,307.0C502.3,303.5 502.7,299.9 503.0,296.3C503.3,292.7 503.7,289.1 504.0,285.6C504.3,282.1 504.7,278.1 505.0,275.5C505.3,272.8 505.7,271.5 506.0,269.6C506.3,267.6 506.7,265.6 507.0,263.8C507.3,262.0 507.7,260.5 508.0,258.7C508.3,256.9 508.7,254.7 509.0,252.9C509.3,251.1 509.7,250.3 510.0,247.8C510.3,245.4 510.7,241.1 511.0,238.2C511.3,235.3 511.7,233.1 512.0,230.7C512.3,228.2 512.7,226.0 513.0,223.6C513.3,221.3 513.7,219.0 514.0,216.6C514.3,214.3 514.7,211.9 515.0,209.6C515.3,207.3 515.7,204.9 516.0,202.6C516.3,200.2 516.7,198.0 517.0,195.5C517.3,193.0 517.7,190.4 518.0,187.7C518.3,185.0 518.7,182.1 519.0,179.3C519.3,176.5 519.7,173.5 520.0,170.9C520.3,168.3 520.7,165.9 521.0,163.6C521.3,161.3 521.7,159.2 522.0,157.0C522.3,154.8 522.7,152.5 523.0,150.6C523.3,148.7 523.7,147.3 524.0,145.7C524.3,144.0 524.7,142.3 525.0,140.7C525.3,139.1 525.7,137.3 526.0,136.2C526.3,135.0 526.7,134.6 527.0,133.9C527.3,133.2 527.7,132.6 528.0,132.0C528.3,131.4 528.7,130.8 529.0,130.4C529.3,130.1 529.7,130.0 530.0,129.8C530.3,129.6 530.7,129.3 531.0,129.2C531.3,129.0 531.7,128.8 532.0,128.8C532.3,128.9 532.7,129.1 533.0,129.5C533.3,130.0 533.7,130.5 534.0,131.6C534.3,132.8 534.7,134.6 535.0,136.4C535.3,138.1 535.7,140.1 536.0,142.0C536.3,143.8 536.7,145.7 537.0,147.5C537.3,149.3 537.7,150.3 538.0,152.6C538.3,154.9 538.7,158.0 539.0,161.3C539.3,164.6 539.7,169.3 540.0,172.5C540.3,175.7 540.7,177.9 541.0,180.5C541.3,183.2 541.7,185.4 542.0,188.2C542.3,191.0 542.7,194.3 543.0,197.3C543.3,200.2 543.7,203.2 544.0,205.9C544.3,208.5 544.7,210.7 545.0,213.1C545.3,215.5 545.7,218.0 546.0,220.4C546.3,222.8 546.7,225.3 547.0,227.6C547.3,230.0 547.7,232.2 548.0,234.4C548.3,236.6 548.7,239.2 549.0,240.9C549.3,242.6 549.7,243.3 550.0,244.8C550.3,246.2 550.7,247.8 551.0,249.5C551.3,251.1 551.7,252.9 552.0,254.7C552.3,256.5 552.7,258.3 553.0,260.3C553.3,262.2 553.7,264.3 554.0,266.2C554.3,268.2 554.7,270.0 555.0,272.1C555.3,274.2 555.7,276.5 556.0,278.7C556.3,280.9 556.7,282.8 557.0,285.4C557.3,288.0 557.7,291.3 558.0,294.4C558.3,297.4 558.7,300.7 559.0,303.9C559.3,307.1 559.7,310.3 560.0,313.6C560.3,316.9 560.7,320.6 561.0,323.5C561.3,326.4 561.7,328.8 562.0,331.1C562.3,333.3 562.7,335.2 563.0,336.9C563.3,338.5 563.7,339.7 564.0,341.0C564.3,342.3 564.7,343.5 565.0,344.8C565.3,346.0 565.7,347.2 566.0,348.5C566.3,349.8 566.7,351.3 567.0,352.7C567.3,354.1 567.7,355.5 568.0,356.9C568.3,358.3 568.7,359.7 569.0,361.1C569.3,362.5 569.7,363.8 570.0,365.2C570.3,366.5 570.7,367.8 571.0,369.2C571.3,370.6 571.7,372.0 572.0,373.4C572.3,374.8 572.7,376.3 573.0,377.7C573.3,379.1 573.7,380.5 574.0,381.8C574.3,383.2 574.7,384.9 575.0,385.9C575.3,387.0 575.7,387.5 576.0,388.2C576.3,389.0 576.7,389.8 577.0,390.6C577.3,391.3 577.7,392.1 578.0,392.9C578.3,393.6 578.7,394.4 579.0,395.2C579.3,396.0 579.7,396.8 580.0,397.6C580.3,398.4 580.7,399.3 581.0,400.0C581.3,400.7 581.7,401.2 582.0,401.8C582.3,402.3 582.7,402.8 583.0,403.3C583.3,403.8 583.7,404.3 584.0,404.8C584.3,405.3 584.7,405.7 585.0,406.2C585.3,406.6 585.7,406.9 586.0,407.4C586.3,407.8 586.7,408.4 587.0,408.9C587.3,409.4 587.7,410.1 588.0,410.5C588.3,410.8 588.7,410.8 589.0,411.0C589.3,411.2 589.7,411.4 590.0,411.6C590.3,411.8 590.7,412.0 591.0,412.1C591.3,412.3 591.7,412.5 592.0,412.7C592.3,412.9 592.7,413.1 593.0,413.2C593.3,413.4 593.7,413.5 594.0,413.8C594.3,414.0 594.7,414.2 595.0,414.5C595.3,414.7 595.7,415.0 596.0,415.2C596.3,415.4 596.7,415.7 597.0,415.9C597.3,416.2 597.7,416.4 598.0,416.6C598.3,416.9 598.7,417.1 599.0,417.4C599.3,417.6 599.7,417.8 600.0,418.1C600.3,418.3 600.7,418.7 601.0,419.0C601.3,419.3 601.7,419.6 602.0,419.9C602.3,420.2 602.7,420.6 603.0,420.9C603.3,421.2 603.7,421.5 604.0,421.8C604.3,422.1 604.7,422.4 605.0,422.7C605.3,423.1 605.7,423.5 606.0,423.8C606.3,424.2 606.7,424.6 607.0,424.9C607.3,425.3 607.7,425.6 608.0,426.0C608.3,426.3 608.7,426.7 609.0,427.0C609.3,427.3 609.7,427.7 610.0,428.0C610.3,428.4 610.7,428.6 611.0,428.9C611.3,429.1 611.7,429.4 612.0,429.7C612.3,430.0 612.7,430.2 613.0,430.5C613.3,430.8 613.7,431.2 614.0,431.5C614.3,431.8 614.7,432.2 615.0,432.5C615.3,432.8 615.7,433.1 616.0,433.5C616.3,433.8 616.7,434.1 617.0,434.5C617.3,434.8 617.7,435.1 618.0,435.4C618.3,435.8 618.7,436.1 619.0,436.4C619.3,436.6 619.7,436.7 620.0,436.8C620.3,437.0 620.7,437.1 621.0,437.3C621.3,437.4 621.7,437.5 622.0,437.7C622.3,437.8 622.7,438.0 623.0,438.1C623.3,438.3 623.7,438.4 624.0,438.6C624.3,438.7 624.7,438.8 625.0,439.0C625.3,439.1 625.7,439.3 626.0,439.4C626.3,439.5 626.7,439.6 627.0,439.7C627.3,439.8 627.7,439.9 628.0,439.9C628.3,440.0 628.7,440.0 629.0,440.1C629.3,440.2 629.7,440.4 630.0,440.5C630.3,440.7 630.7,440.9 631.0,441.0C631.3,441.2 631.7,441.4 632.0,441.6C632.3,441.7 632.7,441.9 633.0,442.1C633.3,442.2 633.7,442.4 634.0,442.6C634.3,442.8 634.7,442.9 635.0,443.1C635.3,443.3 635.7,443.5 636.0,443.6C636.3,443.8 636.7,444.0 637.0,444.1C637.3,444.2 637.7,444.3 638.0,444.4C638.3,444.4 638.7,444.5 639.0,444.6C639.3,444.7 639.7,444.8 640.0,445.0C640.3,445.1 640.7,445.2 641.0,445.3C641.3,445.4 641.7,445.5 642.0,445.6C642.3,445.7 642.7,445.8 643.0,445.9C643.3,446.0 643.7,446.1 644.0,446.2C644.3,446.3 644.7,446.4 645.0,446.6C645.3,446.7 645.7,446.8 646.0,446.9C646.3,447.0 646.7,447.1 647.0,447.2C647.3,447.3 647.7,447.4 648.0,447.5C648.3,447.6 648.7,447.7 649.0,447.7C649.3,447.8 649.7,447.8 650.0,447.9C650.3,448.0 650.7,448.0 651.0,448.1C651.3,448.2 651.7,448.2 652.0,448.3C652.3,448.3 652.7,448.4 653.0,448.5C653.3,448.5 653.7,448.6 654.0,448.7C654.3,448.7 654.7,448.8 655.0,448.8C655.3,448.9 655.7,449.0 656.0,449.0C656.3,449.1 656.7,449.1 657.0,449.2C657.3,449.3 657.7,449.4 658.0,449.5C658.3,449.6 658.7,449.7 659.0,449.8C659.3,449.9 659.7,450.0 660.0,450.1C660.3,450.2 660.7,450.3 661.0,450.4C661.3,450.5 661.7,450.6 662.0,450.7C662.3,450.8 662.7,450.9 663.0,451.0C663.3,451.1 663.7,451.2 664.0,451.3C664.3,451.4 664.7,451.5 665.0,451.7C665.3,451.8 665.7,451.9 666.0,452.0C666.3,452.1 666.7,452.2 667.0,452.3C667.3,452.3 667.7,452.4 668.0,452.5C668.3,452.6 668.7,452.6 669.0,452.7C669.3,452.8 669.7,452.9 670.0,452.9C670.3,453.0 670.7,453.1 671.0,453.2C671.3,453.2 671.7,453.3 672.0,453.4C672.3,453.5 672.7,453.5 673.0,453.6C673.3,453.7 673.7,453.8 674.0,453.8C674.3,453.9 674.7,454.0 675.0,454.1C675.3,454.1 675.7,454.2 676.0,454.3C676.3,454.4 676.7,454.6 677.0,454.7C677.3,454.8 677.7,455.0 678.0,455.1C678.3,455.3 678.7,455.4 679.0,455.5C679.3,455.7 679.7,455.8 680.0,456.0C680.3,456.1 680.7,456.3 681.0,456.4C681.3,456.5 681.7,456.7 682.0,456.8C682.3,457.0 682.7,457.1 683.0,457.2C683.3,457.4 683.7,457.5 684.0,457.7C684.3,457.8 684.7,458.0 685.0,458.1C685.3,458.2 685.7,458.4 686.0,458.5C686.3,458.6 686.7,458.7 687.0,458.8C687.3,458.9 687.7,459.0 688.0,459.1C688.3,459.3 688.7,459.4 689.0,459.5C689.3,459.6 689.7,459.7 690.0,459.8C690.3,459.9 690.7,460.0 691.0,460.1C691.3,460.2 691.7,460.4 692.0,460.5C692.3,460.6 692.7,460.7 693.0,460.8C693.3,460.9 693.7,461.0 694.0,461.1C694.3,461.2 694.7,461.4 695.0,461.5C695.3,461.6 695.7,461.7 696.0,461.8C696.3,461.9 696.7,462.0 697.0,462.1C697.3,462.2 697.7,462.3 698.0,462.5C698.3,462.6 698.7,462.7 699.0,462.8C699.3,462.9 699.7,463.0 700.0,463.1C700.3,463.2 700.7,463.3 701.0,463.4C701.3,463.5 701.7,463.6 702.0,463.6C702.3,463.7 702.7,463.8 703.0,463.9C703.3,464.0 703.7,464.1 704.0,464.2C704.3,464.3 704.7,464.4 705.0,464.5C705.3,464.6 705.7,464.7 706.0,464.7C706.3,464.8 706.7,464.9 707.0,465.0C707.3,465.1 705.8,464.9 708.0,465.3C710.2,465.7 714.7,464.1 720.0,467.5C725.3,470.9 733.8,481.3 740.0,485.5C746.2,489.7 752.0,490.7 757.0,492.5C762.0,494.3 764.5,494.9 770.0,496.5C775.5,498.1 783.3,498.8 790.0,502.0C796.7,505.2 803.3,506.9 810.0,515.5C816.7,524.1 823.3,544.2 830.0,553.5C836.7,562.8 843.0,564.4 850.0,571.0C857.0,577.6 868.3,589.3 872.0,593.0" stroke="#915b3a"/>
<path d="M153.8,660.0C155.2,656.7 159.4,644.8 162.0,640.0C164.6,635.2 167.6,633.0 169.3,631.0C171.0,629.0 171.2,629.2 172.3,628.0C173.4,626.8 174.6,625.3 175.8,624.0C177.1,622.7 178.8,621.0 179.9,620.0C181.1,619.0 181.9,618.8 182.7,618.0C183.5,617.2 184.0,616.0 184.6,615.0C185.3,614.0 185.9,613.0 186.6,612.0C187.3,611.0 188.1,610.0 188.8,609.0C189.5,608.0 190.4,607.0 191.0,606.0C191.6,605.0 192.1,604.0 192.6,603.0C193.2,602.0 193.5,601.7 194.2,600.0C195.0,598.3 196.1,595.3 197.0,593.0C197.9,590.7 199.1,588.2 199.8,586.0C200.5,583.8 200.8,582.0 201.3,580.0C201.8,578.0 202.0,577.0 202.7,574.0C203.5,571.0 204.7,566.0 205.8,562.0C206.8,558.0 208.1,554.5 209.1,550.0C210.1,545.5 210.9,540.0 211.8,535.0C212.7,530.0 213.8,524.8 214.6,520.0C215.4,515.2 216.0,510.7 216.6,506.0C217.3,501.3 218.0,497.0 218.7,492.0C219.3,487.0 219.8,481.3 220.4,476.0C221.0,470.7 221.6,465.2 222.2,460.0C222.8,454.8 223.3,450.0 223.9,445.0C224.4,440.0 225.0,434.5 225.5,430.0C226.0,425.5 226.3,422.2 226.8,418.0C227.2,413.8 227.7,409.3 228.1,405.0C228.6,400.7 229.1,396.2 229.5,392.0C230.0,387.8 230.4,384.5 230.8,380.0C231.2,375.5 231.6,370.0 232.0,365.0C232.4,360.0 232.7,354.2 233.2,350.0C233.8,345.8 234.5,343.3 235.1,340.0C235.8,336.7 236.4,334.2 237.0,330.0C237.6,325.8 238.2,320.0 238.8,315.0C239.3,310.0 239.9,304.5 240.5,300.0C241.1,295.5 241.6,292.2 242.2,288.0C242.8,283.8 243.5,279.3 244.1,275.0C244.7,270.7 245.3,266.2 245.9,262.0C246.5,257.8 247.0,254.0 247.6,250.0C248.3,246.0 248.9,242.2 249.6,238.0C250.3,233.8 251.0,229.3 251.7,225.0C252.4,220.7 253.2,216.2 253.9,212.0C254.5,207.8 255.1,203.7 255.8,200.0C256.6,196.3 257.2,195.2 258.3,190.0C259.4,184.8 261.2,173.6 262.3,168.9C263.4,164.3 263.9,164.4 264.8,162.1C265.6,159.8 266.5,156.9 267.3,155.2C268.1,153.6 268.8,153.2 269.4,152.2C270.0,151.3 270.2,150.4 271.1,149.5C272.0,148.7 273.6,147.6 274.9,147.1C276.1,146.6 277.1,146.7 278.7,146.6C280.2,146.5 283.1,146.8 284.3,146.6C285.6,146.4 285.6,145.6 286.3,145.6C287.0,145.6 287.8,146.4 288.5,146.8C289.3,147.2 290.3,148.1 291.0,148.1C291.7,148.1 292.5,147.1 293.0,146.9C293.5,146.7 293.7,146.9 294.0,146.9C294.3,146.9 294.7,146.8 295.0,146.9C295.3,146.9 295.7,146.9 296.0,146.9C296.3,146.9 296.7,146.9 297.0,147.0C297.3,147.0 297.7,147.1 298.0,147.1C298.3,147.1 298.7,147.1 299.0,147.2C299.3,147.2 299.7,147.2 300.0,147.2C300.3,147.2 300.7,147.3 301.0,147.3C301.3,147.3 301.7,147.4 302.0,147.4C302.3,147.4 302.7,147.3 303.0,147.2C303.3,147.2 303.7,147.1 304.0,147.0C304.3,147.0 304.7,146.9 305.0,146.8C305.3,146.8 305.7,146.8 306.0,146.7C306.3,146.7 306.7,146.7 307.0,146.6C307.3,146.6 307.7,146.6 308.0,146.5C308.3,146.5 308.7,146.5 309.0,146.4C309.3,146.4 309.7,146.3 310.0,146.3C310.3,146.2 310.7,146.2 311.0,146.1C311.3,146.0 311.7,145.9 312.0,145.8C312.3,145.7 312.7,145.6 313.0,145.4C313.3,145.3 313.7,145.2 314.0,145.1C314.3,145.0 314.7,144.9 315.0,144.8C315.3,144.7 315.7,144.7 316.0,144.7C316.3,144.6 316.7,144.6 317.0,144.6C317.3,144.5 317.7,144.5 318.0,144.4C318.3,144.4 318.7,144.3 319.0,144.2C319.3,144.1 319.7,144.0 320.0,143.9C320.3,143.8 320.7,143.7 321.0,143.6C321.3,143.5 321.7,143.4 322.0,143.3C322.3,143.2 322.7,143.1 323.0,143.1C323.3,143.0 323.7,142.9 324.0,142.9C324.3,142.8 324.7,142.7 325.0,142.7C325.3,142.7 325.7,142.7 326.0,142.8C326.3,142.9 326.7,143.0 327.0,143.1C327.3,143.3 327.7,143.5 328.0,143.7C328.3,143.9 328.7,144.1 329.0,144.3C329.3,144.5 329.7,144.6 330.0,144.8C330.3,145.1 330.7,145.4 331.0,145.7C331.3,146.0 331.7,146.4 332.0,146.6C332.3,146.8 332.7,146.9 333.0,147.0C333.3,147.1 333.7,147.2 334.0,147.3C334.3,147.4 334.7,147.5 335.0,147.6C335.3,147.7 335.7,147.8 336.0,147.8C336.3,147.9 336.7,148.0 337.0,148.1C337.3,148.2 337.7,148.2 338.0,148.4C338.3,148.5 338.7,148.9 339.0,149.1C339.3,149.3 339.7,149.6 340.0,149.8C340.3,150.1 340.7,150.4 341.0,150.7C341.3,151.1 341.7,151.4 342.0,151.8C342.3,152.2 342.7,152.7 343.0,153.1C343.3,153.5 343.7,153.9 344.0,154.4C344.3,154.8 344.7,155.2 345.0,155.7C345.3,156.2 345.7,156.9 346.0,157.5C346.3,158.1 346.7,158.7 347.0,159.3C347.3,159.9 347.7,160.5 348.0,161.1C348.3,161.7 348.7,162.3 349.0,162.9C349.3,163.5 349.7,164.0 350.0,164.7C350.3,165.3 350.7,166.0 351.0,166.7C351.3,167.4 351.7,168.2 352.0,168.9C352.3,169.5 352.7,169.9 353.0,170.6C353.3,171.3 353.7,172.2 354.0,173.0C354.3,173.9 354.7,174.8 355.0,175.7C355.3,176.6 355.7,177.6 356.0,178.5C356.3,179.3 356.7,180.0 357.0,180.9C357.3,181.8 357.7,183.0 358.0,184.1C358.3,185.1 358.7,186.2 359.0,187.2C359.3,188.3 359.7,189.4 360.0,190.4C360.3,191.5 360.7,192.7 361.0,193.7C361.3,194.7 361.7,195.6 362.0,196.6C362.3,197.5 362.7,198.4 363.0,199.3C363.3,200.2 363.7,201.1 364.0,202.1C364.3,203.0 364.7,203.9 365.0,204.9C365.3,205.9 365.7,206.9 366.0,207.9C366.3,208.9 366.7,209.9 367.0,210.9C367.3,211.9 367.7,212.9 368.0,213.9C368.3,215.0 368.7,215.9 369.0,217.1C369.3,218.3 369.7,219.9 370.0,221.3C370.3,222.7 370.7,224.1 371.0,225.4C371.3,226.8 371.7,227.8 372.0,229.2C372.3,230.7 372.7,232.4 373.0,234.0C373.3,235.6 373.7,237.2 374.0,238.8C374.3,240.4 374.7,242.1 375.0,243.7C375.3,245.2 375.7,246.8 376.0,248.3C376.3,249.8 376.7,251.4 377.0,252.9C377.3,254.5 377.7,256.0 378.0,257.5C378.3,259.1 378.7,260.6 379.0,262.1C379.3,263.6 379.7,265.1 380.0,266.5C380.3,267.9 380.7,269.3 381.0,270.7C381.3,272.1 381.7,273.5 382.0,274.9C382.3,276.3 382.7,277.7 383.0,279.1C383.3,280.5 383.7,281.9 384.0,283.3C384.3,284.6 384.7,286.0 385.0,287.4C385.3,288.8 385.7,290.2 386.0,291.6C386.3,292.9 386.7,294.4 387.0,295.7C387.3,297.0 387.7,298.3 388.0,299.5C388.3,300.8 388.7,302.0 389.0,303.2C389.3,304.5 389.7,305.8 390.0,307.0C390.3,308.2 390.7,309.1 391.0,310.2C391.3,311.3 391.7,312.4 392.0,313.4C392.3,314.5 392.7,315.5 393.0,316.7C393.3,317.8 393.7,319.0 394.0,320.2C394.3,321.4 394.7,322.6 395.0,323.7C395.3,324.9 395.7,326.1 396.0,327.3C396.3,328.4 396.7,329.6 397.0,330.7C397.3,331.7 397.7,332.6 398.0,333.6C398.3,334.5 398.7,335.5 399.0,336.5C399.3,337.5 399.7,338.5 400.0,339.6C400.3,340.6 400.7,341.7 401.0,342.7C401.3,343.8 401.7,344.8 402.0,345.9C402.3,347.0 402.7,348.2 403.0,349.3C403.3,350.4 403.7,351.6 404.0,352.7C404.3,353.8 404.7,354.9 405.0,356.1C405.3,357.2 405.7,358.4 406.0,359.5C406.3,360.5 406.7,361.5 407.0,362.4C407.3,363.3 407.7,364.0 408.0,364.6C408.3,365.3 408.7,365.8 409.0,366.4C409.3,367.1 409.7,367.7 410.0,368.3C410.3,368.9 410.7,369.4 411.0,370.0C411.3,370.6 411.7,371.2 412.0,371.8C412.3,372.3 412.7,372.9 413.0,373.4C413.3,374.0 413.7,374.5 414.0,375.1C414.3,375.6 414.7,376.1 415.0,376.7C415.3,377.2 415.7,377.7 416.0,378.2C416.3,378.7 416.7,379.2 417.0,379.8C417.3,380.4 417.7,381.0 418.0,381.7C418.3,382.4 418.7,383.0 419.0,383.7C419.3,384.4 419.7,385.0 420.0,385.7C420.3,386.4 420.7,387.0 421.0,387.7C421.3,388.3 421.7,389.0 422.0,389.6C422.3,390.3 422.7,390.8 423.0,391.4C423.3,391.9 423.7,392.4 424.0,393.0C424.3,393.5 424.7,394.0 425.0,394.5C425.3,395.1 425.7,395.6 426.0,396.1C426.3,396.7 426.7,397.1 427.0,397.7C427.3,398.3 427.7,399.0 428.0,399.7C428.3,400.3 428.7,400.9 429.0,401.6C429.3,402.2 429.7,402.8 430.0,403.5C430.3,404.1 430.7,404.7 431.0,405.4C431.3,406.0 431.7,406.8 432.0,407.5C432.3,408.2 432.7,409.1 433.0,409.6C433.3,410.2 433.7,410.6 434.0,411.0C434.3,411.4 434.7,411.9 435.0,412.3C435.3,412.7 435.7,412.9 436.0,413.2C436.3,413.4 436.7,413.6 437.0,413.9C437.3,414.1 437.7,414.4 438.0,414.6C438.3,414.8 438.7,415.0 439.0,415.3C439.3,415.5 439.7,415.7 440.0,415.9C440.3,416.1 440.7,416.4 441.0,416.6C441.3,416.8 441.7,417.1 442.0,417.3C442.3,417.5 442.7,417.7 443.0,418.0C443.3,418.2 443.7,418.4 444.0,418.7C444.3,418.9 444.7,419.1 445.0,419.4C445.3,419.6 445.7,419.8 446.0,420.1C446.3,420.4 446.7,420.9 447.0,421.4C447.3,421.8 447.7,422.4 448.0,422.8C448.3,423.3 448.7,423.8 449.0,424.2C449.3,424.6 449.7,424.8 450.0,425.0C450.3,425.3 450.7,425.6 451.0,425.9C451.3,426.1 451.7,426.2 452.0,426.4C452.3,426.6 452.7,426.8 453.0,427.0C453.3,427.2 453.7,427.4 454.0,427.6C454.3,427.8 454.7,428.0 455.0,428.1C455.3,428.3 455.7,428.4 456.0,428.5C456.3,428.7 456.7,428.8 457.0,428.9C457.3,429.0 457.7,429.1 458.0,429.2C458.3,429.3 458.7,429.4 459.0,429.5C459.3,429.6 459.7,429.7 460.0,429.8C460.3,429.9 460.7,430.1 461.0,430.1C461.3,430.2 461.7,430.3 462.0,430.4C462.3,430.4 462.7,430.5 463.0,430.5C463.3,430.5 463.7,430.6 464.0,430.6C464.3,430.6 464.7,430.6 465.0,430.7C465.3,430.7 465.7,430.7 466.0,430.8C466.3,430.8 466.7,430.8 467.0,430.8C467.3,430.9 467.7,430.9 468.0,430.9C468.3,430.9 468.7,430.8 469.0,430.7C469.3,430.7 469.7,430.6 470.0,430.5C470.3,430.5 470.7,430.4 471.0,430.4C471.3,430.4 471.7,430.4 472.0,430.3C472.3,430.3 472.7,430.2 473.0,430.1C473.3,430.0 473.7,429.9 474.0,429.8C474.3,429.7 474.7,429.6 475.0,429.5C475.3,429.3 475.7,429.2 476.0,429.1C476.3,429.0 476.7,428.9 477.0,428.7C477.3,428.6 477.7,428.5 478.0,428.4C478.3,428.3 478.7,428.1 479.0,427.9C479.3,427.8 479.7,427.6 480.0,427.4C480.3,427.1 480.7,426.8 481.0,426.5C481.3,426.3 481.7,426.0 482.0,425.7C482.3,425.5 482.7,425.2 483.0,424.9C483.3,424.6 483.7,424.4 484.0,423.9C484.3,423.4 484.7,422.6 485.0,422.0C485.3,421.4 485.7,420.8 486.0,420.2C486.3,419.5 486.7,419.0 487.0,418.2C487.3,417.5 487.7,416.6 488.0,415.7C488.3,414.8 488.7,413.8 489.0,412.9C489.3,411.9 489.7,411.5 490.0,410.0C490.3,408.5 490.7,406.0 491.0,404.0C491.3,402.1 491.7,400.4 492.0,398.3C492.3,396.2 492.7,393.9 493.0,391.7C493.3,389.4 493.7,387.1 494.0,384.8C494.3,382.5 494.7,380.3 495.0,377.9C495.3,375.6 495.7,373.1 496.0,370.6C496.3,368.2 496.7,365.9 497.0,363.2C497.3,360.4 497.7,357.0 498.0,353.9C498.3,350.8 498.7,347.6 499.0,344.4C499.3,341.2 499.7,338.0 500.0,334.8C500.3,331.5 500.7,328.3 501.0,325.0C501.3,321.7 501.7,318.5 502.0,315.2C502.3,311.9 502.7,308.5 503.0,305.1C503.3,301.7 503.7,298.3 504.0,295.0C504.3,291.7 504.7,288.0 505.0,285.3C505.3,282.6 505.7,281.0 506.0,278.8C506.3,276.6 506.7,274.3 507.0,272.2C507.3,270.1 507.7,268.3 508.0,266.1C508.3,264.0 508.7,261.6 509.0,259.4C509.3,257.2 509.7,255.7 510.0,253.1C510.3,250.4 510.7,246.5 511.0,243.7C511.3,240.9 511.7,238.6 512.0,236.2C512.3,233.9 512.7,231.7 513.0,229.4C513.3,227.1 513.7,224.8 514.0,222.5C514.3,220.2 514.7,218.0 515.0,215.7C515.3,213.4 515.7,211.1 516.0,208.8C516.3,206.5 516.7,204.3 517.0,201.9C517.3,199.5 517.7,196.9 518.0,194.3C518.3,191.6 518.7,188.8 519.0,186.1C519.3,183.4 519.7,180.5 520.0,177.9C520.3,175.4 520.7,173.1 521.0,170.8C521.3,168.6 521.7,166.4 522.0,164.3C522.3,162.1 522.7,159.8 523.0,157.9C523.3,156.0 523.7,154.7 524.0,153.1C524.3,151.4 524.7,149.7 525.0,148.2C525.3,146.6 525.7,144.8 526.0,143.6C526.3,142.5 526.7,142.0 527.0,141.3C527.3,140.6 527.7,139.9 528.0,139.3C528.3,138.7 528.7,138.1 529.0,137.7C529.3,137.3 529.7,137.2 530.0,137.0C530.3,136.8 530.7,136.5 531.0,136.3C531.3,136.1 531.7,135.8 532.0,135.9C532.3,135.9 532.7,136.1 533.0,136.6C533.3,137.0 533.7,137.5 534.0,138.6C534.3,139.6 534.7,141.4 535.0,143.0C535.3,144.6 535.7,146.5 536.0,148.3C536.3,150.0 536.7,151.8 537.0,153.5C537.3,155.2 537.7,156.2 538.0,158.4C538.3,160.5 538.7,163.4 539.0,166.5C539.3,169.6 539.7,174.0 540.0,177.1C540.3,180.2 540.7,182.4 541.0,185.0C541.3,187.5 541.7,189.7 542.0,192.4C542.3,195.2 542.7,198.6 543.0,201.5C543.3,204.4 543.7,207.4 544.0,210.0C544.3,212.6 544.7,214.7 545.0,217.0C545.3,219.4 545.7,221.7 546.0,224.1C546.3,226.4 546.7,228.8 547.0,231.1C547.3,233.4 547.7,235.6 548.0,237.7C548.3,239.9 548.7,242.3 549.0,244.1C549.3,245.9 549.7,246.9 550.0,248.5C550.3,250.1 550.7,251.9 551.0,253.7C551.3,255.4 551.7,257.3 552.0,259.3C552.3,261.2 552.7,263.1 553.0,265.1C553.3,267.1 553.7,269.3 554.0,271.4C554.3,273.4 554.7,275.4 555.0,277.5C555.3,279.6 555.7,281.9 556.0,284.0C556.3,286.2 556.7,288.0 557.0,290.6C557.3,293.1 557.7,296.2 558.0,299.3C558.3,302.3 558.7,305.6 559.0,308.8C559.3,312.0 559.7,315.2 560.0,318.5C560.3,321.7 560.7,325.4 561.0,328.3C561.3,331.1 561.7,333.3 562.0,335.4C562.3,337.5 562.7,339.3 563.0,341.0C563.3,342.6 563.7,343.8 564.0,345.1C564.3,346.4 564.7,347.6 565.0,348.9C565.3,350.1 565.7,351.3 566.0,352.7C566.3,354.0 566.7,355.5 567.0,356.9C567.3,358.4 567.7,359.8 568.0,361.2C568.3,362.6 568.7,364.1 569.0,365.5C569.3,366.9 569.7,368.2 570.0,369.6C570.3,370.9 570.7,372.2 571.0,373.6C571.3,375.0 571.7,376.4 572.0,377.8C572.3,379.2 572.7,380.6 573.0,381.9C573.3,383.3 573.7,384.6 574.0,385.9C574.3,387.2 574.7,388.8 575.0,389.9C575.3,390.9 575.7,391.5 576.0,392.3C576.3,393.1 576.7,393.9 577.0,394.7C577.3,395.5 577.7,396.3 578.0,397.1C578.3,397.9 578.7,398.7 579.0,399.5C579.3,400.3 579.7,401.1 580.0,402.0C580.3,402.8 580.7,403.7 581.0,404.5C581.3,405.2 581.7,405.8 582.0,406.3C582.3,406.9 582.7,407.3 583.0,407.8C583.3,408.3 583.7,408.8 584.0,409.3C584.3,409.8 584.7,410.2 585.0,410.6C585.3,411.0 585.7,411.3 586.0,411.7C586.3,412.1 586.7,412.6 587.0,413.0C587.3,413.5 587.7,414.0 588.0,414.4C588.3,414.7 588.7,414.7 589.0,414.9C589.3,415.1 589.7,415.2 590.0,415.4C590.3,415.6 590.7,415.8 591.0,415.9C591.3,416.1 591.7,416.3 592.0,416.4C592.3,416.6 592.7,416.8 593.0,416.9C593.3,417.1 593.7,417.2 594.0,417.4C594.3,417.6 594.7,417.8 595.0,418.0C595.3,418.2 595.7,418.4 596.0,418.7C596.3,418.9 596.7,419.1 597.0,419.3C597.3,419.5 597.7,419.7 598.0,419.9C598.3,420.1 598.7,420.4 599.0,420.6C599.3,420.8 599.7,420.9 600.0,421.2C600.3,421.5 600.7,421.8 601.0,422.1C601.3,422.4 601.7,422.7 602.0,423.0C602.3,423.3 602.7,423.6 603.0,423.9C603.3,424.3 603.7,424.6 604.0,424.9C604.3,425.2 604.7,425.5 605.0,425.8C605.3,426.1 605.7,426.6 606.0,426.9C606.3,427.3 606.7,427.7 607.0,428.0C607.3,428.4 607.7,428.8 608.0,429.1C608.3,429.5 608.7,429.8 609.0,430.2C609.3,430.6 609.7,431.0 610.0,431.3C610.3,431.6 610.7,431.8 611.0,432.1C611.3,432.4 611.7,432.6 612.0,432.9C612.3,433.2 612.7,433.4 613.0,433.7C613.3,434.0 613.7,434.3 614.0,434.7C614.3,435.0 614.7,435.3 615.0,435.6C615.3,435.9 615.7,436.2 616.0,436.5C616.3,436.9 616.7,437.2 617.0,437.5C617.3,437.8 617.7,438.1 618.0,438.4C618.3,438.7 618.7,439.1 619.0,439.3C619.3,439.6 619.7,439.7 620.0,439.8C620.3,440.0 620.7,440.2 621.0,440.3C621.3,440.5 621.7,440.6 622.0,440.8C622.3,440.9 622.7,441.1 623.0,441.3C623.3,441.4 623.7,441.6 624.0,441.7C624.3,441.9 624.7,442.0 625.0,442.2C625.3,442.4 625.7,442.6 626.0,442.7C626.3,442.8 626.7,442.8 627.0,442.9C627.3,443.0 627.7,443.1 628.0,443.2C628.3,443.2 628.7,443.3 629.0,443.4C629.3,443.4 629.7,443.6 630.0,443.7C630.3,443.8 630.7,444.0 631.0,444.2C631.3,444.3 631.7,444.5 632.0,444.6C632.3,444.8 632.7,444.9 633.0,445.1C633.3,445.2 633.7,445.4 634.0,445.5C634.3,445.7 634.7,445.8 635.0,446.0C635.3,446.2 635.7,446.3 636.0,446.5C636.3,446.6 636.7,446.8 637.0,446.9C637.3,447.0 637.7,447.0 638.0,447.1C638.3,447.2 638.7,447.3 639.0,447.4C639.3,447.5 639.7,447.6 640.0,447.7C640.3,447.8 640.7,447.9 641.0,448.0C641.3,448.1 641.7,448.2 642.0,448.3C642.3,448.4 642.7,448.5 643.0,448.7C643.3,448.8 643.7,448.9 644.0,449.0C644.3,449.1 644.7,449.2 645.0,449.3C645.3,449.4 645.7,449.5 646.0,449.6C646.3,449.7 646.7,449.8 647.0,449.9C647.3,450.0 647.7,450.2 648.0,450.2C648.3,450.3 648.7,450.4 649.0,450.5C649.3,450.5 649.7,450.6 650.0,450.7C650.3,450.7 650.7,450.8 651.0,450.9C651.3,450.9 651.7,451.0 652.0,451.0C652.3,451.1 652.7,451.2 653.0,451.2C653.3,451.3 653.7,451.4 654.0,451.4C654.3,451.5 654.7,451.6 655.0,451.6C655.3,451.7 655.7,451.8 656.0,451.8C656.3,451.9 656.7,452.0 657.0,452.0C657.3,452.1 657.7,452.2 658.0,452.3C658.3,452.4 658.7,452.5 659.0,452.6C659.3,452.7 659.7,452.8 660.0,452.9C660.3,453.0 660.7,453.1 661.0,453.2C661.3,453.3 661.7,453.4 662.0,453.5C662.3,453.6 662.7,453.7 663.0,453.8C663.3,453.9 663.7,454.0 664.0,454.1C664.3,454.2 664.7,454.3 665.0,454.4C665.3,454.5 665.7,454.6 666.0,454.7C666.3,454.8 666.7,454.9 667.0,455.0C667.3,455.1 667.7,455.1 668.0,455.2C668.3,455.2 668.7,455.3 669.0,455.4C669.3,455.5 669.7,455.5 670.0,455.6C670.3,455.7 670.7,455.7 671.0,455.8C671.3,455.9 671.7,455.9 672.0,456.0C672.3,456.1 672.7,456.1 673.0,456.2C673.3,456.3 673.7,456.3 674.0,456.4C674.3,456.5 674.7,456.6 675.0,456.6C675.3,456.7 675.7,456.7 676.0,456.8C676.3,456.9 676.7,457.1 677.0,457.2C677.3,457.4 677.7,457.5 678.0,457.6C678.3,457.8 678.7,457.9 679.0,458.1C679.3,458.2 679.7,458.3 680.0,458.5C680.3,458.6 680.7,458.8 681.0,458.9C681.3,459.0 681.7,459.2 682.0,459.3C682.3,459.5 682.7,459.6 683.0,459.7C683.3,459.9 683.7,460.0 684.0,460.2C684.3,460.3 684.7,460.5 685.0,460.6C685.3,460.7 685.7,460.8 686.0,461.0C686.3,461.1 686.7,461.2 687.0,461.3C687.3,461.4 687.7,461.5 688.0,461.6C688.3,461.7 688.7,461.8 689.0,461.9C689.3,462.0 689.7,462.1 690.0,462.2C690.3,462.3 690.7,462.4 691.0,462.5C691.3,462.6 691.7,462.7 692.0,462.8C692.3,462.9 692.7,463.0 693.0,463.1C693.3,463.2 693.7,463.3 694.0,463.4C694.3,463.5 694.7,463.6 695.0,463.7C695.3,463.8 695.7,463.9 696.0,464.0C696.3,464.1 696.7,464.2 697.0,464.3C697.3,464.4 697.7,464.5 698.0,464.7C698.3,464.8 698.7,464.9 699.0,465.0C699.3,465.1 699.7,465.1 700.0,465.2C700.3,465.3 700.7,465.4 701.0,465.5C701.3,465.6 701.7,465.7 702.0,465.8C702.3,465.8 702.7,465.9 703.0,466.0C703.3,466.1 703.7,466.2 704.0,466.3C704.3,466.4 704.7,466.4 705.0,466.5C705.3,466.6 705.7,466.7 706.0,466.8C706.3,466.9 706.7,467.0 707.0,467.0C707.3,467.1 705.8,466.9 708.0,467.3C710.2,467.7 714.7,466.1 720.0,469.5C725.3,472.9 733.8,483.6 740.0,487.5C746.2,491.4 752.0,491.4 757.0,493.0C762.0,494.6 764.5,495.4 770.0,497.0C775.5,498.6 783.3,499.3 790.0,502.5C796.7,505.7 803.3,507.9 810.0,516.0C816.7,524.1 823.3,542.3 830.0,551.0C836.7,559.7 843.0,561.5 850.0,568.0C857.0,574.5 868.3,586.3 872.0,590.0" stroke="#ae6d45"/>
<path d="M157.3,660.0C158.7,656.7 163.0,644.8 165.6,640.0C168.2,635.2 171.3,633.0 173.0,631.0C174.8,629.0 174.9,629.2 176.0,628.0C177.2,626.8 178.5,625.3 179.8,624.0C181.2,622.7 182.9,621.0 184.1,620.0C185.3,619.0 186.1,618.8 186.9,618.0C187.7,617.2 188.2,616.0 188.8,615.0C189.5,614.0 190.1,613.0 190.8,612.0C191.4,611.0 192.2,610.0 192.9,609.0C193.6,608.0 194.4,607.0 195.0,606.0C195.6,605.0 196.1,604.0 196.6,603.0C197.1,602.0 197.5,601.7 198.2,600.0C198.9,598.3 200.0,595.3 200.9,593.0C201.8,590.7 203.0,588.2 203.6,586.0C204.3,583.8 204.6,582.0 205.0,580.0C205.5,578.0 205.6,577.0 206.3,574.0C207.1,571.0 208.4,566.0 209.4,562.0C210.4,558.0 211.5,554.5 212.4,550.0C213.2,545.5 213.8,540.0 214.6,535.0C215.3,530.0 216.2,524.8 216.9,520.0C217.7,515.2 218.3,510.7 218.9,506.0C219.6,501.3 220.3,497.0 220.9,492.0C221.6,487.0 222.2,481.3 222.8,476.0C223.4,470.7 224.1,465.2 224.7,460.0C225.3,454.8 225.8,450.0 226.4,445.0C227.0,440.0 227.7,434.5 228.1,430.0C228.6,425.5 228.9,422.2 229.3,418.0C229.6,413.8 230.1,409.3 230.5,405.0C230.9,400.7 231.3,396.2 231.7,392.0C232.1,387.8 232.5,384.5 232.8,380.0C233.2,375.5 233.5,370.0 233.8,365.0C234.2,360.0 234.3,354.2 234.9,350.0C235.4,345.8 236.3,343.3 237.0,340.0C237.7,336.7 238.3,334.2 239.1,330.0C239.8,325.8 240.5,320.0 241.2,315.0C242.0,310.0 242.8,304.5 243.4,300.0C244.1,295.5 244.5,292.2 245.1,288.0C245.6,283.8 246.2,279.3 246.8,275.0C247.4,270.7 248.0,266.2 248.5,262.0C249.1,257.8 249.6,254.0 250.1,250.0C250.7,246.0 251.4,242.2 252.1,238.0C252.7,233.8 253.5,229.3 254.1,225.0C254.8,220.7 255.6,216.2 256.2,212.0C256.9,207.8 257.4,203.7 258.1,200.0C258.9,196.3 259.7,194.9 260.8,190.0C261.9,185.1 263.6,174.9 264.6,170.6C265.6,166.2 266.2,166.1 267.0,163.9C267.8,161.7 268.7,159.0 269.5,157.5C270.2,156.0 270.8,155.6 271.4,154.8C272.1,153.9 272.2,153.3 273.1,152.5C273.9,151.8 275.3,150.8 276.5,150.4C277.6,150.0 278.5,150.0 279.9,149.9C281.3,149.9 283.8,150.1 284.9,150.0C286.1,149.8 286.1,149.1 286.8,149.1C287.4,149.2 288.1,149.9 288.8,150.3C289.5,150.7 290.3,151.5 291.0,151.5C291.7,151.6 292.5,150.7 293.0,150.6C293.5,150.4 293.7,150.6 294.0,150.7C294.3,150.7 294.7,150.7 295.0,150.8C295.3,150.9 295.7,150.9 296.0,151.0C296.3,151.0 296.7,151.1 297.0,151.2C297.3,151.3 297.7,151.4 298.0,151.5C298.3,151.5 298.7,151.6 299.0,151.6C299.3,151.7 299.7,151.7 300.0,151.8C300.3,151.8 300.7,151.9 301.0,151.9C301.3,152.0 301.7,152.1 302.0,152.2C302.3,152.2 302.7,152.1 303.0,152.1C303.3,152.1 303.7,152.0 304.0,152.0C304.3,152.0 304.7,152.0 305.0,152.0C305.3,152.0 305.7,152.0 306.0,152.0C306.3,152.0 306.7,152.1 307.0,152.1C307.3,152.1 307.7,152.1 308.0,152.1C308.3,152.1 308.7,152.1 309.0,152.1C309.3,152.2 309.7,152.1 310.0,152.2C310.3,152.2 310.7,152.2 311.0,152.2C311.3,152.1 311.7,152.1 312.0,152.0C312.3,152.0 312.7,151.9 313.0,151.8C313.3,151.7 313.7,151.6 314.0,151.5C314.3,151.4 314.7,151.4 315.0,151.4C315.3,151.3 315.7,151.3 316.0,151.3C316.3,151.3 316.7,151.3 317.0,151.3C317.3,151.3 317.7,151.3 318.0,151.3C318.3,151.2 318.7,151.2 319.0,151.1C319.3,151.0 319.7,150.9 320.0,150.9C320.3,150.8 320.7,150.7 321.0,150.6C321.3,150.6 321.7,150.5 322.0,150.4C322.3,150.3 322.7,150.2 323.0,150.2C323.3,150.1 323.7,150.1 324.0,150.0C324.3,150.0 324.7,149.9 325.0,149.9C325.3,149.9 325.7,150.0 326.0,150.1C326.3,150.2 326.7,150.3 327.0,150.5C327.3,150.7 327.7,150.9 328.0,151.1C328.3,151.3 328.7,151.5 329.0,151.6C329.3,151.8 329.7,152.0 330.0,152.2C330.3,152.5 330.7,152.7 331.0,153.0C331.3,153.3 331.7,153.7 332.0,153.9C332.3,154.2 332.7,154.3 333.0,154.4C333.3,154.6 333.7,154.8 334.0,154.9C334.3,155.0 334.7,155.2 335.0,155.3C335.3,155.4 335.7,155.6 336.0,155.7C336.3,155.8 336.7,156.0 337.0,156.1C337.3,156.2 337.7,156.3 338.0,156.5C338.3,156.7 338.7,157.0 339.0,157.3C339.3,157.5 339.7,157.8 340.0,158.0C340.3,158.3 340.7,158.7 341.0,159.0C341.3,159.4 341.7,159.8 342.0,160.2C342.3,160.6 342.7,161.0 343.0,161.5C343.3,161.9 343.7,162.3 344.0,162.8C344.3,163.2 344.7,163.6 345.0,164.1C345.3,164.6 345.7,165.2 346.0,165.8C346.3,166.4 346.7,166.9 347.0,167.5C347.3,168.1 347.7,168.6 348.0,169.2C348.3,169.7 348.7,170.3 349.0,170.8C349.3,171.4 349.7,171.9 350.0,172.5C350.3,173.1 350.7,173.7 351.0,174.3C351.3,175.0 351.7,175.8 352.0,176.4C352.3,177.0 352.7,177.3 353.0,178.0C353.3,178.6 353.7,179.5 354.0,180.4C354.3,181.3 354.7,182.2 355.0,183.1C355.3,184.0 355.7,185.0 356.0,185.9C356.3,186.7 356.7,187.4 357.0,188.2C357.3,189.1 357.7,190.2 358.0,191.2C358.3,192.2 358.7,193.2 359.0,194.2C359.3,195.2 359.7,196.3 360.0,197.3C360.3,198.3 360.7,199.4 361.0,200.3C361.3,201.3 361.7,202.2 362.0,203.1C362.3,204.0 362.7,204.9 363.0,205.7C363.3,206.6 363.7,207.5 364.0,208.4C364.3,209.3 364.7,210.2 365.0,211.1C365.3,212.1 365.7,213.0 366.0,214.0C366.3,215.0 366.7,216.0 367.0,216.9C367.3,217.9 367.7,218.9 368.0,219.9C368.3,220.9 368.7,221.8 369.0,223.0C369.3,224.2 369.7,225.9 370.0,227.3C370.3,228.7 370.7,230.2 371.0,231.6C371.3,233.0 371.7,234.0 372.0,235.5C372.3,236.9 372.7,238.6 373.0,240.2C373.3,241.8 373.7,243.4 374.0,245.0C374.3,246.6 374.7,248.2 375.0,249.8C375.3,251.4 375.7,252.8 376.0,254.4C376.3,255.9 376.7,257.4 377.0,258.9C377.3,260.4 377.7,261.9 378.0,263.5C378.3,265.0 378.7,266.5 379.0,268.0C379.3,269.5 379.7,270.9 380.0,272.3C380.3,273.7 380.7,275.0 381.0,276.4C381.3,277.8 381.7,279.2 382.0,280.5C382.3,281.9 382.7,283.3 383.0,284.6C383.3,286.0 383.7,287.4 384.0,288.7C384.3,290.1 384.7,291.5 385.0,292.8C385.3,294.2 385.7,295.5 386.0,296.9C386.3,298.2 386.7,299.6 387.0,301.0C387.3,302.3 387.7,303.5 388.0,304.8C388.3,306.0 388.7,307.2 389.0,308.5C389.3,309.7 389.7,311.1 390.0,312.3C390.3,313.4 390.7,314.4 391.0,315.5C391.3,316.6 391.7,317.7 392.0,318.7C392.3,319.8 392.7,320.8 393.0,322.0C393.3,323.1 393.7,324.4 394.0,325.6C394.3,326.8 394.7,328.0 395.0,329.2C395.3,330.4 395.7,331.6 396.0,332.8C396.3,334.0 396.7,335.2 397.0,336.3C397.3,337.3 397.7,338.2 398.0,339.1C398.3,340.1 398.7,341.0 399.0,342.0C399.3,343.0 399.7,344.1 400.0,345.1C400.3,346.1 400.7,347.1 401.0,348.2C401.3,349.2 401.7,350.2 402.0,351.3C402.3,352.4 402.7,353.5 403.0,354.6C403.3,355.8 403.7,356.9 404.0,358.0C404.3,359.1 404.7,360.2 405.0,361.4C405.3,362.5 405.7,363.7 406.0,364.7C406.3,365.8 406.7,366.8 407.0,367.6C407.3,368.4 407.7,369.0 408.0,369.6C408.3,370.2 408.7,370.7 409.0,371.3C409.3,371.9 409.7,372.4 410.0,373.0C410.3,373.5 410.7,374.1 411.0,374.7C411.3,375.2 411.7,375.7 412.0,376.3C412.3,376.8 412.7,377.3 413.0,377.8C413.3,378.3 413.7,378.9 414.0,379.4C414.3,379.9 414.7,380.3 415.0,380.8C415.3,381.3 415.7,381.8 416.0,382.3C416.3,382.8 416.7,383.2 417.0,383.8C417.3,384.3 417.7,385.0 418.0,385.6C418.3,386.3 418.7,386.9 419.0,387.6C419.3,388.2 419.7,388.9 420.0,389.5C420.3,390.2 420.7,390.8 421.0,391.5C421.3,392.1 421.7,392.8 422.0,393.4C422.3,394.0 422.7,394.6 423.0,395.1C423.3,395.6 423.7,396.1 424.0,396.6C424.3,397.1 424.7,397.6 425.0,398.1C425.3,398.6 425.7,399.1 426.0,399.6C426.3,400.1 426.7,400.5 427.0,401.1C427.3,401.7 427.7,402.4 428.0,403.0C428.3,403.7 428.7,404.3 429.0,404.9C429.3,405.5 429.7,406.2 430.0,406.8C430.3,407.4 430.7,408.0 431.0,408.7C431.3,409.4 431.7,410.1 432.0,410.8C432.3,411.6 432.7,412.4 433.0,413.0C433.3,413.5 433.7,413.8 434.0,414.2C434.3,414.6 434.7,415.1 435.0,415.5C435.3,415.8 435.7,416.0 436.0,416.3C436.3,416.6 436.7,416.8 437.0,417.1C437.3,417.3 437.7,417.6 438.0,417.8C438.3,418.0 438.7,418.2 439.0,418.5C439.3,418.7 439.7,418.9 440.0,419.1C440.3,419.4 440.7,419.6 441.0,419.8C441.3,420.0 441.7,420.3 442.0,420.5C442.3,420.7 442.7,421.0 443.0,421.2C443.3,421.4 443.7,421.7 444.0,421.9C444.3,422.1 444.7,422.4 445.0,422.6C445.3,422.9 445.7,423.0 446.0,423.3C446.3,423.6 446.7,424.1 447.0,424.5C447.3,425.0 447.7,425.5 448.0,425.9C448.3,426.4 448.7,426.9 449.0,427.2C449.3,427.6 449.7,427.8 450.0,428.1C450.3,428.4 450.7,428.7 451.0,429.0C451.3,429.2 451.7,429.3 452.0,429.5C452.3,429.7 452.7,429.9 453.0,430.1C453.3,430.3 453.7,430.4 454.0,430.6C454.3,430.8 454.7,431.0 455.0,431.2C455.3,431.4 455.7,431.5 456.0,431.6C456.3,431.8 456.7,431.9 457.0,432.0C457.3,432.1 457.7,432.2 458.0,432.3C458.3,432.5 458.7,432.6 459.0,432.7C459.3,432.8 459.7,432.9 460.0,433.0C460.3,433.1 460.7,433.3 461.0,433.4C461.3,433.5 461.7,433.6 462.0,433.6C462.3,433.7 462.7,433.7 463.0,433.8C463.3,433.8 463.7,433.9 464.0,433.9C464.3,433.9 464.7,434.0 465.0,434.0C465.3,434.0 465.7,434.1 466.0,434.1C466.3,434.1 466.7,434.2 467.0,434.2C467.3,434.2 467.7,434.3 468.0,434.3C468.3,434.3 468.7,434.2 469.0,434.2C469.3,434.1 469.7,434.0 470.0,433.9C470.3,433.9 470.7,433.9 471.0,433.8C471.3,433.8 471.7,433.7 472.0,433.7C472.3,433.6 472.7,433.6 473.0,433.5C473.3,433.4 473.7,433.3 474.0,433.2C474.3,433.1 474.7,433.0 475.0,432.8C475.3,432.7 475.7,432.6 476.0,432.5C476.3,432.4 476.7,432.2 477.0,432.1C477.3,432.0 477.7,431.9 478.0,431.8C478.3,431.6 478.7,431.5 479.0,431.3C479.3,431.2 479.7,431.0 480.0,430.8C480.3,430.6 480.7,430.2 481.0,430.0C481.3,429.7 481.7,429.4 482.0,429.1C482.3,428.9 482.7,428.6 483.0,428.3C483.3,428.0 483.7,427.7 484.0,427.2C484.3,426.7 484.7,426.0 485.0,425.4C485.3,424.9 485.7,424.3 486.0,423.7C486.3,423.1 486.7,422.5 487.0,421.7C487.3,421.0 487.7,420.1 488.0,419.3C488.3,418.4 488.7,417.5 489.0,416.6C489.3,415.7 489.7,415.1 490.0,413.8C490.3,412.4 490.7,410.1 491.0,408.3C491.3,406.6 491.7,405.0 492.0,403.1C492.3,401.2 492.7,399.0 493.0,396.8C493.3,394.7 493.7,392.5 494.0,390.3C494.3,388.1 494.7,385.9 495.0,383.6C495.3,381.3 495.7,378.9 496.0,376.5C496.3,374.1 496.7,371.8 497.0,369.1C497.3,366.4 497.7,363.2 498.0,360.3C498.3,357.3 498.7,354.3 499.0,351.3C499.3,348.2 499.7,345.2 500.0,342.1C500.3,339.0 500.7,335.9 501.0,332.8C501.3,329.7 501.7,326.7 502.0,323.6C502.3,320.4 502.7,317.3 503.0,314.1C503.3,310.9 503.7,307.7 504.0,304.6C504.3,301.5 504.7,298.1 505.0,295.5C505.3,292.9 505.7,291.2 506.0,289.1C506.3,286.9 506.7,284.7 507.0,282.7C507.3,280.6 507.7,278.8 508.0,276.7C508.3,274.7 508.7,272.4 509.0,270.3C509.3,268.2 509.7,266.7 510.0,264.2C510.3,261.7 510.7,258.0 511.0,255.3C511.3,252.7 511.7,250.4 512.0,248.1C512.3,245.8 512.7,243.8 513.0,241.6C513.3,239.4 513.7,237.3 514.0,235.1C514.3,232.9 514.7,230.8 515.0,228.6C515.3,226.4 515.7,224.3 516.0,222.1C516.3,219.9 516.7,217.8 517.0,215.5C517.3,213.2 517.7,210.8 518.0,208.3C518.3,205.8 518.7,203.2 519.0,200.6C519.3,198.1 519.7,195.4 520.0,193.0C520.3,190.6 520.7,188.4 521.0,186.2C521.3,184.0 521.7,181.9 522.0,179.8C522.3,177.7 522.7,175.4 523.0,173.6C523.3,171.8 523.7,170.4 524.0,168.8C524.3,167.2 524.7,165.6 525.0,164.0C525.3,162.5 525.7,160.7 526.0,159.5C526.3,158.3 526.7,157.8 527.0,157.0C527.3,156.2 527.7,155.6 528.0,154.9C528.3,154.3 528.7,153.6 529.0,153.1C529.3,152.7 529.7,152.6 530.0,152.3C530.3,152.0 530.7,151.7 531.0,151.5C531.3,151.2 531.7,150.9 532.0,150.9C532.3,150.9 532.7,151.1 533.0,151.5C533.3,151.9 533.7,152.4 534.0,153.3C534.3,154.3 534.7,155.7 535.0,157.1C535.3,158.5 535.7,160.2 536.0,161.7C536.3,163.2 536.7,164.8 537.0,166.3C537.3,167.8 537.7,168.7 538.0,170.6C538.3,172.5 538.7,174.8 539.0,177.5C539.3,180.2 539.7,184.1 540.0,186.9C540.3,189.7 540.7,191.9 541.0,194.4C541.3,196.8 541.7,198.8 542.0,201.5C542.3,204.2 542.7,207.7 543.0,210.6C543.3,213.4 543.7,216.4 544.0,218.9C544.3,221.3 544.7,223.2 545.0,225.4C545.3,227.6 545.7,229.8 546.0,232.0C546.3,234.1 546.7,236.4 547.0,238.5C547.3,240.6 547.7,242.7 548.0,244.7C548.3,246.8 548.7,248.9 549.0,250.9C549.3,252.8 549.7,254.4 550.0,256.3C550.3,258.3 550.7,260.3 551.0,262.3C551.3,264.4 551.7,266.5 552.0,268.6C552.3,270.7 552.7,272.8 553.0,275.0C553.3,277.2 553.7,279.5 554.0,281.8C554.3,284.0 554.7,286.2 555.0,288.4C555.3,290.6 555.7,292.7 556.0,294.8C556.3,296.9 556.7,298.7 557.0,301.1C557.3,303.5 557.7,306.3 558.0,309.2C558.3,312.1 558.7,315.5 559.0,318.7C559.3,321.9 559.7,325.0 560.0,328.2C560.3,331.5 560.7,335.3 561.0,337.9C561.3,340.6 561.7,342.2 562.0,344.1C562.3,346.0 562.7,347.7 563.0,349.2C563.3,350.8 563.7,352.0 564.0,353.3C564.3,354.7 564.7,355.9 565.0,357.2C565.3,358.5 565.7,359.8 566.0,361.1C566.3,362.5 566.7,363.9 567.0,365.3C567.3,366.7 567.7,368.1 568.0,369.5C568.3,370.9 568.7,372.3 569.0,373.7C569.3,375.0 569.7,376.3 570.0,377.6C570.3,378.9 570.7,380.1 571.0,381.3C571.3,382.6 571.7,383.9 572.0,385.2C572.3,386.5 572.7,387.8 573.0,389.0C573.3,390.2 573.7,391.3 574.0,392.5C574.3,393.6 574.7,395.0 575.0,396.0C575.3,396.9 575.7,397.5 576.0,398.3C576.3,399.1 576.7,399.9 577.0,400.6C577.3,401.4 577.7,402.2 578.0,402.9C578.3,403.7 578.7,404.5 579.0,405.2C579.3,406.0 579.7,406.8 580.0,407.6C580.3,408.4 580.7,409.3 581.0,410.0C581.3,410.6 581.7,411.2 582.0,411.7C582.3,412.1 582.7,412.5 583.0,412.9C583.3,413.2 583.7,413.7 584.0,414.0C584.3,414.4 584.7,414.7 585.0,415.0C585.3,415.4 585.7,415.6 586.0,416.0C586.3,416.3 586.7,416.7 587.0,417.1C587.3,417.5 587.7,418.0 588.0,418.3C588.3,418.5 588.7,418.6 589.0,418.7C589.3,418.9 589.7,419.1 590.0,419.2C590.3,419.4 590.7,419.5 591.0,419.7C591.3,419.9 591.7,420.0 592.0,420.2C592.3,420.3 592.7,420.5 593.0,420.6C593.3,420.7 593.7,420.9 594.0,421.0C594.3,421.2 594.7,421.4 595.0,421.6C595.3,421.8 595.7,421.9 596.0,422.1C596.3,422.3 596.7,422.5 597.0,422.7C597.3,422.9 597.7,423.0 598.0,423.2C598.3,423.4 598.7,423.6 599.0,423.8C599.3,424.0 599.7,424.1 600.0,424.3C600.3,424.6 600.7,424.9 601.0,425.2C601.3,425.5 601.7,425.8 602.0,426.1C602.3,426.4 602.7,426.7 603.0,427.0C603.3,427.3 603.7,427.6 604.0,427.9C604.3,428.2 604.7,428.5 605.0,428.9C605.3,429.2 605.7,429.6 606.0,430.0C606.3,430.4 606.7,430.8 607.0,431.2C607.3,431.5 607.7,431.9 608.0,432.3C608.3,432.7 608.7,433.0 609.0,433.4C609.3,433.8 609.7,434.2 610.0,434.5C610.3,434.9 610.7,435.1 611.0,435.3C611.3,435.6 611.7,435.9 612.0,436.1C612.3,436.4 612.7,436.6 613.0,436.9C613.3,437.2 613.7,437.5 614.0,437.8C614.3,438.1 614.7,438.4 615.0,438.7C615.3,439.0 615.7,439.3 616.0,439.6C616.3,439.9 616.7,440.2 617.0,440.5C617.3,440.8 617.7,441.1 618.0,441.4C618.3,441.7 618.7,442.1 619.0,442.3C619.3,442.5 619.7,442.7 620.0,442.9C620.3,443.0 620.7,443.2 621.0,443.4C621.3,443.5 621.7,443.7 622.0,443.9C622.3,444.0 622.7,444.2 623.0,444.4C623.3,444.6 623.7,444.7 624.0,444.9C624.3,445.1 624.7,445.2 625.0,445.4C625.3,445.6 625.7,445.8 626.0,445.9C626.3,446.1 626.7,446.1 627.0,446.2C627.3,446.3 627.7,446.3 628.0,446.4C628.3,446.5 628.7,446.5 629.0,446.6C629.3,446.7 629.7,446.8 630.0,446.9C630.3,447.0 630.7,447.2 631.0,447.3C631.3,447.4 631.7,447.6 632.0,447.7C632.3,447.8 632.7,448.0 633.0,448.1C633.3,448.2 633.7,448.4 634.0,448.5C634.3,448.6 634.7,448.8 635.0,448.9C635.3,449.0 635.7,449.2 636.0,449.3C636.3,449.4 636.7,449.6 637.0,449.7C637.3,449.8 637.7,449.8 638.0,449.9C638.3,450.0 638.7,450.0 639.0,450.1C639.3,450.2 639.7,450.3 640.0,450.4C640.3,450.6 640.7,450.7 641.0,450.8C641.3,450.9 641.7,451.0 642.0,451.1C642.3,451.2 642.7,451.3 643.0,451.4C643.3,451.5 643.7,451.6 644.0,451.7C644.3,451.8 644.7,451.9 645.0,452.0C645.3,452.1 645.7,452.2 646.0,452.3C646.3,452.4 646.7,452.6 647.0,452.7C647.3,452.8 647.7,452.9 648.0,453.0C648.3,453.1 648.7,453.1 649.0,453.2C649.3,453.3 649.7,453.3 650.0,453.4C650.3,453.5 650.7,453.5 651.0,453.6C651.3,453.7 651.7,453.7 652.0,453.8C652.3,453.9 652.7,454.0 653.0,454.0C653.3,454.1 653.7,454.2 654.0,454.2C654.3,454.3 654.7,454.4 655.0,454.4C655.3,454.5 655.7,454.6 656.0,454.6C656.3,454.7 656.7,454.8 657.0,454.9C657.3,454.9 657.7,455.0 658.0,455.1C658.3,455.2 658.7,455.3 659.0,455.4C659.3,455.5 659.7,455.6 660.0,455.7C660.3,455.8 660.7,455.9 661.0,456.0C661.3,456.1 661.7,456.2 662.0,456.3C662.3,456.4 662.7,456.5 663.0,456.6C663.3,456.6 663.7,456.7 664.0,456.8C664.3,456.9 664.7,457.0 665.0,457.1C665.3,457.2 665.7,457.3 666.0,457.4C666.3,457.5 666.7,457.6 667.0,457.7C667.3,457.8 667.7,457.8 668.0,457.9C668.3,457.9 668.7,458.0 669.0,458.1C669.3,458.1 669.7,458.2 670.0,458.2C670.3,458.3 670.7,458.4 671.0,458.4C671.3,458.5 671.7,458.6 672.0,458.6C672.3,458.7 672.7,458.7 673.0,458.8C673.3,458.9 673.7,458.9 674.0,459.0C674.3,459.1 674.7,459.1 675.0,459.2C675.3,459.2 675.7,459.3 676.0,459.4C676.3,459.5 676.7,459.6 677.0,459.8C677.3,459.9 677.7,460.0 678.0,460.2C678.3,460.3 678.7,460.5 679.0,460.6C679.3,460.7 679.7,460.9 680.0,461.0C680.3,461.1 680.7,461.3 681.0,461.4C681.3,461.6 681.7,461.7 682.0,461.8C682.3,462.0 682.7,462.1 683.0,462.3C683.3,462.4 683.7,462.5 684.0,462.7C684.3,462.8 684.7,463.0 685.0,463.1C685.3,463.2 685.7,463.3 686.0,463.4C686.3,463.5 686.7,463.6 687.0,463.7C687.3,463.8 687.7,463.9 688.0,464.0C688.3,464.1 688.7,464.2 689.0,464.3C689.3,464.4 689.7,464.5 690.0,464.6C690.3,464.7 690.7,464.8 691.0,464.9C691.3,464.9 691.7,465.0 692.0,465.1C692.3,465.2 692.7,465.3 693.0,465.4C693.3,465.5 693.7,465.6 694.0,465.7C694.3,465.8 694.7,465.9 695.0,466.0C695.3,466.1 695.7,466.2 696.0,466.3C696.3,466.4 696.7,466.5 697.0,466.6C697.3,466.7 697.7,466.8 698.0,466.8C698.3,466.9 698.7,467.0 699.0,467.1C699.3,467.2 699.7,467.3 700.0,467.4C700.3,467.5 700.7,467.5 701.0,467.6C701.3,467.7 701.7,467.8 702.0,467.9C702.3,467.9 702.7,468.0 703.0,468.1C703.3,468.2 703.7,468.3 704.0,468.3C704.3,468.4 704.7,468.5 705.0,468.6C705.3,468.7 705.7,468.7 706.0,468.8C706.3,468.9 706.7,469.0 707.0,469.1C707.3,469.1 705.8,468.8 708.0,469.3C710.2,469.8 714.7,468.6 720.0,472.0C725.3,475.4 733.8,485.9 740.0,489.5C746.2,493.1 752.0,492.2 757.0,493.5C762.0,494.8 764.5,495.8 770.0,497.5C775.5,499.2 783.3,500.2 790.0,503.5C796.7,506.8 803.3,510.1 810.0,517.0C816.7,523.9 823.3,537.0 830.0,545.0C836.7,553.0 843.0,558.2 850.0,565.0C857.0,571.8 868.3,582.5 872.0,586.0" stroke="#cb7f51"/>
<path d="M161.9,660.0C163.3,656.7 167.7,644.8 170.4,640.0C173.1,635.2 176.2,633.0 177.9,631.0C179.7,629.0 179.8,629.2 180.9,628.0C182.1,626.8 183.6,625.3 185.0,624.0C186.5,622.7 188.3,621.0 189.6,620.0C190.8,619.0 191.7,618.8 192.5,618.0C193.3,617.2 193.8,616.0 194.4,615.0C195.0,614.0 195.6,613.0 196.3,612.0C196.9,611.0 197.6,610.0 198.3,609.0C199.0,608.0 199.8,607.0 200.4,606.0C200.9,605.0 201.4,604.0 201.9,603.0C202.4,602.0 202.7,601.7 203.4,600.0C204.0,598.3 204.8,595.3 205.6,593.0C206.4,590.7 207.4,588.2 208.0,586.0C208.5,583.8 208.7,582.0 209.0,580.0C209.3,578.0 209.3,577.0 209.9,574.0C210.5,571.0 211.6,566.0 212.6,562.0C213.6,558.0 214.8,554.5 215.8,550.0C216.7,545.5 217.3,540.0 218.1,535.0C219.0,530.0 219.9,524.8 220.6,520.0C221.4,515.2 221.9,510.7 222.5,506.0C223.2,501.3 223.8,497.0 224.5,492.0C225.1,487.0 225.7,481.3 226.4,476.0C227.0,470.7 227.6,465.2 228.2,460.0C228.9,454.8 229.4,450.0 230.0,445.0C230.6,440.0 231.3,434.5 231.8,430.0C232.3,425.5 232.6,422.2 233.1,418.0C233.5,413.8 234.0,409.3 234.4,405.0C234.9,400.7 235.4,396.2 235.8,392.0C236.3,387.8 236.7,384.5 237.1,380.0C237.5,375.5 237.9,370.0 238.2,365.0C238.6,360.0 238.9,354.2 239.4,350.0C239.9,345.8 240.5,343.3 241.1,340.0C241.7,336.7 242.2,334.2 242.8,330.0C243.4,325.8 244.0,320.0 244.6,315.0C245.2,310.0 245.9,304.5 246.4,300.0C247.0,295.5 247.4,292.2 248.0,288.0C248.5,283.8 249.1,279.3 249.6,275.0C250.2,270.7 250.8,266.2 251.3,262.0C251.9,257.8 252.3,254.0 252.9,250.0C253.4,246.0 254.1,242.2 254.8,238.0C255.5,233.8 256.2,229.3 257.0,225.0C257.7,220.7 258.4,216.2 259.1,212.0C259.8,207.8 260.3,203.7 261.0,200.0C261.8,196.3 262.6,194.6 263.6,190.0C264.7,185.4 266.2,176.4 267.2,172.4C268.1,168.3 268.7,168.0 269.5,165.9C270.3,163.8 271.1,161.4 271.8,160.0C272.5,158.6 273.2,158.3 273.7,157.6C274.2,156.8 274.4,156.2 275.1,155.6C275.8,154.9 277.1,154.1 278.1,153.7C279.1,153.3 279.9,153.4 281.1,153.3C282.3,153.2 284.5,153.5 285.6,153.3C286.6,153.2 286.6,152.6 287.2,152.7C287.8,152.7 288.4,153.2 289.0,153.6C289.6,153.9 290.3,154.4 291.0,154.5C291.7,154.7 292.5,154.2 293.0,154.2C293.5,154.3 293.7,154.6 294.0,154.8C294.3,155.0 294.7,155.2 295.0,155.4C295.3,155.6 295.7,155.9 296.0,156.1C296.3,156.4 296.7,156.6 297.0,156.9C297.3,157.1 297.7,157.5 298.0,157.7C298.3,158.0 298.7,158.2 299.0,158.4C299.3,158.6 299.7,158.9 300.0,159.1C300.3,159.4 300.7,159.6 301.0,159.9C301.3,160.2 301.7,160.6 302.0,160.7C302.3,160.9 302.7,160.9 303.0,160.9C303.3,161.0 303.7,161.0 304.0,161.1C304.3,161.2 304.7,161.2 305.0,161.3C305.3,161.4 305.7,161.5 306.0,161.6C306.3,161.7 306.7,161.8 307.0,161.9C307.3,162.0 307.7,162.2 308.0,162.3C308.3,162.4 308.7,162.5 309.0,162.6C309.3,162.7 309.7,162.7 310.0,162.8C310.3,162.9 310.7,163.1 311.0,163.1C311.3,163.2 311.7,163.2 312.0,163.3C312.3,163.3 312.7,163.2 313.0,163.2C313.3,163.2 313.7,163.2 314.0,163.2C314.3,163.2 314.7,163.2 315.0,163.2C315.3,163.3 315.7,163.3 316.0,163.4C316.3,163.4 316.7,163.5 317.0,163.5C317.3,163.5 317.7,163.6 318.0,163.6C318.3,163.6 318.7,163.6 319.0,163.6C319.3,163.6 319.7,163.5 320.0,163.5C320.3,163.5 320.7,163.4 321.0,163.4C321.3,163.3 321.7,163.3 322.0,163.2C322.3,163.2 322.7,163.2 323.0,163.1C323.3,163.1 323.7,163.1 324.0,163.1C324.3,163.0 324.7,162.9 325.0,163.0C325.3,163.0 325.7,163.2 326.0,163.3C326.3,163.5 326.7,163.6 327.0,163.8C327.3,164.0 327.7,164.2 328.0,164.4C328.3,164.6 328.7,164.8 329.0,165.0C329.3,165.2 329.7,165.4 330.0,165.6C330.3,165.9 330.7,166.1 331.0,166.4C331.3,166.7 331.7,167.1 332.0,167.3C332.3,167.5 332.7,167.6 333.0,167.8C333.3,167.9 333.7,168.1 334.0,168.2C334.3,168.4 334.7,168.5 335.0,168.7C335.3,168.8 335.7,168.9 336.0,169.1C336.3,169.2 336.7,169.3 337.0,169.5C337.3,169.6 337.7,169.7 338.0,169.9C338.3,170.1 338.7,170.3 339.0,170.6C339.3,170.8 339.7,171.0 340.0,171.2C340.3,171.5 340.7,171.8 341.0,172.2C341.3,172.5 341.7,172.8 342.0,173.2C342.3,173.6 342.7,174.0 343.0,174.3C343.3,174.7 343.7,175.1 344.0,175.5C344.3,175.9 344.7,176.2 345.0,176.7C345.3,177.1 345.7,177.7 346.0,178.2C346.3,178.7 346.7,179.2 347.0,179.7C347.3,180.3 347.7,180.8 348.0,181.3C348.3,181.8 348.7,182.2 349.0,182.7C349.3,183.2 349.7,183.7 350.0,184.2C350.3,184.7 350.7,185.2 351.0,185.8C351.3,186.4 351.7,187.1 352.0,187.6C352.3,188.2 352.7,188.3 353.0,189.0C353.3,189.6 353.7,190.5 354.0,191.3C354.3,192.1 354.7,193.0 355.0,193.9C355.3,194.8 355.7,195.7 356.0,196.5C356.3,197.3 356.7,197.9 357.0,198.7C357.3,199.5 357.7,200.5 358.0,201.4C358.3,202.2 358.7,203.1 359.0,204.0C359.3,204.9 359.7,205.8 360.0,206.7C360.3,207.6 360.7,208.6 361.0,209.4C361.3,210.3 361.7,211.1 362.0,211.9C362.3,212.8 362.7,213.5 363.0,214.4C363.3,215.2 363.7,216.0 364.0,216.8C364.3,217.6 364.7,218.4 365.0,219.3C365.3,220.2 365.7,221.1 366.0,222.0C366.3,222.9 366.7,223.8 367.0,224.7C367.3,225.6 367.7,226.5 368.0,227.5C368.3,228.4 368.7,229.2 369.0,230.4C369.3,231.6 369.7,233.3 370.0,234.8C370.3,236.3 370.7,237.8 371.0,239.2C371.3,240.6 371.7,241.6 372.0,243.1C372.3,244.5 372.7,246.2 373.0,247.8C373.3,249.4 373.7,250.9 374.0,252.5C374.3,254.1 374.7,255.7 375.0,257.3C375.3,258.8 375.7,260.3 376.0,261.7C376.3,263.2 376.7,264.7 377.0,266.2C377.3,267.7 377.7,269.2 378.0,270.6C378.3,272.1 378.7,273.7 379.0,275.1C379.3,276.5 379.7,277.9 380.0,279.2C380.3,280.6 380.7,281.9 381.0,283.3C381.3,284.6 381.7,286.0 382.0,287.3C382.3,288.6 382.7,290.0 383.0,291.3C383.3,292.6 383.7,294.0 384.0,295.3C384.3,296.6 384.7,298.0 385.0,299.3C385.3,300.6 385.7,301.9 386.0,303.3C386.3,304.6 386.7,305.9 387.0,307.2C387.3,308.5 387.7,309.7 388.0,311.0C388.3,312.2 388.7,313.5 389.0,314.7C389.3,316.0 389.7,317.4 390.0,318.5C390.3,319.7 390.7,320.6 391.0,321.7C391.3,322.8 391.7,323.8 392.0,324.9C392.3,326.0 392.7,327.0 393.0,328.1C393.3,329.2 393.7,330.5 394.0,331.7C394.3,332.9 394.7,334.2 395.0,335.4C395.3,336.6 395.7,337.8 396.0,339.0C396.3,340.2 396.7,341.4 397.0,342.4C397.3,343.5 397.7,344.3 398.0,345.2C398.3,346.2 398.7,347.1 399.0,348.0C399.3,349.0 399.7,350.0 400.0,351.0C400.3,351.9 400.7,352.9 401.0,353.9C401.3,354.9 401.7,355.9 402.0,356.9C402.3,357.9 402.7,359.1 403.0,360.2C403.3,361.2 403.7,362.3 404.0,363.4C404.3,364.5 404.7,365.6 405.0,366.7C405.3,367.8 405.7,369.0 406.0,369.9C406.3,370.9 406.7,371.9 407.0,372.6C407.3,373.3 407.7,373.8 408.0,374.4C408.3,374.9 408.7,375.4 409.0,375.9C409.3,376.4 409.7,376.9 410.0,377.4C410.3,377.9 410.7,378.5 411.0,379.0C411.3,379.5 411.7,380.0 412.0,380.5C412.3,381.0 412.7,381.5 413.0,381.9C413.3,382.4 413.7,382.9 414.0,383.4C414.3,383.8 414.7,384.3 415.0,384.7C415.3,385.2 415.7,385.7 416.0,386.1C416.3,386.6 416.7,387.0 417.0,387.5C417.3,388.0 417.7,388.7 418.0,389.3C418.3,389.9 418.7,390.6 419.0,391.2C419.3,391.9 419.7,392.5 420.0,393.2C420.3,393.8 420.7,394.4 421.0,395.1C421.3,395.7 421.7,396.4 422.0,397.0C422.3,397.5 422.7,398.1 423.0,398.6C423.3,399.1 423.7,399.5 424.0,400.0C424.3,400.5 424.7,401.0 425.0,401.4C425.3,401.9 425.7,402.4 426.0,402.9C426.3,403.3 426.7,403.7 427.0,404.3C427.3,404.8 427.7,405.5 428.0,406.2C428.3,406.8 428.7,407.4 429.0,408.0C429.3,408.7 429.7,409.3 430.0,409.9C430.3,410.5 430.7,411.1 431.0,411.8C431.3,412.5 431.7,413.2 432.0,414.0C432.3,414.7 432.7,415.6 433.0,416.1C433.3,416.7 433.7,416.9 434.0,417.3C434.3,417.7 434.7,418.1 435.0,418.4C435.3,418.7 435.7,419.0 436.0,419.3C436.3,419.5 436.7,419.8 437.0,420.0C437.3,420.2 437.7,420.5 438.0,420.7C438.3,421.0 438.7,421.2 439.0,421.4C439.3,421.6 439.7,421.8 440.0,422.1C440.3,422.3 440.7,422.5 441.0,422.7C441.3,422.9 441.7,423.2 442.0,423.4C442.3,423.6 442.7,423.9 443.0,424.1C443.3,424.3 443.7,424.5 444.0,424.8C444.3,425.0 444.7,425.2 445.0,425.5C445.3,425.7 445.7,425.8 446.0,426.2C446.3,426.5 446.7,426.9 447.0,427.3C447.3,427.7 447.7,428.1 448.0,428.6C448.3,429.0 448.7,429.5 449.0,429.8C449.3,430.2 449.7,430.4 450.0,430.7C450.3,431.0 450.7,431.3 451.0,431.6C451.3,431.8 451.7,431.9 452.0,432.1C452.3,432.3 452.7,432.5 453.0,432.6C453.3,432.8 453.7,433.0 454.0,433.2C454.3,433.4 454.7,433.6 455.0,433.7C455.3,433.9 455.7,434.0 456.0,434.1C456.3,434.3 456.7,434.4 457.0,434.5C457.3,434.7 457.7,434.8 458.0,434.9C458.3,435.0 458.7,435.1 459.0,435.2C459.3,435.3 459.7,435.5 460.0,435.6C460.3,435.7 460.7,435.8 461.0,435.9C461.3,436.0 461.7,436.1 462.0,436.2C462.3,436.3 462.7,436.3 463.0,436.4C463.3,436.4 463.7,436.4 464.0,436.5C464.3,436.5 464.7,436.5 465.0,436.6C465.3,436.6 465.7,436.7 466.0,436.7C466.3,436.7 466.7,436.8 467.0,436.8C467.3,436.8 467.7,436.9 468.0,436.9C468.3,436.9 468.7,436.8 469.0,436.8C469.3,436.7 469.7,436.6 470.0,436.5C470.3,436.5 470.7,436.4 471.0,436.4C471.3,436.3 471.7,436.3 472.0,436.2C472.3,436.2 472.7,436.1 473.0,436.0C473.3,436.0 473.7,435.9 474.0,435.8C474.3,435.6 474.7,435.5 475.0,435.4C475.3,435.3 475.7,435.2 476.0,435.0C476.3,434.9 476.7,434.8 477.0,434.7C477.3,434.6 477.7,434.4 478.0,434.3C478.3,434.2 478.7,434.0 479.0,433.9C479.3,433.7 479.7,433.6 480.0,433.4C480.3,433.2 480.7,432.8 481.0,432.5C481.3,432.3 481.7,432.0 482.0,431.7C482.3,431.4 482.7,431.2 483.0,430.9C483.3,430.5 483.7,430.2 484.0,429.7C484.3,429.3 484.7,428.8 485.0,428.3C485.3,427.8 485.7,427.4 486.0,426.9C486.3,426.4 486.7,425.9 487.0,425.2C487.3,424.6 487.7,423.8 488.0,423.1C488.3,422.3 488.7,421.5 489.0,420.7C489.3,419.9 489.7,419.4 490.0,418.3C490.3,417.1 490.7,415.3 491.0,413.8C491.3,412.3 491.7,411.1 492.0,409.5C492.3,407.9 492.7,405.9 493.0,404.1C493.3,402.2 493.7,400.4 494.0,398.4C494.3,396.3 494.7,394.1 495.0,391.8C495.3,389.6 495.7,387.3 496.0,385.0C496.3,382.6 496.7,380.4 497.0,377.8C497.3,375.2 497.7,372.3 498.0,369.5C498.3,366.8 498.7,364.0 499.0,361.2C499.3,358.4 499.7,355.6 500.0,352.8C500.3,349.9 500.7,347.1 501.0,344.2C501.3,341.4 501.7,338.6 502.0,335.8C502.3,332.9 502.7,330.1 503.0,327.2C503.3,324.3 503.7,321.5 504.0,318.6C504.3,315.8 504.7,312.7 505.0,310.2C505.3,307.7 505.7,305.8 506.0,303.6C506.3,301.3 506.7,299.1 507.0,296.9C507.3,294.7 507.7,292.7 508.0,290.6C508.3,288.4 508.7,286.0 509.0,283.8C509.3,281.6 509.7,279.8 510.0,277.3C510.3,274.9 510.7,271.6 511.0,269.0C511.3,266.5 511.7,264.3 512.0,262.1C512.3,259.9 512.7,258.0 513.0,256.0C513.3,253.9 513.7,251.9 514.0,249.9C514.3,247.8 514.7,245.8 515.0,243.8C515.3,241.7 515.7,239.7 516.0,237.7C516.3,235.6 516.7,233.6 517.0,231.4C517.3,229.3 517.7,227.0 518.0,224.7C518.3,222.4 518.7,220.0 519.0,217.7C519.3,215.3 519.7,212.9 520.0,210.6C520.3,208.4 520.7,206.3 521.0,204.2C521.3,202.1 521.7,200.1 522.0,198.0C522.3,196.0 522.7,193.8 523.0,192.0C523.3,190.2 523.7,188.9 524.0,187.3C524.3,185.8 524.7,184.2 525.0,182.6C525.3,181.1 525.7,179.3 526.0,178.1C526.3,176.9 526.7,176.2 527.0,175.4C527.3,174.6 527.7,173.9 528.0,173.2C528.3,172.5 528.7,171.7 529.0,171.2C529.3,170.7 529.7,170.6 530.0,170.3C530.3,169.9 530.7,169.6 531.0,169.3C531.3,169.0 531.7,168.5 532.0,168.5C532.3,168.4 532.7,168.7 533.0,169.0C533.3,169.4 533.7,169.9 534.0,170.7C534.3,171.4 534.7,172.6 535.0,173.7C535.3,174.8 535.7,176.2 536.0,177.4C536.3,178.7 536.7,180.0 537.0,181.3C537.3,182.5 537.7,183.4 538.0,184.9C538.3,186.5 538.7,188.2 539.0,190.5C539.3,192.7 539.7,195.9 540.0,198.4C540.3,200.9 540.7,203.1 541.0,205.4C541.3,207.7 541.7,209.6 542.0,212.2C542.3,214.8 542.7,218.3 543.0,221.2C543.3,224.0 543.7,226.9 544.0,229.3C544.3,231.6 544.7,233.2 545.0,235.2C545.3,237.2 545.7,239.2 546.0,241.2C546.3,243.2 546.7,245.2 547.0,247.2C547.3,249.1 547.7,251.0 548.0,252.9C548.3,254.9 548.7,256.9 549.0,258.8C549.3,260.7 549.7,262.4 550.0,264.3C550.3,266.3 550.7,268.2 551.0,270.2C551.3,272.2 551.7,274.3 552.0,276.3C552.3,278.4 552.7,280.4 553.0,282.5C553.3,284.7 553.7,287.0 554.0,289.2C554.3,291.3 554.7,293.5 555.0,295.7C555.3,297.8 555.7,299.9 556.0,302.0C556.3,304.0 556.7,305.9 557.0,308.2C557.3,310.5 557.7,313.0 558.0,315.8C558.3,318.7 558.7,322.1 559.0,325.3C559.3,328.4 559.7,331.6 560.0,334.8C560.3,338.0 560.7,341.8 561.0,344.4C561.3,346.9 561.7,348.2 562.0,349.9C562.3,351.7 562.7,353.3 563.0,354.7C563.3,356.2 563.7,357.5 564.0,358.8C564.3,360.2 564.7,361.4 565.0,362.8C565.3,364.1 565.7,365.4 566.0,366.7C566.3,368.1 566.7,369.5 567.0,370.9C567.3,372.3 567.7,373.7 568.0,375.1C568.3,376.5 568.7,378.0 569.0,379.3C569.3,380.7 569.7,382.0 570.0,383.2C570.3,384.5 570.7,385.6 571.0,386.9C571.3,388.1 571.7,389.4 572.0,390.6C572.3,391.8 572.7,393.0 573.0,394.1C573.3,395.3 573.7,396.3 574.0,397.4C574.3,398.5 574.7,399.7 575.0,400.6C575.3,401.6 575.7,402.2 576.0,403.0C576.3,403.8 576.7,404.6 577.0,405.4C577.3,406.1 577.7,406.9 578.0,407.7C578.3,408.5 578.7,409.3 579.0,410.0C579.3,410.8 579.7,411.6 580.0,412.4C580.3,413.2 580.7,414.1 581.0,414.8C581.3,415.5 581.7,416.0 582.0,416.5C582.3,416.9 582.7,417.2 583.0,417.6C583.3,417.9 583.7,418.3 584.0,418.6C584.3,419.0 584.7,419.2 585.0,419.5C585.3,419.8 585.7,420.0 586.0,420.3C586.3,420.5 586.7,420.9 587.0,421.2C587.3,421.5 587.7,421.9 588.0,422.2C588.3,422.4 588.7,422.5 589.0,422.6C589.3,422.8 589.7,422.9 590.0,423.0C590.3,423.2 590.7,423.3 591.0,423.5C591.3,423.6 591.7,423.8 592.0,423.9C592.3,424.1 592.7,424.2 593.0,424.3C593.3,424.4 593.7,424.5 594.0,424.7C594.3,424.8 594.7,425.0 595.0,425.1C595.3,425.3 595.7,425.4 596.0,425.6C596.3,425.7 596.7,425.9 597.0,426.1C597.3,426.2 597.7,426.4 598.0,426.5C598.3,426.7 598.7,426.8 599.0,427.0C599.3,427.1 599.7,427.2 600.0,427.5C600.3,427.7 600.7,428.0 601.0,428.3C601.3,428.6 601.7,428.9 602.0,429.2C602.3,429.5 602.7,429.8 603.0,430.1C603.3,430.4 603.7,430.7 604.0,431.0C604.3,431.3 604.7,431.6 605.0,431.9C605.3,432.3 605.7,432.7 606.0,433.1C606.3,433.5 606.7,433.9 607.0,434.3C607.3,434.7 607.7,435.1 608.0,435.5C608.3,435.8 608.7,436.2 609.0,436.6C609.3,437.0 609.7,437.5 610.0,437.8C610.3,438.1 610.7,438.3 611.0,438.6C611.3,438.8 611.7,439.1 612.0,439.3C612.3,439.6 612.7,439.8 613.0,440.1C613.3,440.4 613.7,440.7 614.0,441.0C614.3,441.3 614.7,441.5 615.0,441.8C615.3,442.1 615.7,442.4 616.0,442.7C616.3,443.0 616.7,443.3 617.0,443.5C617.3,443.8 617.7,444.1 618.0,444.4C618.3,444.7 618.7,445.0 619.0,445.3C619.3,445.5 619.7,445.7 620.0,445.9C620.3,446.1 620.7,446.2 621.0,446.4C621.3,446.6 621.7,446.8 622.0,447.0C622.3,447.2 622.7,447.3 623.0,447.5C623.3,447.7 623.7,447.9 624.0,448.1C624.3,448.3 624.7,448.4 625.0,448.6C625.3,448.8 625.7,449.1 626.0,449.2C626.3,449.3 626.7,449.3 627.0,449.4C627.3,449.5 627.7,449.6 628.0,449.7C628.3,449.7 628.7,449.8 629.0,449.8C629.3,449.9 629.7,450.0 630.0,450.1C630.3,450.2 630.7,450.3 631.0,450.4C631.3,450.5 631.7,450.7 632.0,450.8C632.3,450.9 632.7,451.0 633.0,451.1C633.3,451.2 633.7,451.3 634.0,451.4C634.3,451.6 634.7,451.7 635.0,451.8C635.3,451.9 635.7,452.0 636.0,452.1C636.3,452.2 636.7,452.3 637.0,452.4C637.3,452.5 637.7,452.6 638.0,452.6C638.3,452.7 638.7,452.8 639.0,452.9C639.3,453.0 639.7,453.1 640.0,453.2C640.3,453.3 640.7,453.4 641.0,453.5C641.3,453.6 641.7,453.7 642.0,453.8C642.3,453.9 642.7,454.0 643.0,454.1C643.3,454.2 643.7,454.3 644.0,454.4C644.3,454.6 644.7,454.7 645.0,454.8C645.3,454.9 645.7,455.0 646.0,455.1C646.3,455.2 646.7,455.3 647.0,455.4C647.3,455.5 647.7,455.6 648.0,455.7C648.3,455.8 648.7,455.9 649.0,455.9C649.3,456.0 649.7,456.1 650.0,456.1C650.3,456.2 650.7,456.3 651.0,456.4C651.3,456.4 651.7,456.5 652.0,456.6C652.3,456.7 652.7,456.7 653.0,456.8C653.3,456.9 653.7,456.9 654.0,457.0C654.3,457.1 654.7,457.2 655.0,457.2C655.3,457.3 655.7,457.4 656.0,457.5C656.3,457.5 656.7,457.6 657.0,457.7C657.3,457.7 657.7,457.8 658.0,457.9C658.3,458.0 658.7,458.1 659.0,458.2C659.3,458.3 659.7,458.4 660.0,458.5C660.3,458.6 660.7,458.7 661.0,458.8C661.3,458.9 661.7,458.9 662.0,459.0C662.3,459.1 662.7,459.2 663.0,459.3C663.3,459.4 663.7,459.5 664.0,459.6C664.3,459.7 664.7,459.8 665.0,459.9C665.3,460.0 665.7,460.1 666.0,460.1C666.3,460.2 666.7,460.3 667.0,460.4C667.3,460.5 667.7,460.5 668.0,460.6C668.3,460.6 668.7,460.7 669.0,460.7C669.3,460.8 669.7,460.8 670.0,460.9C670.3,461.0 670.7,461.0 671.0,461.1C671.3,461.1 671.7,461.2 672.0,461.2C672.3,461.3 672.7,461.4 673.0,461.4C673.3,461.5 673.7,461.5 674.0,461.6C674.3,461.6 674.7,461.7 675.0,461.7C675.3,461.8 675.7,461.8 676.0,461.9C676.3,462.0 676.7,462.2 677.0,462.3C677.3,462.4 677.7,462.6 678.0,462.7C678.3,462.8 678.7,463.0 679.0,463.1C679.3,463.3 679.7,463.4 680.0,463.5C680.3,463.7 680.7,463.8 681.0,463.9C681.3,464.1 681.7,464.2 682.0,464.3C682.3,464.5 682.7,464.6 683.0,464.8C683.3,464.9 683.7,465.0 684.0,465.2C684.3,465.3 684.7,465.5 685.0,465.6C685.3,465.7 685.7,465.8 686.0,465.9C686.3,466.0 686.7,466.1 687.0,466.2C687.3,466.3 687.7,466.3 688.0,466.4C688.3,466.5 688.7,466.6 689.0,466.7C689.3,466.8 689.7,466.9 690.0,467.0C690.3,467.0 690.7,467.1 691.0,467.2C691.3,467.3 691.7,467.4 692.0,467.5C692.3,467.6 692.7,467.6 693.0,467.7C693.3,467.8 693.7,467.9 694.0,468.0C694.3,468.1 694.7,468.2 695.0,468.3C695.3,468.3 695.7,468.4 696.0,468.5C696.3,468.6 696.7,468.7 697.0,468.8C697.3,468.9 697.7,469.0 698.0,469.0C698.3,469.1 698.7,469.2 699.0,469.3C699.3,469.4 699.7,469.5 700.0,469.5C700.3,469.6 700.7,469.7 701.0,469.8C701.3,469.8 701.7,469.9 702.0,470.0C702.3,470.1 702.7,470.1 703.0,470.2C703.3,470.3 703.7,470.3 704.0,470.4C704.3,470.5 704.7,470.6 705.0,470.6C705.3,470.7 705.7,470.8 706.0,470.9C706.3,470.9 706.7,471.0 707.0,471.1C707.3,471.2 705.8,470.7 708.0,471.3C710.2,471.9 714.7,471.1 720.0,474.5C725.3,477.9 733.8,488.2 740.0,491.5C746.2,494.8 752.0,493.2 757.0,494.5C762.0,495.8 764.5,497.2 770.0,499.0C775.5,500.8 783.3,502.2 790.0,505.5C796.7,508.8 803.3,512.2 810.0,518.5C816.7,524.8 823.3,535.9 830.0,543.0C836.7,550.1 843.0,555.7 850.0,561.0C857.0,566.3 868.3,572.7 872.0,575.0" stroke="#e8915c"/>
<path d="M166.4,660.0C167.9,656.7 172.4,644.8 175.1,640.0C177.8,635.2 181.0,633.0 182.7,631.0C184.5,629.0 184.5,629.2 185.7,628.0C187.0,626.8 188.6,625.3 190.2,624.0C191.7,622.7 193.6,621.0 195.0,620.0C196.3,619.0 197.2,618.8 198.0,618.0C198.8,617.2 199.2,616.0 199.8,615.0C200.4,614.0 201.0,613.0 201.6,612.0C202.3,611.0 202.9,610.0 203.6,609.0C204.2,608.0 205.0,607.0 205.6,606.0C206.1,605.0 206.5,604.0 207.0,603.0C207.5,602.0 207.9,601.7 208.4,600.0C209.0,598.3 209.6,595.3 210.3,593.0C210.9,590.7 211.7,588.2 212.2,586.0C212.6,583.8 212.7,582.0 212.9,580.0C213.1,578.0 212.9,577.0 213.4,574.0C213.9,571.0 214.8,566.0 215.7,562.0C216.7,558.0 218.0,554.5 218.9,550.0C219.8,545.5 220.5,540.0 221.3,535.0C222.1,530.0 223.0,524.8 223.7,520.0C224.4,515.2 225.0,510.7 225.6,506.0C226.3,501.3 226.9,497.0 227.6,492.0C228.3,487.0 229.0,481.3 229.6,476.0C230.3,470.7 231.0,465.2 231.7,460.0C232.4,454.8 233.0,450.0 233.6,445.0C234.3,440.0 235.0,434.5 235.6,430.0C236.1,425.5 236.5,422.2 237.1,418.0C237.6,413.8 238.1,409.3 238.7,405.0C239.2,400.7 239.8,396.2 240.3,392.0C240.8,387.8 241.3,384.5 241.8,380.0C242.3,375.5 242.7,370.0 243.1,365.0C243.5,360.0 244.0,354.2 244.4,350.0C244.9,345.8 245.4,343.3 245.9,340.0C246.4,336.7 246.8,334.2 247.4,330.0C247.9,325.8 248.5,320.0 249.1,315.0C249.7,310.0 250.4,304.5 250.9,300.0C251.3,295.5 251.6,292.2 252.0,288.0C252.4,283.8 252.8,279.3 253.2,275.0C253.6,270.7 254.0,266.2 254.4,262.0C254.8,257.8 255.0,254.0 255.5,250.0C256.1,246.0 257.0,242.2 257.8,238.0C258.5,233.8 259.4,229.3 260.2,225.0C261.0,220.7 261.8,216.2 262.6,212.0C263.4,207.8 264.1,203.7 264.8,200.0C265.6,196.3 266.3,194.3 267.2,190.0C268.0,185.7 268.9,177.8 269.7,174.2C270.5,170.5 271.3,169.8 272.0,167.9C272.7,166.0 273.5,163.8 274.2,162.5C274.9,161.2 275.4,160.9 275.9,160.4C276.5,159.8 276.8,159.6 277.5,159.2C278.2,158.7 279.2,158.0 280.0,157.7C280.9,157.4 281.5,157.4 282.6,157.3C283.6,157.3 285.4,157.5 286.3,157.4C287.1,157.3 287.2,156.8 287.7,156.9C288.2,157.0 288.8,157.5 289.3,157.8C289.9,158.1 290.4,158.6 291.0,158.8C291.6,159.0 292.5,158.9 293.0,159.1C293.5,159.3 293.7,159.7 294.0,160.1C294.3,160.4 294.7,160.7 295.0,161.1C295.3,161.5 295.7,161.8 296.0,162.2C296.3,162.6 296.7,163.0 297.0,163.4C297.3,163.8 297.7,164.3 298.0,164.7C298.3,165.1 298.7,165.4 299.0,165.8C299.3,166.2 299.7,166.6 300.0,167.0C300.3,167.4 300.7,167.8 301.0,168.2C301.3,168.6 301.7,169.2 302.0,169.5C302.3,169.7 302.7,169.8 303.0,169.9C303.3,170.0 303.7,170.2 304.0,170.3C304.3,170.5 304.7,170.6 305.0,170.8C305.3,171.0 305.7,171.2 306.0,171.4C306.3,171.6 306.7,171.8 307.0,172.0C307.3,172.2 307.7,172.4 308.0,172.6C308.3,172.8 308.7,172.9 309.0,173.1C309.3,173.3 309.7,173.5 310.0,173.7C310.3,173.9 310.7,174.1 311.0,174.3C311.3,174.5 311.7,174.6 312.0,174.7C312.3,174.8 312.7,174.8 313.0,174.9C313.3,175.0 313.7,175.0 314.0,175.1C314.3,175.2 314.7,175.3 315.0,175.3C315.3,175.4 315.7,175.5 316.0,175.6C316.3,175.7 316.7,175.8 317.0,175.9C317.3,176.0 317.7,176.1 318.0,176.2C318.3,176.3 318.7,176.3 319.0,176.3C319.3,176.4 319.7,176.3 320.0,176.3C320.3,176.3 320.7,176.3 321.0,176.3C321.3,176.3 321.7,176.3 322.0,176.3C322.3,176.3 322.7,176.3 323.0,176.3C323.3,176.3 323.7,176.3 324.0,176.3C324.3,176.3 324.7,176.2 325.0,176.3C325.3,176.4 325.7,176.6 326.0,176.8C326.3,177.0 326.7,177.2 327.0,177.4C327.3,177.6 327.7,177.8 328.0,178.0C328.3,178.2 328.7,178.4 329.0,178.7C329.3,178.9 329.7,179.1 330.0,179.3C330.3,179.5 330.7,179.7 331.0,180.0C331.3,180.3 331.7,180.6 332.0,180.9C332.3,181.1 332.7,181.2 333.0,181.4C333.3,181.6 333.7,181.8 334.0,181.9C334.3,182.1 334.7,182.3 335.0,182.5C335.3,182.6 335.7,182.8 336.0,182.9C336.3,183.1 336.7,183.3 337.0,183.4C337.3,183.6 337.7,183.7 338.0,183.9C338.3,184.1 338.7,184.4 339.0,184.6C339.3,184.8 339.7,185.0 340.0,185.2C340.3,185.5 340.7,185.8 341.0,186.1C341.3,186.5 341.7,186.8 342.0,187.1C342.3,187.5 342.7,187.8 343.0,188.2C343.3,188.5 343.7,188.9 344.0,189.2C344.3,189.6 344.7,189.9 345.0,190.3C345.3,190.7 345.7,191.2 346.0,191.7C346.3,192.1 346.7,192.6 347.0,193.0C347.3,193.5 347.7,193.9 348.0,194.4C348.3,194.8 348.7,195.2 349.0,195.6C349.3,196.0 349.7,196.5 350.0,196.9C350.3,197.3 350.7,197.7 351.0,198.2C351.3,198.7 351.7,199.4 352.0,199.9C352.3,200.3 352.7,200.4 353.0,201.0C353.3,201.6 353.7,202.5 354.0,203.3C354.3,204.2 354.7,205.1 355.0,206.0C355.3,206.9 355.7,207.9 356.0,208.7C356.3,209.5 356.7,210.0 357.0,210.8C357.3,211.5 357.7,212.3 358.0,213.1C358.3,213.9 358.7,214.7 359.0,215.5C359.3,216.3 359.7,217.2 360.0,218.0C360.3,218.8 360.7,219.6 361.0,220.4C361.3,221.2 361.7,222.0 362.0,222.7C362.3,223.5 362.7,224.2 363.0,225.0C363.3,225.7 363.7,226.5 364.0,227.3C364.3,228.0 364.7,228.8 365.0,229.6C365.3,230.4 365.7,231.3 366.0,232.2C366.3,233.0 366.7,233.9 367.0,234.7C367.3,235.6 367.7,236.4 368.0,237.3C368.3,238.3 368.7,238.9 369.0,240.2C369.3,241.4 369.7,243.3 370.0,244.8C370.3,246.4 370.7,248.1 371.0,249.5C371.3,250.9 371.7,252.1 372.0,253.5C372.3,254.9 372.7,256.4 373.0,257.9C373.3,259.4 373.7,260.9 374.0,262.4C374.3,263.9 374.7,265.4 375.0,266.8C375.3,268.2 375.7,269.6 376.0,270.9C376.3,272.3 376.7,273.7 377.0,275.1C377.3,276.4 377.7,277.8 378.0,279.2C378.3,280.5 378.7,282.0 379.0,283.3C379.3,284.6 379.7,285.8 380.0,287.1C380.3,288.3 380.7,289.5 381.0,290.8C381.3,292.0 381.7,293.2 382.0,294.5C382.3,295.7 382.7,296.9 383.0,298.2C383.3,299.4 383.7,300.6 384.0,301.8C384.3,303.1 384.7,304.3 385.0,305.5C385.3,306.7 385.7,308.0 386.0,309.2C386.3,310.4 386.7,311.6 387.0,312.8C387.3,314.0 387.7,315.2 388.0,316.4C388.3,317.5 388.7,318.7 389.0,319.9C389.3,321.1 389.7,322.3 390.0,323.5C390.3,324.6 390.7,325.7 391.0,326.8C391.3,327.9 391.7,329.0 392.0,330.1C392.3,331.2 392.7,332.2 393.0,333.4C393.3,334.6 393.7,336.0 394.0,337.2C394.3,338.5 394.7,339.8 395.0,341.1C395.3,342.4 395.7,343.7 396.0,344.9C396.3,346.2 396.7,347.4 397.0,348.5C397.3,349.6 397.7,350.5 398.0,351.4C398.3,352.4 398.7,353.4 399.0,354.3C399.3,355.3 399.7,356.3 400.0,357.3C400.3,358.3 400.7,359.3 401.0,360.3C401.3,361.3 401.7,362.3 402.0,363.3C402.3,364.4 402.7,365.6 403.0,366.7C403.3,367.8 403.7,368.9 404.0,370.0C404.3,371.1 404.7,372.2 405.0,373.4C405.3,374.5 405.7,375.7 406.0,376.7C406.3,377.7 406.7,378.6 407.0,379.4C407.3,380.1 407.7,380.5 408.0,381.0C408.3,381.5 408.7,382.0 409.0,382.5C409.3,382.9 409.7,383.4 410.0,383.9C410.3,384.4 410.7,384.9 411.0,385.3C411.3,385.8 411.7,386.3 412.0,386.7C412.3,387.1 412.7,387.6 413.0,388.0C413.3,388.4 413.7,388.8 414.0,389.3C414.3,389.7 414.7,390.1 415.0,390.5C415.3,390.9 415.7,391.3 416.0,391.7C416.3,392.1 416.7,392.5 417.0,393.0C417.3,393.4 417.7,394.1 418.0,394.7C418.3,395.3 418.7,395.9 419.0,396.6C419.3,397.2 419.7,397.8 420.0,398.4C420.3,399.1 420.7,399.7 421.0,400.3C421.3,400.9 421.7,401.6 422.0,402.2C422.3,402.7 422.7,403.2 423.0,403.7C423.3,404.2 423.7,404.6 424.0,405.0C424.3,405.4 424.7,405.9 425.0,406.3C425.3,406.7 425.7,407.2 426.0,407.6C426.3,408.1 426.7,408.4 427.0,408.9C427.3,409.5 427.7,410.2 428.0,410.8C428.3,411.4 428.7,412.0 429.0,412.6C429.3,413.2 429.7,413.9 430.0,414.5C430.3,415.1 430.7,415.7 431.0,416.3C431.3,417.0 431.7,417.8 432.0,418.5C432.3,419.3 432.7,420.2 433.0,420.7C433.3,421.2 433.7,421.4 434.0,421.7C434.3,422.1 434.7,422.4 435.0,422.7C435.3,423.1 435.7,423.3 436.0,423.6C436.3,423.8 436.7,424.1 437.0,424.3C437.3,424.5 437.7,424.8 438.0,425.0C438.3,425.2 438.7,425.4 439.0,425.6C439.3,425.8 439.7,426.0 440.0,426.2C440.3,426.4 440.7,426.6 441.0,426.8C441.3,427.0 441.7,427.2 442.0,427.4C442.3,427.6 442.7,427.8 443.0,428.0C443.3,428.2 443.7,428.5 444.0,428.7C444.3,428.9 444.7,429.1 445.0,429.3C445.3,429.5 445.7,429.7 446.0,429.9C446.3,430.2 446.7,430.6 447.0,430.9C447.3,431.3 447.7,431.7 448.0,432.1C448.3,432.4 448.7,432.8 449.0,433.2C449.3,433.5 449.7,433.8 450.0,434.0C450.3,434.3 450.7,434.7 451.0,434.9C451.3,435.1 451.7,435.2 452.0,435.4C452.3,435.5 452.7,435.7 453.0,435.9C453.3,436.0 453.7,436.2 454.0,436.3C454.3,436.5 454.7,436.7 455.0,436.8C455.3,437.0 455.7,437.1 456.0,437.2C456.3,437.4 456.7,437.5 457.0,437.6C457.3,437.7 457.7,437.8 458.0,437.9C458.3,438.0 458.7,438.1 459.0,438.2C459.3,438.3 459.7,438.4 460.0,438.6C460.3,438.7 460.7,438.8 461.0,438.9C461.3,439.0 461.7,439.1 462.0,439.1C462.3,439.2 462.7,439.2 463.0,439.3C463.3,439.3 463.7,439.3 464.0,439.4C464.3,439.4 464.7,439.4 465.0,439.4C465.3,439.5 465.7,439.5 466.0,439.5C466.3,439.6 466.7,439.6 467.0,439.6C467.3,439.6 467.7,439.7 468.0,439.7C468.3,439.7 468.7,439.6 469.0,439.5C469.3,439.4 469.7,439.3 470.0,439.2C470.3,439.2 470.7,439.1 471.0,439.1C471.3,439.0 471.7,439.0 472.0,438.9C472.3,438.9 472.7,438.8 473.0,438.7C473.3,438.6 473.7,438.5 474.0,438.4C474.3,438.3 474.7,438.2 475.0,438.1C475.3,438.0 475.7,437.8 476.0,437.7C476.3,437.6 476.7,437.5 477.0,437.3C477.3,437.2 477.7,437.1 478.0,437.0C478.3,436.9 478.7,436.7 479.0,436.6C479.3,436.4 479.7,436.3 480.0,436.1C480.3,435.9 480.7,435.5 481.0,435.2C481.3,435.0 481.7,434.7 482.0,434.4C482.3,434.1 482.7,433.9 483.0,433.5C483.3,433.2 483.7,432.8 484.0,432.4C484.3,432.0 484.7,431.7 485.0,431.4C485.3,431.1 485.7,430.8 486.0,430.4C486.3,430.0 486.7,429.6 487.0,429.1C487.3,428.6 487.7,428.0 488.0,427.4C488.3,426.8 488.7,426.2 489.0,425.5C489.3,424.9 489.7,424.4 490.0,423.5C490.3,422.6 490.7,421.2 491.0,420.1C491.3,419.1 491.7,418.2 492.0,417.0C492.3,415.7 492.7,414.1 493.0,412.6C493.3,411.1 493.7,409.7 494.0,407.9C494.3,406.1 494.7,403.8 495.0,401.6C495.3,399.5 495.7,397.3 496.0,395.1C496.3,392.8 496.7,390.5 497.0,388.1C497.3,385.7 497.7,383.1 498.0,380.6C498.3,378.0 498.7,375.5 499.0,373.0C499.3,370.5 499.7,367.9 500.0,365.4C500.3,362.9 500.7,360.3 501.0,357.8C501.3,355.2 501.7,352.8 502.0,350.3C502.3,347.8 502.7,345.3 503.0,342.8C503.3,340.3 503.7,337.8 504.0,335.2C504.3,332.7 504.7,330.2 505.0,327.7C505.3,325.2 505.7,322.6 506.0,320.0C506.3,317.5 506.7,314.8 507.0,312.2C507.3,309.7 507.7,307.1 508.0,304.5C508.3,301.8 508.7,299.0 509.0,296.3C509.3,293.6 509.7,290.7 510.0,288.0C510.3,285.3 510.7,282.6 511.0,280.2C511.3,277.8 511.7,275.6 512.0,273.5C512.3,271.4 512.7,269.6 513.0,267.7C513.3,265.8 513.7,263.9 514.0,261.9C514.3,260.0 514.7,258.1 515.0,256.2C515.3,254.2 515.7,252.3 516.0,250.4C516.3,248.4 516.7,246.5 517.0,244.5C517.3,242.5 517.7,240.3 518.0,238.2C518.3,236.0 518.7,233.8 519.0,231.6C519.3,229.4 519.7,227.2 520.0,225.0C520.3,222.9 520.7,220.9 521.0,218.9C521.3,216.9 521.7,214.9 522.0,212.9C522.3,211.0 522.7,208.8 523.0,207.0C523.3,205.3 523.7,204.0 524.0,202.4C524.3,200.9 524.7,199.4 525.0,197.8C525.3,196.3 525.7,194.6 526.0,193.4C526.3,192.2 526.7,191.3 527.0,190.5C527.3,189.6 527.7,188.9 528.0,188.2C528.3,187.5 528.7,186.6 529.0,186.0C529.3,185.5 529.7,185.3 530.0,185.0C530.3,184.6 530.7,184.2 531.0,183.9C531.3,183.5 531.7,183.0 532.0,182.9C532.3,182.8 532.7,183.0 533.0,183.4C533.3,183.7 533.7,184.2 534.0,184.8C534.3,185.5 534.7,186.3 535.0,187.3C535.3,188.2 535.7,189.2 536.0,190.3C536.3,191.3 536.7,192.5 537.0,193.5C537.3,194.6 537.7,195.4 538.0,196.6C538.3,197.9 538.7,199.2 539.0,201.0C539.3,202.9 539.7,205.6 540.0,207.8C540.3,210.1 540.7,212.3 541.0,214.4C541.3,216.6 541.7,218.3 542.0,220.9C542.3,223.5 542.7,227.0 543.0,229.8C543.3,232.6 543.7,235.5 544.0,237.7C544.3,240.0 544.7,241.4 545.0,243.3C545.3,245.1 545.7,246.9 546.0,248.8C546.3,250.6 546.7,252.5 547.0,254.3C547.3,256.1 547.7,257.8 548.0,259.6C548.3,261.5 548.7,263.4 549.0,265.3C549.3,267.2 549.7,269.0 550.0,271.0C550.3,272.9 550.7,274.8 551.0,276.8C551.3,278.8 551.7,280.8 552.0,282.8C552.3,284.8 552.7,286.8 553.0,288.9C553.3,291.0 553.7,293.3 554.0,295.4C554.3,297.6 554.7,299.8 555.0,301.9C555.3,304.0 555.7,306.1 556.0,308.1C556.3,310.2 556.7,312.0 557.0,314.2C557.3,316.4 557.7,318.7 558.0,321.5C558.3,324.3 558.7,327.8 559.0,330.9C559.3,334.1 559.7,337.2 560.0,340.4C560.3,343.5 560.7,347.5 561.0,349.9C561.3,352.3 561.7,353.3 562.0,354.9C562.3,356.5 562.7,358.0 563.0,359.5C563.3,360.9 563.7,362.2 564.0,363.6C564.3,364.9 564.7,366.2 565.0,367.5C565.3,368.9 565.7,370.2 566.0,371.6C566.3,372.9 566.7,374.4 567.0,375.8C567.3,377.2 567.7,378.6 568.0,380.0C568.3,381.4 568.7,382.9 569.0,384.2C569.3,385.6 569.7,386.8 570.0,388.1C570.3,389.3 570.7,390.4 571.0,391.7C571.3,392.9 571.7,394.1 572.0,395.3C572.3,396.5 572.7,397.6 573.0,398.7C573.3,399.7 573.7,400.7 574.0,401.7C574.3,402.7 574.7,403.8 575.0,404.7C575.3,405.6 575.7,406.4 576.0,407.2C576.3,408.0 576.7,408.7 577.0,409.5C577.3,410.3 577.7,411.1 578.0,411.9C578.3,412.7 578.7,413.5 579.0,414.3C579.3,415.1 579.7,415.9 580.0,416.7C580.3,417.5 580.7,418.4 581.0,419.1C581.3,419.8 581.7,420.3 582.0,420.8C582.3,421.2 582.7,421.4 583.0,421.8C583.3,422.1 583.7,422.5 584.0,422.8C584.3,423.0 584.7,423.3 585.0,423.5C585.3,423.7 585.7,423.9 586.0,424.1C586.3,424.4 586.7,424.6 587.0,424.9C587.3,425.2 587.7,425.5 588.0,425.7C588.3,425.9 588.7,426.0 589.0,426.1C589.3,426.2 589.7,426.4 590.0,426.5C590.3,426.6 590.7,426.8 591.0,426.9C591.3,427.0 591.7,427.2 592.0,427.3C592.3,427.4 592.7,427.5 593.0,427.6C593.3,427.7 593.7,427.8 594.0,427.9C594.3,428.0 594.7,428.2 595.0,428.3C595.3,428.5 595.7,428.6 596.0,428.7C596.3,428.8 596.7,429.0 597.0,429.1C597.3,429.2 597.7,429.4 598.0,429.5C598.3,429.6 598.7,429.8 599.0,429.9C599.3,430.0 599.7,430.1 600.0,430.3C600.3,430.5 600.7,430.8 601.0,431.1C601.3,431.4 601.7,431.7 602.0,432.0C602.3,432.3 602.7,432.6 603.0,432.9C603.3,433.2 603.7,433.5 604.0,433.8C604.3,434.1 604.7,434.3 605.0,434.7C605.3,435.0 605.7,435.5 606.0,435.9C606.3,436.3 606.7,436.7 607.0,437.1C607.3,437.5 607.7,437.9 608.0,438.3C608.3,438.7 608.7,439.1 609.0,439.5C609.3,439.9 609.7,440.4 610.0,440.7C610.3,441.0 610.7,441.2 611.0,441.5C611.3,441.7 611.7,442.0 612.0,442.2C612.3,442.5 612.7,442.7 613.0,443.0C613.3,443.3 613.7,443.5 614.0,443.8C614.3,444.1 614.7,444.4 615.0,444.6C615.3,444.9 615.7,445.2 616.0,445.5C616.3,445.7 616.7,446.0 617.0,446.3C617.3,446.5 617.7,446.8 618.0,447.1C618.3,447.4 618.7,447.7 619.0,447.9C619.3,448.2 619.7,448.4 620.0,448.6C620.3,448.8 620.7,449.0 621.0,449.2C621.3,449.4 621.7,449.6 622.0,449.8C622.3,450.0 622.7,450.2 623.0,450.5C623.3,450.7 623.7,450.9 624.0,451.1C624.3,451.3 624.7,451.5 625.0,451.7C625.3,451.9 625.7,452.1 626.0,452.3C626.3,452.4 626.7,452.5 627.0,452.5C627.3,452.6 627.7,452.7 628.0,452.8C628.3,452.9 628.7,452.9 629.0,453.0C629.3,453.0 629.7,453.1 630.0,453.2C630.3,453.3 630.7,453.4 631.0,453.5C631.3,453.6 631.7,453.7 632.0,453.8C632.3,453.8 632.7,453.9 633.0,454.0C633.3,454.1 633.7,454.2 634.0,454.3C634.3,454.4 634.7,454.5 635.0,454.6C635.3,454.7 635.7,454.8 636.0,454.9C636.3,455.0 636.7,455.1 637.0,455.1C637.3,455.2 637.7,455.2 638.0,455.3C638.3,455.4 638.7,455.5 639.0,455.5C639.3,455.6 639.7,455.7 640.0,455.9C640.3,456.0 640.7,456.1 641.0,456.2C641.3,456.3 641.7,456.4 642.0,456.5C642.3,456.6 642.7,456.7 643.0,456.8C643.3,456.9 643.7,457.0 644.0,457.1C644.3,457.2 644.7,457.3 645.0,457.4C645.3,457.5 645.7,457.6 646.0,457.7C646.3,457.8 646.7,457.9 647.0,458.0C647.3,458.1 647.7,458.3 648.0,458.4C648.3,458.4 648.7,458.5 649.0,458.6C649.3,458.7 649.7,458.7 650.0,458.8C650.3,458.9 650.7,459.0 651.0,459.0C651.3,459.1 651.7,459.2 652.0,459.3C652.3,459.3 652.7,459.4 653.0,459.5C653.3,459.6 653.7,459.6 654.0,459.7C654.3,459.8 654.7,459.9 655.0,459.9C655.3,460.0 655.7,460.1 656.0,460.2C656.3,460.3 656.7,460.3 657.0,460.4C657.3,460.5 657.7,460.6 658.0,460.7C658.3,460.7 658.7,460.8 659.0,460.9C659.3,461.0 659.7,461.1 660.0,461.2C660.3,461.3 660.7,461.4 661.0,461.5C661.3,461.5 661.7,461.6 662.0,461.7C662.3,461.8 662.7,461.9 663.0,462.0C663.3,462.1 663.7,462.2 664.0,462.3C664.3,462.3 664.7,462.4 665.0,462.5C665.3,462.6 665.7,462.7 666.0,462.8C666.3,462.9 666.7,463.0 667.0,463.0C667.3,463.1 667.7,463.1 668.0,463.2C668.3,463.2 668.7,463.3 669.0,463.3C669.3,463.4 669.7,463.4 670.0,463.5C670.3,463.5 670.7,463.6 671.0,463.6C671.3,463.7 671.7,463.7 672.0,463.8C672.3,463.8 672.7,463.9 673.0,463.9C673.3,464.0 673.7,464.0 674.0,464.1C674.3,464.1 674.7,464.2 675.0,464.2C675.3,464.3 675.7,464.3 676.0,464.4C676.3,464.5 676.7,464.6 677.0,464.8C677.3,464.9 677.7,465.0 678.0,465.2C678.3,465.3 678.7,465.4 679.0,465.6C679.3,465.7 679.7,465.8 680.0,466.0C680.3,466.1 680.7,466.2 681.0,466.4C681.3,466.5 681.7,466.6 682.0,466.8C682.3,466.9 682.7,467.0 683.0,467.2C683.3,467.3 683.7,467.5 684.0,467.6C684.3,467.7 684.7,467.9 685.0,468.0C685.3,468.1 685.7,468.2 686.0,468.3C686.3,468.4 686.7,468.5 687.0,468.6C687.3,468.6 687.7,468.7 688.0,468.8C688.3,468.9 688.7,468.9 689.0,469.0C689.3,469.1 689.7,469.2 690.0,469.3C690.3,469.3 690.7,469.4 691.0,469.5C691.3,469.6 691.7,469.7 692.0,469.7C692.3,469.8 692.7,469.9 693.0,470.0C693.3,470.1 693.7,470.1 694.0,470.2C694.3,470.3 694.7,470.4 695.0,470.5C695.3,470.5 695.7,470.6 696.0,470.7C696.3,470.8 696.7,470.8 697.0,470.9C697.3,471.0 697.7,471.1 698.0,471.2C698.3,471.2 698.7,471.3 699.0,471.4C699.3,471.5 699.7,471.6 700.0,471.6C700.3,471.7 700.7,471.8 701.0,471.8C701.3,471.9 701.7,472.0 702.0,472.0C702.3,472.1 702.7,472.2 703.0,472.2C703.3,472.3 703.7,472.4 704.0,472.4C704.3,472.5 704.7,472.6 705.0,472.6C705.3,472.7 705.7,472.8 706.0,472.8C706.3,472.9 706.7,473.0 707.0,473.0C707.3,473.1 705.8,472.6 708.0,473.2C710.2,473.9 714.7,473.5 720.0,477.0C725.3,480.5 733.8,490.5 740.0,494.0C746.2,497.5 752.0,496.6 757.0,498.0C762.0,499.4 764.5,500.7 770.0,502.5C775.5,504.3 783.3,505.8 790.0,509.0C796.7,512.2 803.3,516.1 810.0,521.5C816.7,526.9 823.3,535.2 830.0,541.5C836.7,547.8 843.0,554.4 850.0,559.0C857.0,563.6 868.3,567.3 872.0,569.0" stroke="#ffa368"/>
<path d="M171.8,660.0C173.3,656.7 177.9,644.8 180.7,640.0C183.5,635.2 186.7,633.0 188.5,631.0C190.3,629.0 190.2,629.2 191.5,628.0C192.8,626.8 194.6,625.3 196.3,624.0C197.9,622.7 200.0,621.0 201.4,620.0C202.8,619.0 203.8,618.8 204.6,618.0C205.4,617.2 205.7,616.0 206.3,615.0C206.9,614.0 207.5,613.0 208.1,612.0C208.7,611.0 209.3,610.0 209.9,609.0C210.6,608.0 211.3,607.0 211.8,606.0C212.3,605.0 212.7,604.0 213.1,603.0C213.6,602.0 214.0,601.7 214.5,600.0C215.0,598.3 215.6,595.3 216.1,593.0C216.7,590.7 217.5,588.2 217.8,586.0C218.2,583.8 218.3,582.0 218.4,580.0C218.5,578.0 218.1,577.0 218.6,574.0C219.0,571.0 219.9,566.0 220.8,562.0C221.7,558.0 223.2,554.5 224.2,550.0C225.2,545.5 226.0,540.0 226.8,535.0C227.7,530.0 228.7,524.8 229.4,520.0C230.1,515.2 230.6,510.7 231.2,506.0C231.9,501.3 232.4,497.0 233.1,492.0C233.7,487.0 234.5,481.3 235.2,476.0C236.0,470.7 236.7,465.2 237.4,460.0C238.1,454.8 238.7,450.0 239.4,445.0C240.1,440.0 240.9,434.5 241.4,430.0C242.0,425.5 242.3,422.2 242.8,418.0C243.3,413.8 243.8,409.3 244.3,405.0C244.8,400.7 245.3,396.2 245.8,392.0C246.3,387.8 246.8,384.5 247.2,380.0C247.6,375.5 247.9,370.0 248.3,365.0C248.6,360.0 249.0,354.2 249.4,350.0C249.7,345.8 250.1,343.3 250.5,340.0C250.9,336.7 251.2,334.2 251.7,330.0C252.2,325.8 252.7,320.0 253.2,315.0C253.7,310.0 254.3,304.5 254.8,300.0C255.2,295.5 255.6,292.2 256.0,288.0C256.5,283.8 257.0,279.3 257.4,275.0C257.9,270.7 258.3,266.2 258.8,262.0C259.2,257.8 259.4,254.0 260.1,250.0C260.7,246.0 261.9,242.2 262.9,238.0C263.9,233.8 264.9,229.3 266.0,225.0C267.0,220.7 268.1,216.2 269.1,212.0C270.1,207.8 271.2,203.7 272.0,200.0C272.8,196.3 273.3,193.8 273.7,190.0C274.1,186.2 273.9,180.5 274.4,177.4C274.8,174.3 275.8,173.2 276.5,171.5C277.2,169.8 277.9,168.0 278.5,167.0C279.0,166.0 279.4,165.6 280.0,165.4C280.6,165.2 281.5,166.1 282.2,166.1C282.8,166.1 283.2,165.4 283.8,165.2C284.3,165.1 284.7,165.1 285.4,165.1C286.0,165.0 287.1,165.2 287.7,165.1C288.2,165.1 288.4,165.0 288.7,165.0C289.1,165.0 289.4,165.0 289.8,164.9C290.2,164.9 290.5,164.8 291.0,164.8C291.5,164.9 292.5,165.0 293.0,165.2C293.5,165.5 293.7,165.9 294.0,166.3C294.3,166.7 294.7,167.1 295.0,167.5C295.3,167.9 295.7,168.3 296.0,168.7C296.3,169.1 296.7,169.5 297.0,169.9C297.3,170.4 297.7,170.8 298.0,171.2C298.3,171.6 298.7,172.0 299.0,172.3C299.3,172.7 299.7,173.1 300.0,173.4C300.3,173.8 300.7,174.2 301.0,174.5C301.3,174.9 301.7,175.4 302.0,175.7C302.3,176.0 302.7,176.1 303.0,176.3C303.3,176.5 303.7,176.7 304.0,176.9C304.3,177.1 304.7,177.3 305.0,177.6C305.3,177.8 305.7,178.1 306.0,178.4C306.3,178.6 306.7,178.9 307.0,179.2C307.3,179.4 307.7,179.7 308.0,179.9C308.3,180.2 308.7,180.5 309.0,180.7C309.3,181.0 309.7,181.2 310.0,181.5C310.3,181.8 310.7,182.1 311.0,182.3C311.3,182.5 311.7,182.7 312.0,182.9C312.3,183.0 312.7,183.1 313.0,183.2C313.3,183.4 313.7,183.5 314.0,183.6C314.3,183.7 314.7,183.9 315.0,184.0C315.3,184.1 315.7,184.3 316.0,184.4C316.3,184.6 316.7,184.7 317.0,184.8C317.3,185.0 317.7,185.1 318.0,185.2C318.3,185.3 318.7,185.4 319.0,185.5C319.3,185.5 319.7,185.5 320.0,185.5C320.3,185.5 320.7,185.6 321.0,185.6C321.3,185.6 321.7,185.6 322.0,185.7C322.3,185.7 322.7,185.7 323.0,185.7C323.3,185.7 323.7,185.8 324.0,185.8C324.3,185.8 324.7,185.8 325.0,185.9C325.3,186.0 325.7,186.3 326.0,186.5C326.3,186.7 326.7,186.9 327.0,187.1C327.3,187.3 327.7,187.5 328.0,187.8C328.3,188.0 328.7,188.2 329.0,188.4C329.3,188.6 329.7,188.9 330.0,189.1C330.3,189.3 330.7,189.5 331.0,189.8C331.3,190.0 331.7,190.3 332.0,190.6C332.3,190.9 332.7,191.1 333.0,191.3C333.3,191.6 333.7,191.8 334.0,192.1C334.3,192.3 334.7,192.5 335.0,192.8C335.3,193.0 335.7,193.2 336.0,193.5C336.3,193.7 336.7,193.9 337.0,194.2C337.3,194.4 337.7,194.6 338.0,194.9C338.3,195.1 338.7,195.4 339.0,195.6C339.3,195.9 339.7,196.1 340.0,196.4C340.3,196.7 340.7,197.1 341.0,197.4C341.3,197.8 341.7,198.1 342.0,198.5C342.3,198.9 342.7,199.2 343.0,199.6C343.3,200.0 343.7,200.4 344.0,200.7C344.3,201.1 344.7,201.4 345.0,201.8C345.3,202.2 345.7,202.6 346.0,203.0C346.3,203.4 346.7,203.8 347.0,204.2C347.3,204.7 347.7,205.1 348.0,205.5C348.3,205.8 348.7,206.2 349.0,206.5C349.3,206.9 349.7,207.3 350.0,207.6C350.3,208.0 350.7,208.3 351.0,208.8C351.3,209.2 351.7,209.7 352.0,210.2C352.3,210.6 352.7,210.8 353.0,211.4C353.3,212.0 353.7,213.0 354.0,213.9C354.3,214.8 354.7,215.8 355.0,216.8C355.3,217.8 355.7,218.8 356.0,219.7C356.3,220.5 356.7,221.1 357.0,221.9C357.3,222.6 357.7,223.4 358.0,224.2C358.3,225.0 358.7,225.7 359.0,226.5C359.3,227.3 359.7,228.1 360.0,228.8C360.3,229.6 360.7,230.4 361.0,231.2C361.3,231.9 361.7,232.7 362.0,233.5C362.3,234.2 362.7,235.0 363.0,235.7C363.3,236.5 363.7,237.2 364.0,238.0C364.3,238.8 364.7,239.5 365.0,240.3C365.3,241.1 365.7,242.0 366.0,242.9C366.3,243.7 366.7,244.6 367.0,245.4C367.3,246.3 367.7,247.1 368.0,248.0C368.3,248.9 368.7,249.5 369.0,250.8C369.3,252.2 369.7,254.2 370.0,255.9C370.3,257.6 370.7,259.4 371.0,261.0C371.3,262.5 371.7,263.8 372.0,265.2C372.3,266.6 372.7,268.0 373.0,269.4C373.3,270.8 373.7,272.3 374.0,273.7C374.3,275.1 374.7,276.5 375.0,277.9C375.3,279.2 375.7,280.4 376.0,281.7C376.3,283.0 376.7,284.3 377.0,285.5C377.3,286.8 377.7,288.1 378.0,289.4C378.3,290.6 378.7,292.0 379.0,293.2C379.3,294.4 379.7,295.5 380.0,296.7C380.3,297.8 380.7,298.9 381.0,300.1C381.3,301.2 381.7,302.3 382.0,303.5C382.3,304.6 382.7,305.8 383.0,306.9C383.3,308.0 383.7,309.2 384.0,310.3C384.3,311.4 384.7,312.6 385.0,313.7C385.3,314.8 385.7,316.0 386.0,317.1C386.3,318.2 386.7,319.4 387.0,320.5C387.3,321.6 387.7,322.7 388.0,323.8C388.3,325.0 388.7,326.1 389.0,327.2C389.3,328.4 389.7,329.5 390.0,330.7C390.3,331.8 390.7,332.8 391.0,333.9C391.3,335.0 391.7,336.1 392.0,337.1C392.3,338.2 392.7,339.2 393.0,340.4C393.3,341.6 393.7,342.9 394.0,344.2C394.3,345.5 394.7,346.8 395.0,348.1C395.3,349.4 395.7,350.7 396.0,351.9C396.3,353.1 396.7,354.4 397.0,355.5C397.3,356.5 397.7,357.3 398.0,358.3C398.3,359.2 398.7,360.1 399.0,361.1C399.3,362.0 399.7,362.9 400.0,363.9C400.3,364.8 400.7,365.8 401.0,366.7C401.3,367.6 401.7,368.5 402.0,369.5C402.3,370.5 402.7,371.7 403.0,372.7C403.3,373.8 403.7,374.9 404.0,375.9C404.3,377.0 404.7,378.1 405.0,379.1C405.3,380.2 405.7,381.4 406.0,382.4C406.3,383.3 406.7,384.2 407.0,384.8C407.3,385.4 407.7,385.7 408.0,386.1C408.3,386.6 408.7,387.0 409.0,387.4C409.3,387.8 409.7,388.2 410.0,388.6C410.3,389.1 410.7,389.5 411.0,390.0C411.3,390.4 411.7,390.8 412.0,391.2C412.3,391.6 412.7,392.0 413.0,392.4C413.3,392.8 413.7,393.1 414.0,393.5C414.3,393.9 414.7,394.3 415.0,394.7C415.3,395.0 415.7,395.4 416.0,395.8C416.3,396.2 416.7,396.5 417.0,396.9C417.3,397.4 417.7,398.0 418.0,398.6C418.3,399.2 418.7,399.8 419.0,400.5C419.3,401.1 419.7,401.7 420.0,402.3C420.3,402.9 420.7,403.5 421.0,404.1C421.3,404.7 421.7,405.4 422.0,405.9C422.3,406.5 422.7,407.0 423.0,407.4C423.3,407.9 423.7,408.2 424.0,408.6C424.3,409.0 424.7,409.4 425.0,409.9C425.3,410.3 425.7,410.7 426.0,411.1C426.3,411.5 426.7,411.8 427.0,412.3C427.3,412.8 427.7,413.5 428.0,414.1C428.3,414.8 428.7,415.4 429.0,416.0C429.3,416.6 429.7,417.2 430.0,417.8C430.3,418.4 430.7,419.0 431.0,419.6C431.3,420.3 431.7,421.1 432.0,421.9C432.3,422.6 432.7,423.5 433.0,424.0C433.3,424.6 433.7,424.7 434.0,425.0C434.3,425.3 434.7,425.6 435.0,425.9C435.3,426.2 435.7,426.5 436.0,426.7C436.3,427.0 436.7,427.2 437.0,427.5C437.3,427.8 437.7,428.0 438.0,428.3C438.3,428.5 438.7,428.7 439.0,428.9C439.3,429.1 439.7,429.4 440.0,429.6C440.3,429.8 440.7,430.0 441.0,430.2C441.3,430.5 441.7,430.7 442.0,430.9C442.3,431.1 442.7,431.3 443.0,431.6C443.3,431.8 443.7,432.0 444.0,432.2C444.3,432.5 444.7,432.7 445.0,432.9C445.3,433.1 445.7,433.3 446.0,433.6C446.3,433.9 446.7,434.2 447.0,434.5C447.3,434.9 447.7,435.3 448.0,435.6C448.3,436.0 448.7,436.4 449.0,436.7C449.3,437.0 449.7,437.3 450.0,437.6C450.3,438.0 450.7,438.3 451.0,438.6C451.3,438.8 451.7,438.9 452.0,439.1C452.3,439.3 452.7,439.4 453.0,439.6C453.3,439.8 453.7,439.9 454.0,440.1C454.3,440.3 454.7,440.4 455.0,440.6C455.3,440.8 455.7,440.9 456.0,441.1C456.3,441.2 456.7,441.4 457.0,441.5C457.3,441.6 457.7,441.8 458.0,441.9C458.3,442.0 458.7,442.1 459.0,442.3C459.3,442.4 459.7,442.5 460.0,442.6C460.3,442.8 460.7,442.9 461.0,443.0C461.3,443.1 461.7,443.3 462.0,443.4C462.3,443.5 462.7,443.5 463.0,443.6C463.3,443.6 463.7,443.7 464.0,443.7C464.3,443.8 464.7,443.8 465.0,443.9C465.3,443.9 465.7,444.0 466.0,444.0C466.3,444.1 466.7,444.1 467.0,444.1C467.3,444.2 467.7,444.3 468.0,444.3C468.3,444.3 468.7,444.2 469.0,444.2C469.3,444.1 469.7,444.0 470.0,443.9C470.3,443.9 470.7,443.8 471.0,443.7C471.3,443.7 471.7,443.6 472.0,443.6C472.3,443.5 472.7,443.4 473.0,443.3C473.3,443.3 473.7,443.2 474.0,443.1C474.3,443.0 474.7,442.8 475.0,442.7C475.3,442.6 475.7,442.5 476.0,442.3C476.3,442.2 476.7,442.1 477.0,442.0C477.3,441.8 477.7,441.7 478.0,441.6C478.3,441.5 478.7,441.3 479.0,441.2C479.3,441.1 479.7,441.0 480.0,440.8C480.3,440.6 480.7,440.2 481.0,439.9C481.3,439.6 481.7,439.3 482.0,439.0C482.3,438.7 482.7,438.5 483.0,438.2C483.3,437.8 483.7,437.3 484.0,437.0C484.3,436.6 484.7,436.3 485.0,436.0C485.3,435.6 485.7,435.3 486.0,434.9C486.3,434.6 486.7,434.2 487.0,433.6C487.3,433.1 487.7,432.4 488.0,431.8C488.3,431.2 488.7,430.6 489.0,430.0C489.3,429.3 489.7,428.7 490.0,427.9C490.3,427.1 490.7,426.0 491.0,425.1C491.3,424.2 491.7,423.5 492.0,422.4C492.3,421.3 492.7,419.7 493.0,418.3C493.3,416.9 493.7,415.6 494.0,413.9C494.3,412.1 494.7,409.8 495.0,407.7C495.3,405.6 495.7,403.6 496.0,401.4C496.3,399.2 496.7,396.8 497.0,394.5C497.3,392.2 497.7,389.8 498.0,387.4C498.3,385.1 498.7,382.7 499.0,380.4C499.3,378.0 499.7,375.7 500.0,373.3C500.3,370.9 500.7,368.5 501.0,366.2C501.3,363.9 501.7,361.6 502.0,359.3C502.3,357.0 502.7,354.8 503.0,352.5C503.3,350.2 503.7,347.9 504.0,345.6C504.3,343.3 504.7,341.0 505.0,338.6C505.3,336.3 505.7,333.9 506.0,331.6C506.3,329.2 506.7,326.9 507.0,324.5C507.3,322.1 507.7,319.8 508.0,317.4C508.3,315.0 508.7,312.6 509.0,310.2C509.3,307.8 509.7,305.3 510.0,302.9C510.3,300.5 510.7,298.1 511.0,295.8C511.3,293.5 511.7,291.3 512.0,289.4C512.3,287.4 512.7,285.8 513.0,284.1C513.3,282.3 513.7,280.5 514.0,278.8C514.3,277.0 514.7,275.2 515.0,273.4C515.3,271.7 515.7,269.9 516.0,268.1C516.3,266.3 516.7,264.5 517.0,262.7C517.3,260.8 517.7,258.8 518.0,256.9C518.3,254.9 518.7,253.0 519.0,251.0C519.3,249.1 519.7,247.1 520.0,245.1C520.3,243.2 520.7,241.3 521.0,239.4C521.3,237.5 521.7,235.6 522.0,233.7C522.3,231.8 522.7,229.7 523.0,228.0C523.3,226.3 523.7,225.0 524.0,223.5C524.3,222.0 524.7,220.5 525.0,219.0C525.3,217.6 525.7,215.9 526.0,214.6C526.3,213.3 526.7,212.4 527.0,211.5C527.3,210.6 527.7,209.9 528.0,209.1C528.3,208.3 528.7,207.3 529.0,206.7C529.3,206.1 529.7,205.8 530.0,205.4C530.3,205.0 530.7,204.6 531.0,204.2C531.3,203.7 531.7,203.1 532.0,202.9C532.3,202.8 532.7,203.1 533.0,203.3C533.3,203.6 533.7,204.1 534.0,204.6C534.3,205.0 534.7,205.5 535.0,206.1C535.3,206.7 535.7,207.5 536.0,208.2C536.3,208.9 536.7,209.8 537.0,210.6C537.3,211.4 537.7,212.1 538.0,213.0C538.3,213.8 538.7,214.5 539.0,215.8C539.3,217.1 539.7,219.1 540.0,221.0C540.3,222.8 540.7,225.0 541.0,227.0C541.3,229.0 541.7,230.6 542.0,233.0C542.3,235.5 542.7,239.2 543.0,241.9C543.3,244.7 543.7,247.5 544.0,249.6C544.3,251.7 544.7,252.8 545.0,254.4C545.3,256.1 545.7,257.7 546.0,259.3C546.3,260.9 546.7,262.6 547.0,264.2C547.3,265.8 547.7,267.3 548.0,269.0C548.3,270.7 548.7,272.6 549.0,274.4C549.3,276.2 549.7,277.9 550.0,279.6C550.3,281.4 550.7,283.2 551.0,285.0C551.3,286.8 551.7,288.6 552.0,290.4C552.3,292.2 552.7,294.0 553.0,296.0C553.3,297.9 553.7,300.0 554.0,302.1C554.3,304.1 554.7,306.1 555.0,308.2C555.3,310.2 555.7,312.2 556.0,314.2C556.3,316.3 556.7,318.1 557.0,320.2C557.3,322.4 557.7,324.4 558.0,327.1C558.3,329.9 558.7,333.4 559.0,336.5C559.3,339.7 559.7,342.8 560.0,346.0C560.3,349.1 560.7,353.1 561.0,355.4C561.3,357.7 561.7,358.4 562.0,359.9C562.3,361.4 562.7,362.8 563.0,364.2C563.3,365.6 563.7,366.9 564.0,368.3C564.3,369.6 564.7,370.9 565.0,372.3C565.3,373.6 565.7,375.0 566.0,376.4C566.3,377.8 566.7,379.3 567.0,380.7C567.3,382.1 567.7,383.6 568.0,385.0C568.3,386.5 568.7,388.0 569.0,389.3C569.3,390.7 569.7,392.0 570.0,393.2C570.3,394.4 570.7,395.6 571.0,396.8C571.3,398.0 571.7,399.2 572.0,400.4C572.3,401.5 572.7,402.6 573.0,403.6C573.3,404.6 573.7,405.5 574.0,406.5C574.3,407.4 574.7,408.4 575.0,409.4C575.3,410.3 575.7,411.1 576.0,411.9C576.3,412.8 576.7,413.6 577.0,414.4C577.3,415.2 577.7,416.1 578.0,416.9C578.3,417.7 578.7,418.5 579.0,419.4C579.3,420.2 579.7,421.0 580.0,421.9C580.3,422.7 580.7,423.7 581.0,424.5C581.3,425.2 581.7,425.8 582.0,426.2C582.3,426.7 582.7,426.9 583.0,427.2C583.3,427.5 583.7,427.9 584.0,428.2C584.3,428.4 584.7,428.6 585.0,428.8C585.3,429.0 585.7,429.1 586.0,429.3C586.3,429.5 586.7,429.7 587.0,429.8C587.3,430.0 587.7,430.2 588.0,430.4C588.3,430.5 588.7,430.6 589.0,430.7C589.3,430.8 589.7,431.0 590.0,431.1C590.3,431.2 590.7,431.3 591.0,431.4C591.3,431.5 591.7,431.7 592.0,431.8C592.3,431.9 592.7,432.0 593.0,432.0C593.3,432.1 593.7,432.2 594.0,432.3C594.3,432.4 594.7,432.5 595.0,432.6C595.3,432.7 595.7,432.8 596.0,432.9C596.3,433.0 596.7,433.1 597.0,433.2C597.3,433.3 597.7,433.4 598.0,433.4C598.3,433.5 598.7,433.6 599.0,433.7C599.3,433.8 599.7,433.8 600.0,434.0C600.3,434.2 600.7,434.6 601.0,434.8C601.3,435.1 601.7,435.4 602.0,435.7C602.3,436.0 602.7,436.3 603.0,436.6C603.3,436.9 603.7,437.2 604.0,437.5C604.3,437.7 604.7,438.0 605.0,438.3C605.3,438.7 605.7,439.2 606.0,439.6C606.3,440.0 606.7,440.4 607.0,440.9C607.3,441.3 607.7,441.7 608.0,442.1C608.3,442.5 608.7,442.9 609.0,443.4C609.3,443.8 609.7,444.3 610.0,444.6C610.3,444.9 610.7,445.1 611.0,445.3C611.3,445.6 611.7,445.8 612.0,446.1C612.3,446.3 612.7,446.6 613.0,446.8C613.3,447.1 613.7,447.3 614.0,447.6C614.3,447.9 614.7,448.1 615.0,448.4C615.3,448.6 615.7,448.9 616.0,449.1C616.3,449.4 616.7,449.6 617.0,449.9C617.3,450.2 617.7,450.4 618.0,450.7C618.3,450.9 618.7,451.2 619.0,451.5C619.3,451.7 619.7,452.0 620.0,452.2C620.3,452.4 620.7,452.6 621.0,452.9C621.3,453.1 621.7,453.3 622.0,453.5C622.3,453.7 622.7,453.9 623.0,454.1C623.3,454.3 623.7,454.6 624.0,454.8C624.3,455.0 624.7,455.2 625.0,455.4C625.3,455.6 625.7,455.9 626.0,456.1C626.3,456.2 626.7,456.2 627.0,456.3C627.3,456.4 627.7,456.5 628.0,456.5C628.3,456.6 628.7,456.6 629.0,456.7C629.3,456.7 629.7,456.8 630.0,456.9C630.3,456.9 630.7,457.0 631.0,457.1C631.3,457.1 631.7,457.2 632.0,457.3C632.3,457.4 632.7,457.4 633.0,457.5C633.3,457.6 633.7,457.6 634.0,457.7C634.3,457.8 634.7,457.8 635.0,457.9C635.3,458.0 635.7,458.1 636.0,458.1C636.3,458.2 636.7,458.3 637.0,458.3C637.3,458.4 637.7,458.4 638.0,458.5C638.3,458.6 638.7,458.6 639.0,458.7C639.3,458.8 639.7,458.9 640.0,459.0C640.3,459.1 640.7,459.2 641.0,459.3C641.3,459.4 641.7,459.5 642.0,459.6C642.3,459.7 642.7,459.8 643.0,459.9C643.3,460.0 643.7,460.1 644.0,460.3C644.3,460.4 644.7,460.5 645.0,460.6C645.3,460.7 645.7,460.8 646.0,460.9C646.3,461.0 646.7,461.1 647.0,461.2C647.3,461.3 647.7,461.4 648.0,461.5C648.3,461.6 648.7,461.7 649.0,461.7C649.3,461.8 649.7,461.9 650.0,462.0C650.3,462.1 650.7,462.1 651.0,462.2C651.3,462.3 651.7,462.4 652.0,462.5C652.3,462.5 652.7,462.6 653.0,462.7C653.3,462.8 653.7,462.8 654.0,462.9C654.3,463.0 654.7,463.1 655.0,463.2C655.3,463.2 655.7,463.3 656.0,463.4C656.3,463.5 656.7,463.6 657.0,463.6C657.3,463.7 657.7,463.8 658.0,463.9C658.3,464.0 658.7,464.1 659.0,464.1C659.3,464.2 659.7,464.3 660.0,464.4C660.3,464.5 660.7,464.6 661.0,464.7C661.3,464.7 661.7,464.8 662.0,464.9C662.3,465.0 662.7,465.1 663.0,465.2C663.3,465.3 663.7,465.3 664.0,465.4C664.3,465.5 664.7,465.6 665.0,465.7C665.3,465.8 665.7,465.8 666.0,465.9C666.3,466.0 666.7,466.1 667.0,466.2C667.3,466.2 667.7,466.2 668.0,466.3C668.3,466.3 668.7,466.4 669.0,466.4C669.3,466.5 669.7,466.5 670.0,466.5C670.3,466.6 670.7,466.6 671.0,466.7C671.3,466.7 671.7,466.8 672.0,466.8C672.3,466.8 672.7,466.9 673.0,466.9C673.3,467.0 673.7,467.0 674.0,467.0C674.3,467.1 674.7,467.1 675.0,467.2C675.3,467.2 675.7,467.2 676.0,467.3C676.3,467.4 676.7,467.5 677.0,467.7C677.3,467.8 677.7,467.9 678.0,468.1C678.3,468.2 678.7,468.3 679.0,468.5C679.3,468.6 679.7,468.7 680.0,468.9C680.3,469.0 680.7,469.1 681.0,469.3C681.3,469.4 681.7,469.5 682.0,469.7C682.3,469.8 682.7,469.9 683.0,470.1C683.3,470.2 683.7,470.3 684.0,470.5C684.3,470.6 684.7,470.7 685.0,470.9C685.3,471.0 685.7,471.1 686.0,471.2C686.3,471.3 686.7,471.3 687.0,471.4C687.3,471.4 687.7,471.5 688.0,471.6C688.3,471.7 688.7,471.7 689.0,471.8C689.3,471.9 689.7,471.9 690.0,472.0C690.3,472.1 690.7,472.1 691.0,472.2C691.3,472.3 691.7,472.4 692.0,472.4C692.3,472.5 692.7,472.6 693.0,472.6C693.3,472.7 693.7,472.8 694.0,472.8C694.3,472.9 694.7,473.0 695.0,473.1C695.3,473.1 695.7,473.2 696.0,473.3C696.3,473.3 696.7,473.4 697.0,473.5C697.3,473.5 697.7,473.6 698.0,473.7C698.3,473.8 698.7,473.8 699.0,473.9C699.3,474.0 699.7,474.0 700.0,474.1C700.3,474.2 700.7,474.2 701.0,474.3C701.3,474.3 701.7,474.4 702.0,474.5C702.3,474.5 702.7,474.6 703.0,474.6C703.3,474.7 703.7,474.8 704.0,474.8C704.3,474.9 704.7,474.9 705.0,475.0C705.3,475.1 705.7,475.1 706.0,475.2C706.3,475.2 706.7,475.3 707.0,475.4C707.3,475.4 705.8,474.8 708.0,475.5C710.2,476.2 714.7,476.0 720.0,479.5C725.3,483.0 733.8,492.7 740.0,496.5C746.2,500.3 752.0,500.8 757.0,502.5C762.0,504.2 764.5,505.2 770.0,507.0C775.5,508.8 783.3,510.0 790.0,513.0C796.7,516.0 803.3,519.7 810.0,525.0C816.7,530.3 823.3,538.7 830.0,545.0C836.7,551.3 843.0,558.0 850.0,563.0C857.0,568.0 868.3,573.0 872.0,575.0" stroke="#ffb573"/>
<path d="M172.0,660.0C173.5,656.7 178.1,644.8 180.9,640.0C183.7,635.2 186.9,633.0 188.7,631.0C190.5,629.0 190.4,629.2 191.7,628.0C193.0,626.8 194.8,625.3 196.5,624.0C198.2,622.7 200.2,621.0 201.6,620.0C203.0,619.0 204.0,618.8 204.8,618.0C205.6,617.2 206.0,616.0 206.6,615.0C207.1,614.0 207.7,613.0 208.3,612.0C208.9,611.0 209.5,610.0 210.2,609.0C210.8,608.0 211.5,607.0 212.0,606.0C212.5,605.0 212.9,604.0 213.3,603.0C213.8,602.0 214.1,601.7 214.7,600.0C215.3,598.3 216.3,595.3 217.1,593.0C218.0,590.7 219.0,588.2 219.6,586.0C220.2,583.8 220.4,582.0 220.7,580.0C221.0,578.0 220.7,577.0 221.3,574.0C221.9,571.0 223.5,566.0 224.6,562.0C225.6,558.0 226.9,554.5 227.8,550.0C228.7,545.5 229.4,540.0 230.2,535.0C230.9,530.0 231.8,524.8 232.5,520.0C233.2,515.2 233.8,510.7 234.4,506.0C235.0,501.3 235.6,497.0 236.3,492.0C237.0,487.0 237.9,481.3 238.7,476.0C239.5,470.7 240.3,465.2 241.0,460.0C241.8,454.8 242.5,450.0 243.3,445.0C244.0,440.0 244.9,434.5 245.5,430.0C246.1,425.5 246.4,422.2 246.9,418.0C247.3,413.8 247.9,409.3 248.3,405.0C248.8,400.7 249.4,396.2 249.8,392.0C250.3,387.8 250.8,384.5 251.2,380.0C251.6,375.5 251.9,370.0 252.2,365.0C252.5,360.0 252.8,354.2 253.2,350.0C253.5,345.8 253.9,343.3 254.3,340.0C254.7,336.7 254.9,334.2 255.4,330.0C255.9,325.8 256.5,320.0 257.1,315.0C257.6,310.0 258.2,304.5 258.7,300.0C259.2,295.5 259.6,292.2 260.1,288.0C260.6,283.8 261.1,279.3 261.6,275.0C262.1,270.7 262.6,266.2 263.1,262.0C263.5,257.8 263.8,254.0 264.4,250.0C265.1,246.0 266.1,242.2 267.0,238.0C267.8,233.8 268.8,229.3 269.7,225.0C270.6,220.7 271.5,216.2 272.4,212.0C273.3,207.8 274.0,203.7 274.9,200.0C275.8,196.3 276.7,193.2 277.5,190.0C278.3,186.8 278.8,183.4 279.5,181.0C280.2,178.6 280.9,177.0 281.5,175.5C282.1,174.0 282.7,172.8 283.2,172.0C283.7,171.2 284.2,171.2 284.5,171.0C284.8,170.8 284.9,170.7 285.2,170.6C285.5,170.5 285.9,170.3 286.2,170.2C286.5,170.1 286.8,170.1 287.2,170.1C287.6,170.1 288.2,170.2 288.6,170.2C289.0,170.2 289.1,170.2 289.4,170.3C289.7,170.4 289.9,170.4 290.2,170.5C290.5,170.6 290.5,170.7 291.0,170.8C291.5,170.9 292.5,170.8 293.0,171.0C293.5,171.2 293.7,171.7 294.0,172.1C294.3,172.4 294.7,172.8 295.0,173.1C295.3,173.5 295.7,173.8 296.0,174.2C296.3,174.5 296.7,174.9 297.0,175.2C297.3,175.6 297.7,176.0 298.0,176.3C298.3,176.6 298.7,176.8 299.0,177.1C299.3,177.3 299.7,177.5 300.0,177.8C300.3,178.0 300.7,178.3 301.0,178.5C301.3,178.7 301.7,179.0 302.0,179.2C302.3,179.4 302.7,179.7 303.0,179.9C303.3,180.2 303.7,180.4 304.0,180.6C304.3,180.9 304.7,181.1 305.0,181.4C305.3,181.7 305.7,182.0 306.0,182.3C306.3,182.6 306.7,182.9 307.0,183.2C307.3,183.5 307.7,183.8 308.0,184.1C308.3,184.4 308.7,184.7 309.0,185.0C309.3,185.3 309.7,185.6 310.0,185.9C310.3,186.2 310.7,186.5 311.0,186.8C311.3,187.0 311.7,187.2 312.0,187.4C312.3,187.6 312.7,187.8 313.0,187.9C313.3,188.1 313.7,188.2 314.0,188.4C314.3,188.5 314.7,188.7 315.0,188.8C315.3,189.0 315.7,189.2 316.0,189.3C316.3,189.5 316.7,189.6 317.0,189.8C317.3,189.9 317.7,190.1 318.0,190.3C318.3,190.4 318.7,190.5 319.0,190.6C319.3,190.6 319.7,190.6 320.0,190.7C320.3,190.7 320.7,190.7 321.0,190.8C321.3,190.8 321.7,190.8 322.0,190.9C322.3,190.9 322.7,190.9 323.0,191.0C323.3,191.0 323.7,191.1 324.0,191.1C324.3,191.1 324.7,191.1 325.0,191.2C325.3,191.3 325.7,191.6 326.0,191.9C326.3,192.1 326.7,192.3 327.0,192.5C327.3,192.8 327.7,193.0 328.0,193.2C328.3,193.4 328.7,193.6 329.0,193.9C329.3,194.1 329.7,194.3 330.0,194.5C330.3,194.8 330.7,195.0 331.0,195.2C331.3,195.4 331.7,195.7 332.0,196.0C332.3,196.3 332.7,196.6 333.0,196.8C333.3,197.1 333.7,197.4 334.0,197.7C334.3,198.0 334.7,198.2 335.0,198.5C335.3,198.8 335.7,199.0 336.0,199.3C336.3,199.6 336.7,199.8 337.0,200.1C337.3,200.4 337.7,200.6 338.0,200.9C338.3,201.2 338.7,201.4 339.0,201.7C339.3,202.0 339.7,202.2 340.0,202.5C340.3,202.8 340.7,203.2 341.0,203.6C341.3,204.0 341.7,204.4 342.0,204.8C342.3,205.1 342.7,205.5 343.0,205.9C343.3,206.2 343.7,206.6 344.0,207.0C344.3,207.4 344.7,207.8 345.0,208.1C345.3,208.5 345.7,208.9 346.0,209.2C346.3,209.6 346.7,210.0 347.0,210.4C347.3,210.8 347.7,211.1 348.0,211.5C348.3,211.9 348.7,212.2 349.0,212.5C349.3,212.8 349.7,213.2 350.0,213.5C350.3,213.8 350.7,214.1 351.0,214.5C351.3,214.9 351.7,215.4 352.0,215.8C352.3,216.3 352.7,216.5 353.0,217.1C353.3,217.8 353.7,218.9 354.0,219.9C354.3,220.8 354.7,221.9 355.0,222.9C355.3,224.0 355.7,225.1 356.0,226.0C356.3,226.9 356.7,227.6 357.0,228.3C357.3,229.1 357.7,229.9 358.0,230.7C358.3,231.5 358.7,232.2 359.0,233.0C359.3,233.8 359.7,234.6 360.0,235.3C360.3,236.1 360.7,236.9 361.0,237.7C361.3,238.4 361.7,239.2 362.0,240.0C362.3,240.8 362.7,241.5 363.0,242.3C363.3,243.1 363.7,243.8 364.0,244.6C364.3,245.4 364.7,246.1 365.0,247.0C365.3,247.8 365.7,248.7 366.0,249.6C366.3,250.4 366.7,251.3 367.0,252.2C367.3,253.0 367.7,253.8 368.0,254.8C368.3,255.7 368.7,256.3 369.0,257.6C369.3,259.0 369.7,261.2 370.0,263.0C370.3,264.8 370.7,266.7 371.0,268.4C371.3,270.0 371.7,271.4 372.0,272.8C372.3,274.3 372.7,275.5 373.0,276.9C373.3,278.2 373.7,279.6 374.0,280.9C374.3,282.3 374.7,283.7 375.0,285.0C375.3,286.3 375.7,287.4 376.0,288.6C376.3,289.8 376.7,291.0 377.0,292.2C377.3,293.4 377.7,294.6 378.0,295.8C378.3,297.0 378.7,298.3 379.0,299.5C379.3,300.6 379.7,301.6 380.0,302.7C380.3,303.8 380.7,304.9 381.0,305.9C381.3,307.0 381.7,308.1 382.0,309.1C382.3,310.2 382.7,311.3 383.0,312.4C383.3,313.4 383.7,314.5 384.0,315.6C384.3,316.6 384.7,317.7 385.0,318.8C385.3,319.8 385.7,320.9 386.0,322.0C386.3,323.0 386.7,324.1 387.0,325.2C387.3,326.3 387.7,327.3 388.0,328.4C388.3,329.5 388.7,330.6 389.0,331.7C389.3,332.8 389.7,333.9 390.0,335.0C390.3,336.1 390.7,337.2 391.0,338.3C391.3,339.4 391.7,340.6 392.0,341.7C392.3,342.8 392.7,343.8 393.0,345.0C393.3,346.2 393.7,347.7 394.0,349.0C394.3,350.3 394.7,351.7 395.0,353.0C395.3,354.3 395.7,355.7 396.0,357.0C396.3,358.3 396.7,359.6 397.0,360.7C397.3,361.8 397.7,362.6 398.0,363.6C398.3,364.5 398.7,365.5 399.0,366.4C399.3,367.4 399.7,368.3 400.0,369.3C400.3,370.2 400.7,371.2 401.0,372.1C401.3,373.1 401.7,374.0 402.0,375.0C402.3,376.0 402.7,377.2 403.0,378.3C403.3,379.3 403.7,380.4 404.0,381.5C404.3,382.6 404.7,383.7 405.0,384.8C405.3,385.9 405.7,387.1 406.0,388.0C406.3,389.0 406.7,389.9 407.0,390.5C407.3,391.1 407.7,391.3 408.0,391.7C408.3,392.1 408.7,392.5 409.0,392.9C409.3,393.3 409.7,393.7 410.0,394.1C410.3,394.5 410.7,394.9 411.0,395.3C411.3,395.7 411.7,396.0 412.0,396.4C412.3,396.8 412.7,397.1 413.0,397.4C413.3,397.8 413.7,398.1 414.0,398.4C414.3,398.8 414.7,399.1 415.0,399.5C415.3,399.8 415.7,400.1 416.0,400.5C416.3,400.8 416.7,401.1 417.0,401.5C417.3,401.9 417.7,402.6 418.0,403.1C418.3,403.7 418.7,404.3 419.0,404.9C419.3,405.5 419.7,406.1 420.0,406.7C420.3,407.3 420.7,407.9 421.0,408.5C421.3,409.1 421.7,409.8 422.0,410.3C422.3,410.8 422.7,411.3 423.0,411.7C423.3,412.1 423.7,412.4 424.0,412.8C424.3,413.2 424.7,413.6 425.0,413.9C425.3,414.3 425.7,414.7 426.0,415.1C426.3,415.4 426.7,415.7 427.0,416.2C427.3,416.7 427.7,417.4 428.0,418.0C428.3,418.6 428.7,419.2 429.0,419.8C429.3,420.4 429.7,421.0 430.0,421.6C430.3,422.2 430.7,422.8 431.0,423.4C431.3,424.1 431.7,424.9 432.0,425.7C432.3,426.4 432.7,427.4 433.0,427.9C433.3,428.4 433.7,428.4 434.0,428.7C434.3,429.0 434.7,429.3 435.0,429.5C435.3,429.8 435.7,430.1 436.0,430.4C436.3,430.6 436.7,430.9 437.0,431.2C437.3,431.5 437.7,431.7 438.0,432.0C438.3,432.3 438.7,432.5 439.0,432.7C439.3,432.9 439.7,433.2 440.0,433.4C440.3,433.6 440.7,433.9 441.0,434.1C441.3,434.3 441.7,434.6 442.0,434.8C442.3,435.0 442.7,435.3 443.0,435.5C443.3,435.8 443.7,436.0 444.0,436.2C444.3,436.5 444.7,436.7 445.0,436.9C445.3,437.2 445.7,437.4 446.0,437.6C446.3,437.9 446.7,438.2 447.0,438.5C447.3,438.8 447.7,439.2 448.0,439.5C448.3,439.9 448.7,440.2 449.0,440.6C449.3,440.9 449.7,441.2 450.0,441.6C450.3,441.9 450.7,442.3 451.0,442.6C451.3,442.9 451.7,442.9 452.0,443.1C452.3,443.3 452.7,443.5 453.0,443.6C453.3,443.8 453.7,444.0 454.0,444.1C454.3,444.3 454.7,444.5 455.0,444.7C455.3,444.8 455.7,445.0 456.0,445.2C456.3,445.4 456.7,445.5 457.0,445.7C457.3,445.9 457.7,446.0 458.0,446.1C458.3,446.3 458.7,446.4 459.0,446.6C459.3,446.7 459.7,446.9 460.0,447.0C460.3,447.1 460.7,447.3 461.0,447.4C461.3,447.6 461.7,447.8 462.0,447.9C462.3,448.0 462.7,448.1 463.0,448.1C463.3,448.2 463.7,448.3 464.0,448.3C464.3,448.4 464.7,448.5 465.0,448.5C465.3,448.6 465.7,448.7 466.0,448.7C466.3,448.8 466.7,448.9 467.0,448.9C467.3,449.0 467.7,449.1 468.0,449.1C468.3,449.1 468.7,449.1 469.0,449.1C469.3,449.0 469.7,448.9 470.0,448.8C470.3,448.8 470.7,448.7 471.0,448.6C471.3,448.5 471.7,448.5 472.0,448.4C472.3,448.3 472.7,448.3 473.0,448.2C473.3,448.1 473.7,448.0 474.0,447.9C474.3,447.8 474.7,447.7 475.0,447.6C475.3,447.4 475.7,447.3 476.0,447.2C476.3,447.1 476.7,446.9 477.0,446.8C477.3,446.7 477.7,446.6 478.0,446.4C478.3,446.3 478.7,446.2 479.0,446.1C479.3,445.9 479.7,445.9 480.0,445.7C480.3,445.5 480.7,445.1 481.0,444.8C481.3,444.5 481.7,444.2 482.0,443.9C482.3,443.6 482.7,443.4 483.0,443.0C483.3,442.6 483.7,442.2 484.0,441.8C484.3,441.4 484.7,441.0 485.0,440.6C485.3,440.1 485.7,439.8 486.0,439.3C486.3,438.9 486.7,438.4 487.0,437.8C487.3,437.2 487.7,436.4 488.0,435.8C488.3,435.1 488.7,434.4 489.0,433.7C489.3,433.0 489.7,432.3 490.0,431.5C490.3,430.6 490.7,429.7 491.0,428.8C491.3,428.0 491.7,427.3 492.0,426.2C492.3,425.1 492.7,423.5 493.0,422.0C493.3,420.6 493.7,419.3 494.0,417.5C494.3,415.7 494.7,413.5 495.0,411.4C495.3,409.4 495.7,407.4 496.0,405.2C496.3,403.1 496.7,400.7 497.0,398.4C497.3,396.1 497.7,393.9 498.0,391.6C498.3,389.4 498.7,387.1 499.0,384.9C499.3,382.6 499.7,380.4 500.0,378.1C500.3,375.9 500.7,373.6 501.0,371.4C501.3,369.1 501.7,367.0 502.0,364.8C502.3,362.7 502.7,360.5 503.0,358.4C503.3,356.2 503.7,354.1 504.0,351.9C504.3,349.7 504.7,347.5 505.0,345.3C505.3,343.0 505.7,340.8 506.0,338.5C506.3,336.3 506.7,334.0 507.0,331.8C507.3,329.5 507.7,327.3 508.0,325.0C508.3,322.7 508.7,320.5 509.0,318.2C509.3,316.0 509.7,313.7 510.0,311.5C510.3,309.2 510.7,306.9 511.0,304.7C511.3,302.6 511.7,300.4 512.0,298.5C512.3,296.6 512.7,295.1 513.0,293.4C513.3,291.8 513.7,290.1 514.0,288.4C514.3,286.7 514.7,285.0 515.0,283.3C515.3,281.6 515.7,280.0 516.0,278.3C516.3,276.6 516.7,274.9 517.0,273.1C517.3,271.3 517.7,269.4 518.0,267.6C518.3,265.8 518.7,263.9 519.0,262.1C519.3,260.3 519.7,258.5 520.0,256.6C520.3,254.8 520.7,253.0 521.0,251.1C521.3,249.3 521.7,247.4 522.0,245.6C522.3,243.7 522.7,241.7 523.0,240.0C523.3,238.3 523.7,237.1 524.0,235.6C524.3,234.1 524.7,232.6 525.0,231.2C525.3,229.7 525.7,228.0 526.0,226.8C526.3,225.5 526.7,224.5 527.0,223.5C527.3,222.5 527.7,221.8 528.0,221.0C528.3,220.2 528.7,219.1 529.0,218.5C529.3,217.9 529.7,217.6 530.0,217.1C530.3,216.7 530.7,216.2 531.0,215.8C531.3,215.3 531.7,214.6 532.0,214.4C532.3,214.2 532.7,214.5 533.0,214.8C533.3,215.0 533.7,215.5 534.0,215.9C534.3,216.2 534.7,216.5 535.0,217.0C535.3,217.4 535.7,217.9 536.0,218.5C536.3,219.0 536.7,219.7 537.0,220.4C537.3,221.0 537.7,221.7 538.0,222.3C538.3,222.9 538.7,223.2 539.0,224.2C539.3,225.3 539.7,226.8 540.0,228.5C540.3,230.1 540.7,232.3 541.0,234.2C541.3,236.2 541.7,237.6 542.0,240.0C542.3,242.4 542.7,246.1 543.0,248.8C543.3,251.5 543.7,254.3 544.0,256.3C544.3,258.4 544.7,259.3 545.0,260.8C545.3,262.3 545.7,263.8 546.0,265.3C546.3,266.8 546.7,268.3 547.0,269.8C547.3,271.3 547.7,272.7 548.0,274.3C548.3,275.9 548.7,277.8 549.0,279.6C549.3,281.3 549.7,283.2 550.0,284.9C550.3,286.7 550.7,288.5 551.0,290.3C551.3,292.1 551.7,293.9 552.0,295.7C552.3,297.5 552.7,299.3 553.0,301.2C553.3,303.1 553.7,305.3 554.0,307.3C554.3,309.3 554.7,311.3 555.0,313.4C555.3,315.4 555.7,317.4 556.0,319.4C556.3,321.3 556.7,323.2 557.0,325.3C557.3,327.4 557.7,329.2 558.0,331.9C558.3,334.5 558.7,338.1 559.0,341.3C559.3,344.4 559.7,347.5 560.0,350.6C560.3,353.8 560.7,357.8 561.0,360.0C561.3,362.2 561.7,362.7 562.0,364.1C562.3,365.4 562.7,366.8 563.0,368.1C563.3,369.5 563.7,370.8 564.0,372.2C564.3,373.5 564.7,374.9 565.0,376.3C565.3,377.6 565.7,379.0 566.0,380.4C566.3,381.8 566.7,383.4 567.0,384.8C567.3,386.3 567.7,387.8 568.0,389.3C568.3,390.8 568.7,392.3 569.0,393.7C569.3,395.1 569.7,396.4 570.0,397.7C570.3,398.9 570.7,400.1 571.0,401.3C571.3,402.5 571.7,403.8 572.0,404.9C572.3,406.0 572.7,407.1 573.0,408.1C573.3,409.1 573.7,409.9 574.0,410.8C574.3,411.7 574.7,412.7 575.0,413.6C575.3,414.5 575.7,415.4 576.0,416.3C576.3,417.2 576.7,418.1 577.0,418.9C577.3,419.8 577.7,420.7 578.0,421.6C578.3,422.5 578.7,423.3 579.0,424.2C579.3,425.1 579.7,426.0 580.0,426.9C580.3,427.8 580.7,428.9 581.0,429.6C581.3,430.4 581.7,431.0 582.0,431.5C582.3,432.0 582.7,432.2 583.0,432.5C583.3,432.8 583.7,433.2 584.0,433.5C584.3,433.8 584.7,434.0 585.0,434.2C585.3,434.3 585.7,434.4 586.0,434.5C586.3,434.6 586.7,434.7 587.0,434.8C587.3,434.9 587.7,435.0 588.0,435.1C588.3,435.2 588.7,435.3 589.0,435.4C589.3,435.5 589.7,435.6 590.0,435.7C590.3,435.8 590.7,435.9 591.0,436.0C591.3,436.1 591.7,436.2 592.0,436.3C592.3,436.4 592.7,436.4 593.0,436.5C593.3,436.5 593.7,436.6 594.0,436.7C594.3,436.7 594.7,436.8 595.0,436.8C595.3,436.9 595.7,437.0 596.0,437.0C596.3,437.1 596.7,437.2 597.0,437.2C597.3,437.3 597.7,437.3 598.0,437.4C598.3,437.5 598.7,437.5 599.0,437.6C599.3,437.7 599.7,437.6 600.0,437.8C600.3,437.9 600.7,438.3 601.0,438.6C601.3,438.8 601.7,439.1 602.0,439.4C602.3,439.7 602.7,440.0 603.0,440.3C603.3,440.6 603.7,440.9 604.0,441.1C604.3,441.4 604.7,441.6 605.0,442.0C605.3,442.4 605.7,442.9 606.0,443.3C606.3,443.7 606.7,444.2 607.0,444.6C607.3,445.0 607.7,445.5 608.0,445.9C608.3,446.3 608.7,446.8 609.0,447.2C609.3,447.6 609.7,448.2 610.0,448.5C610.3,448.8 610.7,449.0 611.0,449.2C611.3,449.5 611.7,449.7 612.0,449.9C612.3,450.2 612.7,450.4 613.0,450.7C613.3,450.9 613.7,451.1 614.0,451.4C614.3,451.6 614.7,451.9 615.0,452.1C615.3,452.3 615.7,452.6 616.0,452.8C616.3,453.1 616.7,453.3 617.0,453.5C617.3,453.8 617.7,454.0 618.0,454.3C618.3,454.5 618.7,454.7 619.0,455.0C619.3,455.2 619.7,455.5 620.0,455.7C620.3,455.9 620.7,456.1 621.0,456.3C621.3,456.5 621.7,456.7 622.0,456.9C622.3,457.1 622.7,457.3 623.0,457.5C623.3,457.8 623.7,458.0 624.0,458.2C624.3,458.4 624.7,458.6 625.0,458.8C625.3,459.0 625.7,459.3 626.0,459.4C626.3,459.5 626.7,459.5 627.0,459.5C627.3,459.6 627.7,459.6 628.0,459.7C628.3,459.7 628.7,459.8 629.0,459.8C629.3,459.9 629.7,459.9 630.0,460.0C630.3,460.0 630.7,460.1 631.0,460.1C631.3,460.2 631.7,460.2 632.0,460.3C632.3,460.3 632.7,460.4 633.0,460.4C633.3,460.5 633.7,460.5 634.0,460.6C634.3,460.6 634.7,460.7 635.0,460.7C635.3,460.8 635.7,460.8 636.0,460.9C636.3,460.9 636.7,461.0 637.0,461.0C637.3,461.1 637.7,461.1 638.0,461.2C638.3,461.3 638.7,461.3 639.0,461.4C639.3,461.5 639.7,461.6 640.0,461.7C640.3,461.8 640.7,461.9 641.0,462.0C641.3,462.1 641.7,462.2 642.0,462.3C642.3,462.4 642.7,462.5 643.0,462.6C643.3,462.7 643.7,462.8 644.0,462.9C644.3,463.0 644.7,463.1 645.0,463.2C645.3,463.3 645.7,463.4 646.0,463.6C646.3,463.7 646.7,463.8 647.0,463.9C647.3,464.0 647.7,464.1 648.0,464.2C648.3,464.3 648.7,464.3 649.0,464.4C649.3,464.5 649.7,464.6 650.0,464.7C650.3,464.8 650.7,464.8 651.0,464.9C651.3,465.0 651.7,465.1 652.0,465.2C652.3,465.2 652.7,465.3 653.0,465.4C653.3,465.5 653.7,465.6 654.0,465.7C654.3,465.7 654.7,465.8 655.0,465.9C655.3,466.0 655.7,466.1 656.0,466.2C656.3,466.2 656.7,466.3 657.0,466.4C657.3,466.5 657.7,466.6 658.0,466.6C658.3,466.7 658.7,466.8 659.0,466.9C659.3,467.0 659.7,467.1 660.0,467.1C660.3,467.2 660.7,467.3 661.0,467.4C661.3,467.5 661.7,467.5 662.0,467.6C662.3,467.7 662.7,467.8 663.0,467.9C663.3,468.0 663.7,468.0 664.0,468.1C664.3,468.2 664.7,468.3 665.0,468.4C665.3,468.4 665.7,468.5 666.0,468.6C666.3,468.7 666.7,468.8 667.0,468.8C667.3,468.9 667.7,468.9 668.0,468.9C668.3,469.0 668.7,469.0 669.0,469.0C669.3,469.1 669.7,469.1 670.0,469.1C670.3,469.2 670.7,469.2 671.0,469.3C671.3,469.3 671.7,469.3 672.0,469.4C672.3,469.4 672.7,469.4 673.0,469.5C673.3,469.5 673.7,469.5 674.0,469.6C674.3,469.6 674.7,469.6 675.0,469.7C675.3,469.7 675.7,469.7 676.0,469.8C676.3,469.9 676.7,470.0 677.0,470.2C677.3,470.3 677.7,470.4 678.0,470.5C678.3,470.7 678.7,470.8 679.0,470.9C679.3,471.1 679.7,471.2 680.0,471.3C680.3,471.5 680.7,471.6 681.0,471.7C681.3,471.9 681.7,472.0 682.0,472.1C682.3,472.3 682.7,472.4 683.0,472.5C683.3,472.6 683.7,472.8 684.0,472.9C684.3,473.0 684.7,473.2 685.0,473.3C685.3,473.4 685.7,473.5 686.0,473.6C686.3,473.7 686.7,473.7 687.0,473.8C687.3,473.8 687.7,473.9 688.0,474.0C688.3,474.0 688.7,474.1 689.0,474.2C689.3,474.2 689.7,474.3 690.0,474.3C690.3,474.4 690.7,474.5 691.0,474.5C691.3,474.6 691.7,474.7 692.0,474.7C692.3,474.8 692.7,474.8 693.0,474.9C693.3,475.0 693.7,475.0 694.0,475.1C694.3,475.2 694.7,475.2 695.0,475.3C695.3,475.3 695.7,475.4 696.0,475.5C696.3,475.5 696.7,475.6 697.0,475.7C697.3,475.7 697.7,475.8 698.0,475.8C698.3,475.9 698.7,476.0 699.0,476.0C699.3,476.1 699.7,476.1 700.0,476.2C700.3,476.3 700.7,476.3 701.0,476.4C701.3,476.4 701.7,476.5 702.0,476.5C702.3,476.6 702.7,476.6 703.0,476.7C703.3,476.7 703.7,476.8 704.0,476.8C704.3,476.9 704.7,477.0 705.0,477.0C705.3,477.1 705.7,477.1 706.0,477.2C706.3,477.2 706.7,477.3 707.0,477.3C707.3,477.4 705.8,476.6 708.0,477.5C710.2,478.4 714.7,479.2 720.0,483.0C725.3,486.8 733.8,495.9 740.0,500.0C746.2,504.1 752.0,505.7 757.0,507.5C762.0,509.3 764.5,509.5 770.0,511.0C775.5,512.5 783.3,513.6 790.0,516.5C796.7,519.4 803.3,523.1 810.0,528.5C816.7,533.9 823.3,542.5 830.0,549.0C836.7,555.5 843.0,562.3 850.0,567.5C857.0,572.7 868.3,577.9 872.0,580.0" stroke="#ffc77f"/>
</g>
<!-- axes -->
<g shape-rendering="crispEdges">
<rect x="125" y="38" width="1" height="592" fill="#555"/>
<rect x="125" y="629" width="857" height="1" fill="#555"/>
<!-- y ticks -->
<g fill="#555">
<rect x="125" y="38" width="13" height="1"/>
<rect x="125" y="122" width="13" height="1"/>
<rect x="125" y="207" width="13" height="1"/>
<rect x="125" y="291" width="13" height="1"/>
<rect x="125" y="376" width="13" height="1"/>
<rect x="125" y="460" width="13" height="1"/>
<rect x="125" y="544" width="13" height="1"/>
</g>
<g fill="#000">
<rect x="125" y="38" width="5" height="2"/>
<rect x="133" y="38" width="5" height="2"/>
<rect x="133" y="122" width="5" height="2"/>
<rect x="133" y="207" width="5" height="2"/>
<rect x="133" y="291" width="5" height="2"/>
<rect x="133" y="376" width="5" height="2"/>
<rect x="133" y="460" width="5" height="2"/>
<rect x="133" y="545" width="5" height="2"/>
<rect x="125" y="619" width="5" height="2"/>
<rect x="133" y="630" width="5" height="2"/>
</g>
<!-- x ticks -->
<g fill="#555">
<rect x="338" y="619" width="1" height="10"/>
<rect x="552" y="619" width="1" height="10"/>
<rect x="766" y="619" width="1" height="10"/>
<rect x="981" y="619" width="1" height="10"/>
</g>
<g fill="#000">
<rect x="338" y="619" width="4" height="2"/>
<rect x="552" y="619" width="4" height="2"/>
<rect x="766" y="619" width="5" height="2"/>
<rect x="981" y="619" width="4" height="2"/>
<rect x="981" y="629" width="4" height="2"/>
</g>
</g>
<g class="ga">
<!-- tick labels -->
<g class="t" text-anchor="end">
<text x="117.4" y="53.8">70</text>
<text x="117.4" y="138.2">60</text>
<text x="117.4" y="222.7">50</text>
<text x="117.4" y="307.1">40</text>
<text x="117.4" y="391.5">30</text>
<text x="117.4" y="475.9">20</text>
<text x="117.4" y="560.9">0</text>
<polygon points="72.1,536.8 80.6,528.6 84.1,528.6 84.1,560.9 79.7,560.9 79.7,535.6 72.1,540.6" fill="#000" stroke="none"/>
<text x="117.4" y="644.8">0</text>
</g>
<g class="t" text-anchor="middle">
<text x="125.5" y="676.8">2</text>
<text x="338" y="676.8">2.2</text>
<text x="551.5" y="676.8">2.4</text>
<text x="766" y="676.8">2.6</text>
<text x="981.1" y="676.8">2.8</text>
<text x="548.9" y="732.8">Voltage / V</text>
</g>
<text class="t" style="font-size:45px" transform="translate(52.4,497.5) rotate(-90)">dQ/dV / <tspan dx="1.2">A</tspan><tspan dx="1.5">h</tspan> <tspan dx="-3.9">·</tspan> <tspan dx="-2.2">V</tspan></text>
<text class="t" style="font-size:33.4px" transform="translate(31.6,201.5) rotate(-90)">-</text>
<path d="M31.6,179.1 L8.6,179.1 M9.4,178.6 L15.8,185.4" stroke="#000" stroke-width="2.5" fill="none"/>
</g>
<!-- arrow -->
<line x1="274.5" y1="44" x2="306" y2="290" stroke="#f00" stroke-width="3.2" stroke-linecap="round"/>
<polygon points="298.8,290.9 314.5,288.8 309.2,312.5" fill="#f00"/>
<text transform="translate(310.9,224.3) rotate(80) scale(1,1.08)" font-family="'Liberation Serif', serif" font-weight="bold" font-size="24.7" fill="#f00" stroke="#f00" stroke-width="0.6">Time Increases</text>
</svg>
</body></html>
